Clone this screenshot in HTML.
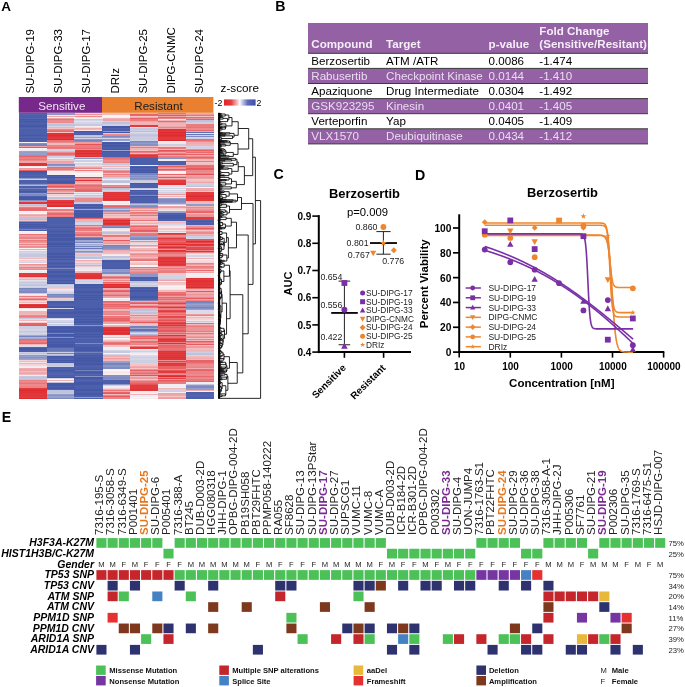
<!DOCTYPE html>
<html><head><meta charset="utf-8"><style>
html,body{margin:0;padding:0;background:#fff;}
svg{display:block;font-family:"Liberation Sans", sans-serif;filter:blur(0.3px);}
</style></head><body>
<svg width="685" height="687" viewBox="0 0 685 687">
<rect width="685" height="687" fill="#fff"/>
<text x="1.2" y="11" font-size="13.5" font-weight="bold">A</text>
<text x="275.2" y="11.1" font-size="14.2" font-weight="bold">B</text>
<text x="273.6" y="179.4" font-size="14.2" font-weight="bold">C</text>
<text x="414.9" y="179.5" font-size="14.2" font-weight="bold">D</text>
<text x="1.7" y="422.4" font-size="14.2" font-weight="bold">E</text>
<text transform="translate(33.6 93.6) rotate(-90)" font-size="11.5">SU-DIPG-19</text>
<text transform="translate(61.9 93.6) rotate(-90)" font-size="11.5">SU-DIPG-33</text>
<text transform="translate(90.2 93.6) rotate(-90)" font-size="11.5">SU-DIPG-17</text>
<text transform="translate(118.5 93.6) rotate(-90)" font-size="11.5">DRIz</text>
<text transform="translate(146.8 93.6) rotate(-90)" font-size="11.5">SU-DIPG-25</text>
<text transform="translate(175.1 93.6) rotate(-90)" font-size="11.5">DIPG-CNMC</text>
<text transform="translate(203.4 93.6) rotate(-90)" font-size="11.5">SU-DIPG-24</text>
<rect x="18.8" y="97" width="83.2" height="15.8" fill="#77298B"/>
<rect x="102" y="97" width="111.4" height="15.8" fill="#E8802F"/>
<text x="38.3" y="109.5" font-size="11.6" fill="#F3E6F3">Sensitive</text>
<text x="134.3" y="109.6" font-size="11.6" fill="#1a1a1a">Resistant</text>
<text x="220.6" y="92" font-size="11.7">z-score</text>
<text x="214.6" y="105.8" font-size="8.8">-2</text>
<text x="256.6" y="105.8" font-size="8.8">2</text>
<defs><linearGradient id="gr" x1="0" x2="1" y1="0" y2="0"><stop offset="0" stop-color="#E0262C"/><stop offset="0.22" stop-color="#E23A3E"/><stop offset="0.47" stop-color="#F8E0E2"/><stop offset="0.5" stop-color="#FFFFFF"/><stop offset="0.53" stop-color="#E4E6F4"/><stop offset="0.75" stop-color="#5D6BBA"/><stop offset="1" stop-color="#3E4FA9"/></linearGradient></defs>
<rect x="224" y="99.4" width="31.6" height="6.2" fill="url(#gr)"/>
<defs><filter id="hb" x="-2%" y="-2%" width="104%" height="104%"><feGaussianBlur stdDeviation="0.25 0.4"/></filter></defs>
<g shape-rendering="crispEdges" filter="url(#hb)">
<path fill="#E02A2E" d="M18.8 164.24h28.1v1.25h-28.1zM18.8 275.25h28.1v1.25h-28.1zM18.8 304.67h28.1v1.25h-28.1zM18.8 306.56h28.1v1.25h-28.1zM18.8 387.21h28.1v1.25h-28.1zM18.8 390.06h28.1v1.25h-28.1zM18.8 397.65h28.1v1.25h-28.1zM46.6 134.82h28.1v1.25h-28.1zM46.6 138.62h28.1v1.25h-28.1zM46.6 199.34h28.1v1.25h-28.1zM46.6 202.19h28.1v1.25h-28.1zM46.6 205.99h28.1v1.25h-28.1zM74.4 152.85h28.1v1.25h-28.1zM102.2 199.34h28.1v1.25h-28.1zM102.2 219.27h28.1v2.2h-28.1zM102.2 223.07h28.1v1.25h-28.1zM102.2 283.79h28.1v1.25h-28.1zM102.2 286.64h28.1v1.25h-28.1zM102.2 327.44h28.1v1.25h-28.1zM102.2 329.33h28.1v2.2h-28.1zM102.2 333.13h28.1v1.25h-28.1zM130 385.32h28.1v1.25h-28.1zM130 387.21h28.1v1.25h-28.1zM157.8 131.98h28.1v1.25h-28.1zM157.8 134.82h28.1v1.25h-28.1zM157.8 139.57h28.1v1.25h-28.1zM157.8 183.21h28.1v1.25h-28.1zM157.8 243.94h28.1v1.25h-28.1zM157.8 246.79h28.1v1.25h-28.1zM157.8 331.23h28.1v1.25h-28.1zM157.8 356.85h28.1v1.25h-28.1zM157.8 363.49h28.1v1.25h-28.1zM157.8 375.83h28.1v1.25h-28.1zM185.6 195.55h28.1v1.25h-28.1zM185.6 241.09h28.1v1.25h-28.1zM185.6 286.64h28.1v1.25h-28.1z"/>
<path fill="#E13236" d="M18.8 162.34h28.1v2.2h-28.1zM18.8 165.19h28.1v1.25h-28.1zM18.8 203.14h28.1v1.25h-28.1zM18.8 273.35h28.1v1.25h-28.1zM18.8 276.2h28.1v1.25h-28.1zM18.8 305.61h28.1v1.25h-28.1zM18.8 389.11h28.1v1.25h-28.1zM18.8 391.01h28.1v3.15h-28.1zM18.8 394.8h28.1v1.25h-28.1zM46.6 132.93h28.1v2.2h-28.1zM46.6 135.77h28.1v1.25h-28.1zM46.6 201.24h28.1v1.25h-28.1zM46.6 205.04h28.1v1.25h-28.1zM74.4 150h28.1v2.2h-28.1zM74.4 155.7h28.1v1.25h-28.1zM74.4 179.42h28.1v2.2h-28.1zM74.4 274.3h28.1v5.04h-28.1zM102.2 191.75h28.1v1.25h-28.1zM102.2 193.65h28.1v1.25h-28.1zM102.2 195.55h28.1v1.25h-28.1zM102.2 197.45h28.1v2.2h-28.1zM102.2 224.01h28.1v1.25h-28.1zM102.2 285.69h28.1v1.25h-28.1zM102.2 328.39h28.1v1.25h-28.1zM102.2 332.18h28.1v1.25h-28.1zM130 154.75h28.1v1.25h-28.1zM130 156.65h28.1v1.25h-28.1zM130 347.36h28.1v1.25h-28.1zM130 389.11h28.1v1.25h-28.1zM157.8 129.13h28.1v2.2h-28.1zM157.8 132.93h28.1v2.2h-28.1zM157.8 135.77h28.1v1.25h-28.1zM157.8 182.27h28.1v1.25h-28.1zM157.8 184.16h28.1v1.25h-28.1zM157.8 232.55h28.1v1.25h-28.1zM157.8 237.3h28.1v1.25h-28.1zM157.8 249.63h28.1v1.25h-28.1zM157.8 256.27h28.1v1.25h-28.1zM157.8 258.17h28.1v1.25h-28.1zM157.8 261.02h28.1v1.25h-28.1zM157.8 263.87h28.1v1.25h-28.1zM157.8 306.56h28.1v1.25h-28.1zM157.8 322.69h28.1v1.25h-28.1zM157.8 324.59h28.1v1.25h-28.1zM157.8 335.03h28.1v1.25h-28.1zM157.8 338.82h28.1v1.25h-28.1zM157.8 342.62h28.1v1.25h-28.1zM157.8 351.16h28.1v1.25h-28.1zM157.8 353.06h28.1v1.25h-28.1zM157.8 354.95h28.1v1.25h-28.1zM157.8 358.75h28.1v1.25h-28.1zM157.8 362.54h28.1v1.25h-28.1zM157.8 365.39h28.1v1.25h-28.1zM185.6 194.6h28.1v1.25h-28.1zM185.6 197.45h28.1v2.2h-28.1zM185.6 216.42h28.1v1.25h-28.1zM185.6 243.94h28.1v1.25h-28.1zM185.6 250.58h28.1v1.25h-28.1zM185.6 278.1h28.1v1.25h-28.1zM185.6 280h28.1v3.15h-28.1zM185.6 283.79h28.1v1.25h-28.1z"/>
<path fill="#E23A3E" d="M18.8 202.19h28.1v1.25h-28.1zM18.8 272.4h28.1v1.25h-28.1zM18.8 274.3h28.1v1.25h-28.1zM18.8 303.72h28.1v1.25h-28.1zM18.8 307.51h28.1v1.25h-28.1zM18.8 388.16h28.1v1.25h-28.1zM18.8 393.86h28.1v1.25h-28.1zM18.8 395.75h28.1v2.2h-28.1zM46.6 136.72h28.1v2.2h-28.1zM46.6 200.29h28.1v1.25h-28.1zM46.6 203.14h28.1v2.2h-28.1zM74.4 151.9h28.1v1.25h-28.1zM74.4 153.8h28.1v2.2h-28.1zM74.4 176.57h28.1v2.2h-28.1zM74.4 272.4h28.1v2.2h-28.1zM102.2 192.7h28.1v1.25h-28.1zM102.2 194.6h28.1v1.25h-28.1zM102.2 196.5h28.1v1.25h-28.1zM102.2 200.29h28.1v1.25h-28.1zM102.2 221.17h28.1v2.2h-28.1zM102.2 284.74h28.1v1.25h-28.1zM102.2 326.49h28.1v1.25h-28.1zM102.2 331.23h28.1v1.25h-28.1zM102.2 334.08h28.1v1.25h-28.1zM130 124.39h28.1v3.15h-28.1zM130 155.7h28.1v1.25h-28.1zM130 346.41h28.1v1.25h-28.1zM130 348.31h28.1v1.25h-28.1zM130 384.37h28.1v1.25h-28.1zM130 386.27h28.1v1.25h-28.1zM130 388.16h28.1v1.25h-28.1zM130 390.06h28.1v1.25h-28.1zM157.8 131.03h28.1v1.25h-28.1zM157.8 136.72h28.1v3.15h-28.1zM157.8 179.42h28.1v3.15h-28.1zM157.8 238.25h28.1v1.25h-28.1zM157.8 250.58h28.1v1.25h-28.1zM157.8 257.22h28.1v1.25h-28.1zM157.8 259.12h28.1v2.2h-28.1zM157.8 261.97h28.1v2.2h-28.1zM157.8 264.81h28.1v1.25h-28.1zM157.8 310.36h28.1v2.2h-28.1zM157.8 339.77h28.1v2.2h-28.1zM157.8 352.11h28.1v1.25h-28.1zM157.8 354h28.1v1.25h-28.1zM157.8 355.9h28.1v1.25h-28.1zM157.8 357.8h28.1v1.25h-28.1zM157.8 364.44h28.1v1.25h-28.1zM157.8 368.24h28.1v1.25h-28.1zM157.8 371.08h28.1v2.2h-28.1zM157.8 374.88h28.1v1.25h-28.1zM185.6 191.75h28.1v3.15h-28.1zM185.6 196.5h28.1v1.25h-28.1zM185.6 199.34h28.1v2.2h-28.1zM185.6 217.37h28.1v3.15h-28.1zM185.6 244.89h28.1v1.25h-28.1zM185.6 279.05h28.1v1.25h-28.1zM185.6 282.84h28.1v1.25h-28.1zM185.6 284.74h28.1v2.2h-28.1z"/>
<path fill="#E34246" d="M157.8 234.45h28.1v1.25h-28.1zM157.8 302.77h28.1v1.25h-28.1zM157.8 316.05h28.1v1.25h-28.1zM157.8 329.33h28.1v1.25h-28.1zM157.8 360.65h28.1v1.25h-28.1zM157.8 377.73h28.1v1.25h-28.1zM185.6 242.04h28.1v1.25h-28.1zM185.6 248.68h28.1v1.25h-28.1z"/>
<path fill="#E44A4E" d="M157.8 233.5h28.1v1.25h-28.1zM157.8 245.84h28.1v1.25h-28.1zM157.8 252.48h28.1v1.25h-28.1zM157.8 309.41h28.1v1.25h-28.1zM157.8 317h28.1v1.25h-28.1zM157.8 321.74h28.1v1.25h-28.1zM157.8 326.49h28.1v1.25h-28.1zM157.8 337.87h28.1v1.25h-28.1zM157.8 350.21h28.1v1.25h-28.1zM157.8 381.52h28.1v1.25h-28.1zM185.6 239.2h28.1v1.25h-28.1zM185.6 246.79h28.1v2.2h-28.1z"/>
<path fill="#E55256" d="M74.4 143.36h28.1v2.2h-28.1zM74.4 218.32h28.1v1.25h-28.1zM130 153.8h28.1v1.25h-28.1zM130 363.49h28.1v1.25h-28.1zM130 374.88h28.1v1.25h-28.1zM130 383.42h28.1v1.25h-28.1zM157.8 122.49h28.1v1.25h-28.1zM157.8 150h28.1v1.25h-28.1zM157.8 239.2h28.1v1.25h-28.1zM157.8 242.04h28.1v2.2h-28.1zM157.8 293.28h28.1v1.25h-28.1zM157.8 319.85h28.1v1.25h-28.1zM157.8 323.64h28.1v1.25h-28.1zM157.8 370.13h28.1v1.25h-28.1zM185.6 173.73h28.1v1.25h-28.1zM185.6 238.25h28.1v1.25h-28.1zM185.6 240.14h28.1v1.25h-28.1z"/>
<path fill="#E65A5E" d="M18.8 147.16h28.1v1.25h-28.1zM18.8 169.93h28.1v1.25h-28.1zM18.8 214.53h28.1v1.25h-28.1zM18.8 311.31h28.1v1.25h-28.1zM18.8 313.2h28.1v1.25h-28.1zM18.8 324.59h28.1v1.25h-28.1zM46.6 162.34h28.1v1.25h-28.1zM46.6 186.06h28.1v1.25h-28.1zM102.2 218.32h28.1v1.25h-28.1zM102.2 234.45h28.1v1.25h-28.1zM102.2 240.14h28.1v1.25h-28.1zM102.2 244.89h28.1v1.25h-28.1zM102.2 290.43h28.1v2.2h-28.1zM102.2 392.91h28.1v1.25h-28.1zM102.2 395.75h28.1v1.25h-28.1zM130 145.26h28.1v1.25h-28.1zM130 229.71h28.1v1.25h-28.1zM130 302.77h28.1v1.25h-28.1zM130 305.61h28.1v1.25h-28.1zM130 321.74h28.1v1.25h-28.1zM130 366.34h28.1v1.25h-28.1zM157.8 114.9h28.1v1.25h-28.1zM157.8 153.8h28.1v1.25h-28.1zM157.8 168.98h28.1v1.25h-28.1zM157.8 176.57h28.1v1.25h-28.1zM157.8 240.14h28.1v1.25h-28.1zM157.8 247.73h28.1v1.25h-28.1zM157.8 270.51h28.1v1.25h-28.1zM157.8 327.44h28.1v1.25h-28.1zM157.8 330.28h28.1v1.25h-28.1zM157.8 344.52h28.1v1.25h-28.1zM157.8 379.62h28.1v1.25h-28.1zM157.8 383.42h28.1v1.25h-28.1zM185.6 168.03h28.1v2.2h-28.1zM185.6 227.81h28.1v1.25h-28.1zM185.6 288.53h28.1v1.25h-28.1zM185.6 290.43h28.1v2.2h-28.1zM185.6 294.23h28.1v1.25h-28.1zM185.6 298.02h28.1v1.25h-28.1zM185.6 325.54h28.1v1.25h-28.1zM185.6 340.72h28.1v1.25h-28.1zM185.6 343.57h28.1v1.25h-28.1zM185.6 345.47h28.1v1.25h-28.1z"/>
<path fill="#E76366" d="M18.8 155.7h28.1v1.25h-28.1zM18.8 238.25h28.1v1.25h-28.1zM18.8 322.69h28.1v2.2h-28.1zM18.8 342.62h28.1v1.25h-28.1zM18.8 382.47h28.1v1.25h-28.1zM46.6 122.49h28.1v1.25h-28.1zM46.6 144.31h28.1v1.25h-28.1zM46.6 188.91h28.1v1.25h-28.1zM46.6 215.47h28.1v1.25h-28.1zM74.4 140.52h28.1v1.25h-28.1zM74.4 146.21h28.1v1.25h-28.1zM74.4 189.86h28.1v1.25h-28.1zM74.4 217.37h28.1v1.25h-28.1zM74.4 234.45h28.1v1.25h-28.1zM102.2 156.65h28.1v1.25h-28.1zM102.2 162.34h28.1v1.25h-28.1zM102.2 187.01h28.1v1.25h-28.1zM102.2 205.99h28.1v1.25h-28.1zM102.2 277.15h28.1v1.25h-28.1zM102.2 281.89h28.1v1.25h-28.1zM102.2 300.87h28.1v1.25h-28.1zM102.2 303.72h28.1v1.25h-28.1zM102.2 307.51h28.1v1.25h-28.1zM102.2 317.95h28.1v1.25h-28.1zM102.2 319.85h28.1v1.25h-28.1zM102.2 391.96h28.1v1.25h-28.1zM130 113.95h28.1v1.25h-28.1zM130 117.74h28.1v1.25h-28.1zM130 225.91h28.1v1.25h-28.1zM130 230.66h28.1v1.25h-28.1zM130 254.38h28.1v1.25h-28.1zM130 307.51h28.1v1.25h-28.1zM130 337.87h28.1v1.25h-28.1zM130 370.13h28.1v1.25h-28.1zM130 382.47h28.1v1.25h-28.1zM157.8 116.8h28.1v1.25h-28.1zM157.8 166.13h28.1v1.25h-28.1zM157.8 173.73h28.1v1.25h-28.1zM157.8 294.23h28.1v1.25h-28.1zM157.8 312.26h28.1v1.25h-28.1zM157.8 333.13h28.1v1.25h-28.1zM157.8 345.47h28.1v1.25h-28.1zM157.8 347.36h28.1v1.25h-28.1zM157.8 366.34h28.1v2.2h-28.1zM185.6 118.69h28.1v1.25h-28.1zM185.6 123.44h28.1v1.25h-28.1zM185.6 150h28.1v1.25h-28.1zM185.6 153.8h28.1v1.25h-28.1zM185.6 156.65h28.1v1.25h-28.1zM185.6 211.68h28.1v1.25h-28.1zM185.6 235.4h28.1v1.25h-28.1zM185.6 242.99h28.1v1.25h-28.1zM185.6 359.7h28.1v2.2h-28.1zM185.6 370.13h28.1v1.25h-28.1zM185.6 380.57h28.1v1.25h-28.1z"/>
<path fill="#E86B6E" d="M18.8 158.54h28.1v1.25h-28.1zM18.8 207.88h28.1v3.15h-28.1zM18.8 234.45h28.1v1.25h-28.1zM18.8 298.97h28.1v1.25h-28.1zM18.8 325.54h28.1v1.25h-28.1zM46.6 131.03h28.1v1.25h-28.1zM46.6 140.52h28.1v1.25h-28.1zM46.6 146.21h28.1v1.25h-28.1zM46.6 152.85h28.1v2.2h-28.1zM46.6 192.7h28.1v1.25h-28.1zM46.6 212.63h28.1v2.2h-28.1zM74.4 141.47h28.1v1.25h-28.1zM74.4 148.11h28.1v1.25h-28.1zM74.4 185.11h28.1v1.25h-28.1zM74.4 188.91h28.1v1.25h-28.1zM74.4 190.8h28.1v1.25h-28.1zM74.4 227.81h28.1v1.25h-28.1zM74.4 233.5h28.1v1.25h-28.1zM74.4 235.4h28.1v1.25h-28.1zM102.2 289.48h28.1v1.25h-28.1zM102.2 295.18h28.1v1.25h-28.1zM102.2 305.61h28.1v1.25h-28.1zM102.2 318.9h28.1v1.25h-28.1zM102.2 342.62h28.1v1.25h-28.1zM130 114.9h28.1v1.25h-28.1zM130 150.95h28.1v1.25h-28.1zM130 214.53h28.1v1.25h-28.1zM130 220.22h28.1v1.25h-28.1zM130 234.45h28.1v1.25h-28.1zM130 335.98h28.1v1.25h-28.1zM130 340.72h28.1v1.25h-28.1zM130 372.98h28.1v1.25h-28.1zM157.8 120.59h28.1v1.25h-28.1zM157.8 150.95h28.1v1.25h-28.1zM157.8 236.35h28.1v1.25h-28.1zM157.8 241.09h28.1v1.25h-28.1zM157.8 244.89h28.1v1.25h-28.1zM157.8 297.07h28.1v1.25h-28.1zM157.8 298.97h28.1v1.25h-28.1zM157.8 301.82h28.1v1.25h-28.1zM157.8 305.61h28.1v1.25h-28.1zM157.8 314.15h28.1v1.25h-28.1zM157.8 318.9h28.1v1.25h-28.1zM157.8 325.54h28.1v1.25h-28.1zM157.8 328.39h28.1v1.25h-28.1zM157.8 335.98h28.1v1.25h-28.1zM157.8 346.41h28.1v1.25h-28.1zM157.8 349.26h28.1v1.25h-28.1zM157.8 380.57h28.1v1.25h-28.1zM185.6 116.8h28.1v1.25h-28.1zM185.6 126.28h28.1v1.25h-28.1zM185.6 130.08h28.1v1.25h-28.1zM185.6 151.9h28.1v1.25h-28.1zM185.6 161.39h28.1v1.25h-28.1zM185.6 166.13h28.1v1.25h-28.1zM185.6 210.73h28.1v1.25h-28.1zM185.6 251.53h28.1v1.25h-28.1zM185.6 269.56h28.1v1.25h-28.1zM185.6 287.59h28.1v1.25h-28.1zM185.6 322.69h28.1v1.25h-28.1zM185.6 347.36h28.1v1.25h-28.1zM185.6 361.6h28.1v1.25h-28.1zM185.6 369.19h28.1v1.25h-28.1zM185.6 375.83h28.1v1.25h-28.1z"/>
<path fill="#E97376" d="M18.8 159.49h28.1v1.25h-28.1zM18.8 221.17h28.1v1.25h-28.1zM18.8 233.5h28.1v1.25h-28.1zM18.8 236.35h28.1v1.25h-28.1zM18.8 339.77h28.1v1.25h-28.1zM18.8 341.67h28.1v1.25h-28.1zM18.8 383.42h28.1v1.25h-28.1zM46.6 118.69h28.1v1.25h-28.1zM46.6 130.08h28.1v1.25h-28.1zM46.6 139.57h28.1v1.25h-28.1zM46.6 141.47h28.1v1.25h-28.1zM46.6 147.16h28.1v1.25h-28.1zM46.6 168.98h28.1v1.25h-28.1zM46.6 187.01h28.1v1.25h-28.1zM74.4 186.06h28.1v1.25h-28.1zM74.4 224.96h28.1v1.25h-28.1zM102.2 157.6h28.1v1.25h-28.1zM102.2 159.49h28.1v1.25h-28.1zM102.2 170.88h28.1v1.25h-28.1zM102.2 217.37h28.1v1.25h-28.1zM102.2 235.4h28.1v1.25h-28.1zM102.2 275.25h28.1v1.25h-28.1zM102.2 294.23h28.1v1.25h-28.1zM102.2 301.82h28.1v1.25h-28.1zM102.2 304.67h28.1v1.25h-28.1zM102.2 316.05h28.1v1.25h-28.1zM102.2 390.06h28.1v1.25h-28.1zM130 206.93h28.1v1.25h-28.1zM130 211.68h28.1v1.25h-28.1zM130 215.47h28.1v1.25h-28.1zM130 219.27h28.1v1.25h-28.1zM130 233.5h28.1v1.25h-28.1zM130 235.4h28.1v1.25h-28.1zM130 256.27h28.1v1.25h-28.1zM130 260.07h28.1v1.25h-28.1zM130 266.71h28.1v1.25h-28.1zM130 301.82h28.1v1.25h-28.1zM130 306.56h28.1v1.25h-28.1zM130 341.67h28.1v1.25h-28.1zM130 380.57h28.1v2.2h-28.1zM157.8 113h28.1v1.25h-28.1zM157.8 127.23h28.1v1.25h-28.1zM157.8 147.16h28.1v1.25h-28.1zM157.8 251.53h28.1v1.25h-28.1zM157.8 253.43h28.1v1.25h-28.1zM157.8 255.33h28.1v1.25h-28.1zM157.8 291.38h28.1v2.2h-28.1zM157.8 295.18h28.1v1.25h-28.1zM157.8 320.8h28.1v1.25h-28.1zM157.8 336.93h28.1v1.25h-28.1zM157.8 348.31h28.1v1.25h-28.1zM185.6 114.9h28.1v1.25h-28.1zM185.6 127.23h28.1v1.25h-28.1zM185.6 139.57h28.1v1.25h-28.1zM185.6 145.26h28.1v1.25h-28.1zM185.6 165.19h28.1v1.25h-28.1zM185.6 167.08h28.1v1.25h-28.1zM185.6 245.84h28.1v1.25h-28.1zM185.6 331.23h28.1v1.25h-28.1zM185.6 333.13h28.1v1.25h-28.1zM185.6 367.29h28.1v1.25h-28.1zM185.6 378.67h28.1v1.25h-28.1z"/>
<path fill="#EA7B7E" d="M18.8 156.65h28.1v1.25h-28.1zM18.8 206.93h28.1v1.25h-28.1zM18.8 240.14h28.1v1.25h-28.1zM18.8 296.13h28.1v1.25h-28.1zM18.8 316.05h28.1v1.25h-28.1zM18.8 385.32h28.1v1.25h-28.1zM46.6 148.11h28.1v1.25h-28.1zM46.6 168.03h28.1v1.25h-28.1zM46.6 184.16h28.1v2.2h-28.1zM46.6 209.78h28.1v1.25h-28.1zM46.6 216.42h28.1v1.25h-28.1zM74.4 145.26h28.1v1.25h-28.1zM74.4 147.16h28.1v1.25h-28.1zM74.4 169.93h28.1v1.25h-28.1zM74.4 187.01h28.1v2.2h-28.1zM74.4 228.76h28.1v2.2h-28.1zM102.2 158.54h28.1v1.25h-28.1zM102.2 161.39h28.1v1.25h-28.1zM102.2 173.73h28.1v1.25h-28.1zM102.2 205.04h28.1v1.25h-28.1zM102.2 236.35h28.1v1.25h-28.1zM102.2 308.46h28.1v1.25h-28.1zM102.2 310.36h28.1v1.25h-28.1zM102.2 317h28.1v1.25h-28.1zM102.2 341.67h28.1v1.25h-28.1zM102.2 343.57h28.1v1.25h-28.1zM130 118.69h28.1v2.2h-28.1zM130 147.16h28.1v1.25h-28.1zM130 232.55h28.1v1.25h-28.1zM130 259.12h28.1v1.25h-28.1zM130 271.46h28.1v1.25h-28.1zM130 336.93h28.1v1.25h-28.1zM130 345.47h28.1v1.25h-28.1zM157.8 148.11h28.1v1.25h-28.1zM157.8 155.7h28.1v1.25h-28.1zM157.8 267.66h28.1v1.25h-28.1zM157.8 271.46h28.1v2.2h-28.1zM157.8 303.72h28.1v1.25h-28.1zM157.8 317.95h28.1v1.25h-28.1zM157.8 341.67h28.1v1.25h-28.1zM157.8 361.6h28.1v1.25h-28.1zM157.8 372.98h28.1v1.25h-28.1zM157.8 376.78h28.1v1.25h-28.1zM157.8 382.47h28.1v1.25h-28.1zM185.6 124.39h28.1v2.2h-28.1zM185.6 157.6h28.1v1.25h-28.1zM185.6 160.44h28.1v1.25h-28.1zM185.6 172.78h28.1v1.25h-28.1zM185.6 265.76h28.1v1.25h-28.1zM185.6 272.4h28.1v1.25h-28.1zM185.6 326.49h28.1v1.25h-28.1zM185.6 330.28h28.1v1.25h-28.1zM185.6 362.54h28.1v2.2h-28.1zM185.6 379.62h28.1v1.25h-28.1z"/>
<path fill="#EB8386" d="M18.8 157.6h28.1v1.25h-28.1zM18.8 237.3h28.1v1.25h-28.1zM18.8 243.94h28.1v1.25h-28.1zM18.8 266.71h28.1v1.25h-28.1zM18.8 340.72h28.1v1.25h-28.1zM18.8 379.62h28.1v1.25h-28.1zM18.8 381.52h28.1v1.25h-28.1zM18.8 386.27h28.1v1.25h-28.1zM46.6 145.26h28.1v1.25h-28.1zM46.6 208.83h28.1v1.25h-28.1zM46.6 214.53h28.1v1.25h-28.1zM74.4 164.24h28.1v1.25h-28.1zM74.4 168.03h28.1v1.25h-28.1zM74.4 198.4h28.1v1.25h-28.1zM74.4 226.86h28.1v1.25h-28.1zM74.4 231.6h28.1v2.2h-28.1zM102.2 134.82h28.1v1.25h-28.1zM102.2 171.83h28.1v1.25h-28.1zM102.2 185.11h28.1v1.25h-28.1zM102.2 212.63h28.1v1.25h-28.1zM102.2 282.84h28.1v1.25h-28.1zM102.2 306.56h28.1v1.25h-28.1zM102.2 311.31h28.1v1.25h-28.1zM102.2 313.2h28.1v2.2h-28.1zM102.2 320.8h28.1v1.25h-28.1zM102.2 344.52h28.1v1.25h-28.1zM102.2 394.8h28.1v1.25h-28.1zM102.2 396.7h28.1v2.2h-28.1zM130 151.9h28.1v1.25h-28.1zM130 212.63h28.1v1.25h-28.1zM130 227.81h28.1v2.2h-28.1zM130 268.61h28.1v1.25h-28.1zM130 272.4h28.1v1.25h-28.1zM130 315.1h28.1v1.25h-28.1zM130 335.03h28.1v1.25h-28.1zM130 343.57h28.1v1.25h-28.1zM130 372.03h28.1v1.25h-28.1zM157.8 117.74h28.1v1.25h-28.1zM157.8 126.28h28.1v1.25h-28.1zM157.8 152.85h28.1v1.25h-28.1zM157.8 169.93h28.1v1.25h-28.1zM157.8 178.47h28.1v1.25h-28.1zM157.8 269.56h28.1v1.25h-28.1zM157.8 298.02h28.1v1.25h-28.1zM157.8 300.87h28.1v1.25h-28.1zM157.8 307.51h28.1v2.2h-28.1zM157.8 313.2h28.1v1.25h-28.1zM157.8 343.57h28.1v1.25h-28.1zM185.6 140.52h28.1v1.25h-28.1zM185.6 143.36h28.1v1.25h-28.1zM185.6 150.95h28.1v1.25h-28.1zM185.6 170.88h28.1v1.25h-28.1zM185.6 182.27h28.1v1.25h-28.1zM185.6 228.76h28.1v1.25h-28.1zM185.6 249.63h28.1v1.25h-28.1zM185.6 252.48h28.1v1.25h-28.1zM185.6 262.92h28.1v1.25h-28.1zM185.6 266.71h28.1v1.25h-28.1zM185.6 299.92h28.1v1.25h-28.1zM185.6 315.1h28.1v1.25h-28.1zM185.6 328.39h28.1v1.25h-28.1zM185.6 338.82h28.1v1.25h-28.1zM185.6 341.67h28.1v1.25h-28.1zM185.6 366.34h28.1v1.25h-28.1zM185.6 371.08h28.1v3.15h-28.1zM185.6 376.78h28.1v1.25h-28.1z"/>
<path fill="#EC8B8E" d="M18.8 145.26h28.1v1.25h-28.1zM18.8 160.44h28.1v1.25h-28.1zM18.8 241.09h28.1v1.25h-28.1zM18.8 245.84h28.1v1.25h-28.1zM18.8 268.61h28.1v1.25h-28.1zM18.8 298.02h28.1v1.25h-28.1zM18.8 315.1h28.1v1.25h-28.1zM18.8 380.57h28.1v1.25h-28.1zM18.8 384.37h28.1v1.25h-28.1zM46.6 119.64h28.1v3.15h-28.1zM46.6 126.28h28.1v1.25h-28.1zM46.6 129.13h28.1v1.25h-28.1zM46.6 142.41h28.1v1.25h-28.1zM46.6 151.9h28.1v1.25h-28.1zM46.6 154.75h28.1v1.25h-28.1zM46.6 189.86h28.1v1.25h-28.1zM46.6 211.68h28.1v1.25h-28.1zM74.4 115.85h28.1v1.25h-28.1zM74.4 123.44h28.1v1.25h-28.1zM74.4 178.47h28.1v1.25h-28.1zM74.4 184.16h28.1v1.25h-28.1zM74.4 197.45h28.1v1.25h-28.1zM74.4 199.34h28.1v3.15h-28.1zM102.2 133.87h28.1v1.25h-28.1zM102.2 160.44h28.1v1.25h-28.1zM102.2 186.06h28.1v1.25h-28.1zM102.2 276.2h28.1v1.25h-28.1zM102.2 278.1h28.1v1.25h-28.1zM102.2 280h28.1v1.25h-28.1zM102.2 293.28h28.1v1.25h-28.1zM102.2 302.77h28.1v1.25h-28.1zM102.2 312.26h28.1v1.25h-28.1zM130 209.78h28.1v1.25h-28.1zM130 217.37h28.1v1.25h-28.1zM130 241.09h28.1v1.25h-28.1zM130 253.43h28.1v1.25h-28.1zM130 320.8h28.1v1.25h-28.1zM130 342.62h28.1v1.25h-28.1zM130 371.08h28.1v1.25h-28.1zM157.8 167.08h28.1v1.25h-28.1zM157.8 210.73h28.1v1.25h-28.1zM157.8 235.4h28.1v1.25h-28.1zM157.8 254.38h28.1v1.25h-28.1zM157.8 265.76h28.1v1.25h-28.1zM157.8 274.3h28.1v1.25h-28.1zM157.8 289.48h28.1v1.25h-28.1zM157.8 315.1h28.1v1.25h-28.1zM157.8 332.18h28.1v1.25h-28.1zM157.8 369.19h28.1v1.25h-28.1zM157.8 373.93h28.1v1.25h-28.1zM185.6 128.18h28.1v2.2h-28.1zM185.6 141.47h28.1v1.25h-28.1zM185.6 149.06h28.1v1.25h-28.1zM185.6 155.7h28.1v1.25h-28.1zM185.6 158.54h28.1v1.25h-28.1zM185.6 169.93h28.1v1.25h-28.1zM185.6 206.93h28.1v1.25h-28.1zM185.6 209.78h28.1v1.25h-28.1zM185.6 226.86h28.1v1.25h-28.1zM185.6 231.6h28.1v2.2h-28.1zM185.6 297.07h28.1v1.25h-28.1zM185.6 336.93h28.1v1.25h-28.1zM185.6 364.44h28.1v2.2h-28.1zM185.6 373.93h28.1v2.2h-28.1zM185.6 377.73h28.1v1.25h-28.1z"/>
<path fill="#EC9396" d="M18.8 242.04h28.1v1.25h-28.1zM18.8 246.79h28.1v1.25h-28.1zM18.8 263.87h28.1v1.25h-28.1zM18.8 317h28.1v1.25h-28.1zM18.8 367.29h28.1v1.25h-28.1zM46.6 160.44h28.1v1.25h-28.1zM74.4 113.95h28.1v1.25h-28.1zM74.4 149.06h28.1v1.25h-28.1zM130 224.96h28.1v1.25h-28.1zM130 226.86h28.1v1.25h-28.1zM130 244.89h28.1v1.25h-28.1zM130 270.51h28.1v1.25h-28.1zM130 369.19h28.1v1.25h-28.1zM130 373.93h28.1v1.25h-28.1zM157.8 113.95h28.1v1.25h-28.1zM157.8 165.19h28.1v1.25h-28.1zM157.8 193.65h28.1v1.25h-28.1zM157.8 248.68h28.1v1.25h-28.1zM157.8 268.61h28.1v1.25h-28.1zM157.8 304.67h28.1v1.25h-28.1zM157.8 334.08h28.1v1.25h-28.1zM157.8 359.7h28.1v1.25h-28.1zM157.8 378.67h28.1v1.25h-28.1zM185.6 117.74h28.1v1.25h-28.1zM185.6 171.83h28.1v1.25h-28.1zM185.6 176.57h28.1v2.2h-28.1zM185.6 208.83h28.1v1.25h-28.1zM185.6 213.58h28.1v3.15h-28.1zM185.6 225.91h28.1v1.25h-28.1zM185.6 267.66h28.1v1.25h-28.1zM185.6 293.28h28.1v1.25h-28.1zM185.6 324.59h28.1v1.25h-28.1zM185.6 327.44h28.1v1.25h-28.1zM185.6 329.33h28.1v1.25h-28.1zM185.6 349.26h28.1v1.25h-28.1z"/>
<path fill="#ED9B9E" d="M18.8 168.03h28.1v1.25h-28.1zM18.8 235.4h28.1v1.25h-28.1zM18.8 267.66h28.1v1.25h-28.1zM46.6 190.8h28.1v1.25h-28.1zM74.4 142.41h28.1v1.25h-28.1zM102.2 169.93h28.1v1.25h-28.1zM102.2 175.62h28.1v1.25h-28.1zM102.2 242.99h28.1v1.25h-28.1zM102.2 292.33h28.1v1.25h-28.1zM102.2 296.13h28.1v1.25h-28.1zM102.2 357.8h28.1v1.25h-28.1zM130 121.54h28.1v1.25h-28.1zM130 207.88h28.1v1.25h-28.1zM130 249.63h28.1v1.25h-28.1zM130 258.17h28.1v1.25h-28.1zM130 304.67h28.1v1.25h-28.1zM130 319.85h28.1v1.25h-28.1zM130 376.78h28.1v2.2h-28.1zM130 379.62h28.1v1.25h-28.1zM157.8 146.21h28.1v1.25h-28.1zM157.8 168.03h28.1v1.25h-28.1zM157.8 206.93h28.1v1.25h-28.1zM157.8 266.71h28.1v1.25h-28.1zM157.8 299.92h28.1v1.25h-28.1zM157.8 397.65h28.1v1.25h-28.1zM185.6 113.95h28.1v1.25h-28.1zM185.6 175.62h28.1v1.25h-28.1zM185.6 263.87h28.1v1.25h-28.1zM185.6 314.15h28.1v1.25h-28.1zM185.6 335.98h28.1v1.25h-28.1zM185.6 342.62h28.1v1.25h-28.1zM185.6 346.41h28.1v1.25h-28.1z"/>
<path fill="#EEA3A6" d="M18.8 146.21h28.1v1.25h-28.1zM18.8 161.39h28.1v1.25h-28.1zM18.8 168.98h28.1v1.25h-28.1zM18.8 185.11h28.1v1.25h-28.1zM18.8 215.47h28.1v1.25h-28.1zM18.8 218.32h28.1v1.25h-28.1zM18.8 369.19h28.1v2.2h-28.1zM18.8 372.98h28.1v1.25h-28.1zM46.6 117.74h28.1v1.25h-28.1zM46.6 161.39h28.1v1.25h-28.1zM74.4 162.34h28.1v1.25h-28.1zM74.4 167.08h28.1v1.25h-28.1zM74.4 181.32h28.1v2.2h-28.1zM74.4 253.43h28.1v1.25h-28.1zM74.4 264.81h28.1v1.25h-28.1zM102.2 118.69h28.1v2.2h-28.1zM102.2 174.67h28.1v1.25h-28.1zM102.2 242.04h28.1v1.25h-28.1zM102.2 288.53h28.1v1.25h-28.1zM102.2 297.07h28.1v1.25h-28.1zM102.2 321.74h28.1v2.2h-28.1zM102.2 325.54h28.1v1.25h-28.1zM130 120.59h28.1v1.25h-28.1zM130 213.58h28.1v1.25h-28.1zM130 252.48h28.1v1.25h-28.1zM130 255.33h28.1v1.25h-28.1zM130 269.56h28.1v1.25h-28.1zM130 317h28.1v1.25h-28.1zM130 338.82h28.1v2.2h-28.1zM130 367.29h28.1v1.25h-28.1zM157.8 115.85h28.1v1.25h-28.1zM157.8 121.54h28.1v1.25h-28.1zM157.8 128.18h28.1v1.25h-28.1zM157.8 151.9h28.1v1.25h-28.1zM157.8 154.75h28.1v1.25h-28.1zM157.8 175.62h28.1v1.25h-28.1zM157.8 205.99h28.1v1.25h-28.1zM157.8 280h28.1v1.25h-28.1zM157.8 296.13h28.1v1.25h-28.1zM157.8 392.91h28.1v2.2h-28.1zM157.8 396.7h28.1v1.25h-28.1zM185.6 131.03h28.1v1.25h-28.1zM185.6 152.85h28.1v1.25h-28.1zM185.6 174.67h28.1v1.25h-28.1zM185.6 178.47h28.1v1.25h-28.1zM185.6 181.32h28.1v1.25h-28.1zM185.6 189.86h28.1v1.25h-28.1zM185.6 207.88h28.1v1.25h-28.1zM185.6 230.66h28.1v1.25h-28.1zM185.6 271.46h28.1v1.25h-28.1zM185.6 295.18h28.1v2.2h-28.1zM185.6 298.97h28.1v1.25h-28.1zM185.6 313.2h28.1v1.25h-28.1zM185.6 334.08h28.1v1.25h-28.1z"/>
<path fill="#EFABAE" d="M18.8 219.27h28.1v1.25h-28.1zM18.8 248.68h28.1v1.25h-28.1zM18.8 251.53h28.1v1.25h-28.1zM18.8 264.81h28.1v1.25h-28.1zM18.8 294.23h28.1v1.25h-28.1zM18.8 363.49h28.1v1.25h-28.1zM18.8 368.24h28.1v1.25h-28.1zM18.8 372.03h28.1v1.25h-28.1zM46.6 115.85h28.1v1.25h-28.1zM46.6 163.29h28.1v1.25h-28.1zM46.6 169.93h28.1v1.25h-28.1zM74.4 128.18h28.1v1.25h-28.1zM74.4 225.91h28.1v1.25h-28.1zM74.4 236.35h28.1v1.25h-28.1zM74.4 260.07h28.1v1.25h-28.1zM102.2 211.68h28.1v1.25h-28.1zM102.2 214.53h28.1v1.25h-28.1zM102.2 241.09h28.1v1.25h-28.1zM102.2 249.63h28.1v1.25h-28.1zM102.2 251.53h28.1v1.25h-28.1zM102.2 287.59h28.1v1.25h-28.1zM102.2 340.72h28.1v1.25h-28.1zM102.2 355.9h28.1v1.25h-28.1zM102.2 391.01h28.1v1.25h-28.1zM130 113h28.1v1.25h-28.1zM130 116.8h28.1v1.25h-28.1zM130 131.03h28.1v1.25h-28.1zM130 218.32h28.1v1.25h-28.1zM130 267.66h28.1v1.25h-28.1zM130 300.87h28.1v1.25h-28.1zM130 308.46h28.1v1.25h-28.1zM130 317.95h28.1v1.25h-28.1zM130 365.39h28.1v1.25h-28.1zM157.8 125.33h28.1v1.25h-28.1zM157.8 142.41h28.1v1.25h-28.1zM157.8 394.8h28.1v1.25h-28.1zM185.6 113h28.1v1.25h-28.1zM185.6 142.41h28.1v1.25h-28.1zM185.6 154.75h28.1v1.25h-28.1zM185.6 164.24h28.1v1.25h-28.1zM185.6 187.96h28.1v2.2h-28.1zM185.6 234.45h28.1v1.25h-28.1zM185.6 292.33h28.1v1.25h-28.1zM185.6 357.8h28.1v1.25h-28.1zM185.6 368.24h28.1v1.25h-28.1zM185.6 390.06h28.1v1.25h-28.1z"/>
<path fill="#F0B3B6" d="M18.8 213.58h28.1v1.25h-28.1zM18.8 277.15h28.1v1.25h-28.1zM18.8 279.05h28.1v1.25h-28.1zM18.8 310.36h28.1v1.25h-28.1zM18.8 312.26h28.1v1.25h-28.1zM18.8 344.52h28.1v1.25h-28.1zM18.8 362.54h28.1v1.25h-28.1zM46.6 127.23h28.1v1.25h-28.1zM46.6 379.62h28.1v1.25h-28.1zM74.4 194.6h28.1v1.25h-28.1zM74.4 196.5h28.1v1.25h-28.1zM74.4 219.27h28.1v2.2h-28.1zM74.4 230.66h28.1v1.25h-28.1zM74.4 271.46h28.1v1.25h-28.1zM102.2 117.74h28.1v1.25h-28.1zM102.2 166.13h28.1v1.25h-28.1zM102.2 215.47h28.1v1.25h-28.1zM102.2 239.2h28.1v1.25h-28.1zM102.2 250.58h28.1v1.25h-28.1zM102.2 309.41h28.1v1.25h-28.1zM102.2 324.59h28.1v1.25h-28.1zM102.2 346.41h28.1v1.25h-28.1zM102.2 358.75h28.1v1.25h-28.1zM130 122.49h28.1v2.2h-28.1zM130 148.11h28.1v2.2h-28.1zM130 231.6h28.1v1.25h-28.1zM130 303.72h28.1v1.25h-28.1zM130 318.9h28.1v1.25h-28.1zM130 322.69h28.1v1.25h-28.1zM130 393.86h28.1v1.25h-28.1zM157.8 119.64h28.1v1.25h-28.1zM157.8 123.44h28.1v2.2h-28.1zM157.8 177.52h28.1v1.25h-28.1zM157.8 195.55h28.1v1.25h-28.1zM157.8 222.12h28.1v1.25h-28.1zM157.8 388.16h28.1v1.25h-28.1zM185.6 144.31h28.1v1.25h-28.1zM185.6 201.24h28.1v1.25h-28.1zM185.6 224.96h28.1v1.25h-28.1zM185.6 233.5h28.1v1.25h-28.1zM185.6 258.17h28.1v1.25h-28.1zM185.6 264.81h28.1v1.25h-28.1zM185.6 289.48h28.1v1.25h-28.1zM185.6 309.41h28.1v1.25h-28.1zM185.6 332.18h28.1v1.25h-28.1zM185.6 335.03h28.1v1.25h-28.1zM185.6 350.21h28.1v1.25h-28.1zM185.6 356.85h28.1v1.25h-28.1z"/>
<path fill="#F1BBBE" d="M18.8 216.42h28.1v1.25h-28.1zM18.8 239.2h28.1v1.25h-28.1zM18.8 242.99h28.1v1.25h-28.1zM18.8 244.89h28.1v1.25h-28.1zM18.8 258.17h28.1v1.25h-28.1zM18.8 265.76h28.1v1.25h-28.1zM18.8 299.92h28.1v1.25h-28.1zM18.8 301.82h28.1v1.25h-28.1zM18.8 314.15h28.1v1.25h-28.1zM18.8 319.85h28.1v1.25h-28.1zM18.8 343.57h28.1v1.25h-28.1zM18.8 360.65h28.1v1.25h-28.1zM18.8 371.08h28.1v1.25h-28.1zM18.8 373.93h28.1v1.25h-28.1zM46.6 123.44h28.1v1.25h-28.1zM46.6 143.36h28.1v1.25h-28.1zM46.6 191.75h28.1v1.25h-28.1zM46.6 210.73h28.1v1.25h-28.1zM74.4 118.69h28.1v1.25h-28.1zM74.4 183.21h28.1v1.25h-28.1zM74.4 254.38h28.1v2.2h-28.1zM74.4 262.92h28.1v1.25h-28.1zM74.4 270.51h28.1v1.25h-28.1zM102.2 113h28.1v2.2h-28.1zM102.2 141.47h28.1v1.25h-28.1zM102.2 172.78h28.1v1.25h-28.1zM102.2 237.3h28.1v2.2h-28.1zM102.2 252.48h28.1v2.2h-28.1zM102.2 279.05h28.1v1.25h-28.1zM102.2 359.7h28.1v1.25h-28.1zM102.2 393.86h28.1v1.25h-28.1zM130 129.13h28.1v1.25h-28.1zM130 146.21h28.1v1.25h-28.1zM130 152.85h28.1v1.25h-28.1zM130 216.42h28.1v1.25h-28.1zM130 245.84h28.1v1.25h-28.1zM130 247.73h28.1v1.25h-28.1zM130 257.22h28.1v1.25h-28.1zM130 263.87h28.1v1.25h-28.1zM130 316.05h28.1v1.25h-28.1zM130 324.59h28.1v1.25h-28.1zM130 375.83h28.1v1.25h-28.1zM157.8 149.06h28.1v1.25h-28.1zM157.8 281.89h28.1v1.25h-28.1zM157.8 290.43h28.1v1.25h-28.1zM157.8 386.27h28.1v1.25h-28.1zM185.6 159.49h28.1v1.25h-28.1zM185.6 163.29h28.1v1.25h-28.1zM185.6 180.37h28.1v1.25h-28.1zM185.6 202.19h28.1v2.2h-28.1zM185.6 205.99h28.1v1.25h-28.1zM185.6 212.63h28.1v1.25h-28.1zM185.6 268.61h28.1v1.25h-28.1zM185.6 317h28.1v1.25h-28.1zM185.6 320.8h28.1v1.25h-28.1zM185.6 323.64h28.1v1.25h-28.1zM185.6 339.77h28.1v1.25h-28.1zM185.6 344.52h28.1v1.25h-28.1zM185.6 348.31h28.1v1.25h-28.1zM185.6 355.9h28.1v1.25h-28.1zM185.6 358.75h28.1v1.25h-28.1z"/>
<path fill="#F2C4C6" d="M18.8 205.99h28.1v1.25h-28.1zM18.8 220.22h28.1v1.25h-28.1zM18.8 250.58h28.1v1.25h-28.1zM18.8 282.84h28.1v1.25h-28.1zM18.8 297.07h28.1v1.25h-28.1zM46.6 128.18h28.1v1.25h-28.1zM46.6 131.98h28.1v1.25h-28.1zM46.6 159.49h28.1v1.25h-28.1zM46.6 187.96h28.1v1.25h-28.1zM46.6 298.97h28.1v1.25h-28.1zM74.4 126.28h28.1v1.25h-28.1zM74.4 166.13h28.1v1.25h-28.1zM102.2 120.59h28.1v1.25h-28.1zM102.2 132.93h28.1v1.25h-28.1zM102.2 213.58h28.1v1.25h-28.1zM102.2 216.42h28.1v1.25h-28.1zM102.2 230.66h28.1v1.25h-28.1zM102.2 243.94h28.1v1.25h-28.1zM102.2 280.94h28.1v1.25h-28.1zM102.2 315.1h28.1v1.25h-28.1zM102.2 339.77h28.1v1.25h-28.1zM102.2 345.47h28.1v1.25h-28.1zM102.2 356.85h28.1v1.25h-28.1zM130 115.85h28.1v1.25h-28.1zM130 150h28.1v1.25h-28.1zM130 208.83h28.1v1.25h-28.1zM130 210.73h28.1v1.25h-28.1zM130 222.12h28.1v1.25h-28.1zM130 314.15h28.1v1.25h-28.1zM130 323.64h28.1v1.25h-28.1zM130 344.52h28.1v1.25h-28.1zM130 351.16h28.1v1.25h-28.1zM130 364.44h28.1v1.25h-28.1zM130 368.24h28.1v1.25h-28.1zM130 378.67h28.1v1.25h-28.1zM157.8 174.67h28.1v1.25h-28.1zM157.8 223.07h28.1v1.25h-28.1zM157.8 227.81h28.1v1.25h-28.1zM157.8 273.35h28.1v1.25h-28.1zM157.8 282.84h28.1v2.2h-28.1zM157.8 389.11h28.1v1.25h-28.1zM157.8 395.75h28.1v1.25h-28.1zM185.6 115.85h28.1v1.25h-28.1zM185.6 162.34h28.1v1.25h-28.1zM185.6 179.42h28.1v1.25h-28.1zM185.6 190.8h28.1v1.25h-28.1zM185.6 229.71h28.1v1.25h-28.1zM185.6 270.51h28.1v1.25h-28.1zM185.6 337.87h28.1v1.25h-28.1z"/>
<path fill="#F3CCCE" d="M18.8 260.07h28.1v1.25h-28.1zM18.8 278.1h28.1v1.25h-28.1zM18.8 321.74h28.1v1.25h-28.1zM18.8 346.41h28.1v1.25h-28.1zM18.8 365.39h28.1v1.25h-28.1zM46.6 194.6h28.1v1.25h-28.1zM46.6 287.59h28.1v1.25h-28.1zM46.6 298.02h28.1v1.25h-28.1zM74.4 159.49h28.1v1.25h-28.1zM74.4 265.76h28.1v1.25h-28.1zM102.2 233.5h28.1v1.25h-28.1zM102.2 385.32h28.1v1.25h-28.1zM130 242.04h28.1v1.25h-28.1zM130 261.97h28.1v1.25h-28.1zM157.8 207.88h28.1v1.25h-28.1zM185.6 253.43h28.1v1.25h-28.1zM185.6 317.95h28.1v1.25h-28.1z"/>
<path fill="#F4D4D6" d="M18.8 261.02h28.1v1.25h-28.1zM18.8 300.87h28.1v1.25h-28.1zM18.8 318.9h28.1v1.25h-28.1zM18.8 359.7h28.1v1.25h-28.1zM18.8 364.44h28.1v1.25h-28.1zM46.6 193.65h28.1v1.25h-28.1zM74.4 261.97h28.1v1.25h-28.1zM102.2 178.47h28.1v1.25h-28.1zM102.2 388.16h28.1v1.25h-28.1zM130 224.01h28.1v1.25h-28.1zM130 251.53h28.1v1.25h-28.1zM157.8 145.26h28.1v1.25h-28.1zM157.8 185.11h28.1v1.25h-28.1zM185.6 261.97h28.1v1.25h-28.1zM185.6 318.9h28.1v1.25h-28.1z"/>
<path fill="#F5DCDE" d="M18.8 295.18h28.1v1.25h-28.1zM74.4 116.8h28.1v1.25h-28.1zM74.4 120.59h28.1v1.25h-28.1zM74.4 165.19h28.1v1.25h-28.1zM74.4 170.88h28.1v1.25h-28.1zM74.4 266.71h28.1v1.25h-28.1zM130 221.17h28.1v1.25h-28.1zM157.8 190.8h28.1v1.25h-28.1zM185.6 260.07h28.1v1.25h-28.1zM185.6 316.05h28.1v1.25h-28.1z"/>
<path fill="#F6E4E6" d="M18.8 302.77h28.1v1.25h-28.1zM18.8 308.46h28.1v1.25h-28.1zM18.8 361.6h28.1v1.25h-28.1zM46.6 114.9h28.1v1.25h-28.1zM46.6 195.55h28.1v1.25h-28.1zM46.6 288.53h28.1v1.25h-28.1zM46.6 322.69h28.1v1.25h-28.1zM46.6 381.52h28.1v1.25h-28.1zM74.4 121.54h28.1v1.25h-28.1zM74.4 130.08h28.1v1.25h-28.1zM74.4 171.83h28.1v1.25h-28.1zM102.2 140.52h28.1v1.25h-28.1zM102.2 167.08h28.1v1.25h-28.1zM102.2 203.14h28.1v1.25h-28.1zM102.2 228.76h28.1v1.25h-28.1zM102.2 254.38h28.1v1.25h-28.1zM102.2 298.97h28.1v1.25h-28.1zM102.2 335.03h28.1v2.2h-28.1zM102.2 338.82h28.1v1.25h-28.1zM102.2 348.31h28.1v1.25h-28.1zM102.2 372.03h28.1v1.25h-28.1zM157.8 118.69h28.1v1.25h-28.1zM157.8 143.36h28.1v1.25h-28.1zM157.8 158.54h28.1v1.25h-28.1zM157.8 160.44h28.1v1.25h-28.1zM157.8 187.01h28.1v1.25h-28.1zM157.8 209.78h28.1v1.25h-28.1zM157.8 225.91h28.1v1.25h-28.1zM157.8 229.71h28.1v1.25h-28.1zM157.8 284.74h28.1v1.25h-28.1zM157.8 288.53h28.1v1.25h-28.1zM185.6 254.38h28.1v1.25h-28.1zM185.6 257.22h28.1v1.25h-28.1zM185.6 277.15h28.1v1.25h-28.1zM185.6 319.85h28.1v1.25h-28.1z"/>
<path fill="#F7ECEE" d="M18.8 141.47h28.1v1.25h-28.1zM18.8 150h28.1v1.25h-28.1zM18.8 232.55h28.1v1.25h-28.1zM18.8 249.63h28.1v1.25h-28.1zM18.8 293.28h28.1v1.25h-28.1zM46.6 170.88h28.1v4.1h-28.1zM46.6 196.5h28.1v1.25h-28.1zM46.6 307.51h28.1v1.25h-28.1zM46.6 318.9h28.1v1.25h-28.1zM74.4 117.74h28.1v1.25h-28.1zM74.4 125.33h28.1v1.25h-28.1zM74.4 158.54h28.1v1.25h-28.1zM74.4 174.67h28.1v2.2h-28.1zM74.4 259.12h28.1v1.25h-28.1zM74.4 269.56h28.1v1.25h-28.1zM102.2 116.8h28.1v1.25h-28.1zM102.2 179.42h28.1v1.25h-28.1zM102.2 184.16h28.1v1.25h-28.1zM102.2 204.09h28.1v1.25h-28.1zM102.2 229.71h28.1v1.25h-28.1zM102.2 255.33h28.1v1.25h-28.1zM102.2 299.92h28.1v1.25h-28.1zM102.2 371.08h28.1v1.25h-28.1zM102.2 372.98h28.1v2.2h-28.1zM130 180.37h28.1v1.25h-28.1zM130 354h28.1v1.25h-28.1zM130 391.01h28.1v3.15h-28.1zM130 397.65h28.1v1.25h-28.1zM157.8 141.47h28.1v1.25h-28.1zM157.8 188.91h28.1v1.25h-28.1zM157.8 226.86h28.1v1.25h-28.1zM157.8 280.94h28.1v1.25h-28.1zM157.8 286.64h28.1v2.2h-28.1zM157.8 391.96h28.1v1.25h-28.1zM185.6 259.12h28.1v1.25h-28.1zM185.6 273.35h28.1v1.25h-28.1zM185.6 381.52h28.1v1.25h-28.1z"/>
<path fill="#F8F4F6" d="M18.8 142.41h28.1v1.25h-28.1zM18.8 148.11h28.1v1.25h-28.1zM18.8 167.08h28.1v1.25h-28.1zM18.8 210.73h28.1v1.25h-28.1zM18.8 212.63h28.1v1.25h-28.1zM18.8 230.66h28.1v1.25h-28.1zM18.8 247.73h28.1v1.25h-28.1zM18.8 262.92h28.1v1.25h-28.1zM18.8 269.56h28.1v2.2h-28.1zM18.8 309.41h28.1v1.25h-28.1zM18.8 320.8h28.1v1.25h-28.1zM46.6 116.8h28.1v1.25h-28.1zM46.6 206.93h28.1v1.25h-28.1zM46.6 378.67h28.1v1.25h-28.1zM46.6 380.57h28.1v1.25h-28.1zM74.4 172.78h28.1v2.2h-28.1zM102.2 114.9h28.1v2.2h-28.1zM102.2 201.24h28.1v2.2h-28.1zM102.2 298.02h28.1v1.25h-28.1zM102.2 323.64h28.1v1.25h-28.1zM102.2 337.87h28.1v1.25h-28.1zM102.2 353.06h28.1v1.25h-28.1zM102.2 369.19h28.1v2.2h-28.1zM102.2 387.21h28.1v1.25h-28.1zM130 164.24h28.1v1.25h-28.1zM130 264.81h28.1v2.2h-28.1zM130 325.54h28.1v1.25h-28.1zM130 396.7h28.1v1.25h-28.1zM157.8 140.52h28.1v1.25h-28.1zM157.8 170.88h28.1v2.2h-28.1zM157.8 197.45h28.1v1.25h-28.1zM157.8 205.04h28.1v1.25h-28.1zM157.8 285.69h28.1v1.25h-28.1zM185.6 187.01h28.1v1.25h-28.1zM185.6 275.25h28.1v1.25h-28.1zM185.6 391.01h28.1v1.25h-28.1z"/>
<path fill="#F1EEF3" d="M18.8 149.06h28.1v1.25h-28.1zM18.8 166.13h28.1v1.25h-28.1zM18.8 179.42h28.1v1.25h-28.1zM18.8 211.68h28.1v1.25h-28.1zM18.8 231.6h28.1v1.25h-28.1zM18.8 256.27h28.1v1.25h-28.1zM18.8 259.12h28.1v1.25h-28.1zM18.8 271.46h28.1v1.25h-28.1zM18.8 366.34h28.1v1.25h-28.1zM18.8 374.88h28.1v1.25h-28.1zM46.6 207.88h28.1v1.25h-28.1zM46.6 362.54h28.1v1.25h-28.1zM74.4 161.39h28.1v1.25h-28.1zM102.2 164.24h28.1v1.25h-28.1zM102.2 182.27h28.1v2.2h-28.1zM102.2 347.36h28.1v1.25h-28.1zM102.2 349.26h28.1v1.25h-28.1zM102.2 386.27h28.1v1.25h-28.1zM130 165.19h28.1v1.25h-28.1zM130 246.79h28.1v1.25h-28.1zM130 349.26h28.1v1.25h-28.1zM130 353.06h28.1v1.25h-28.1zM130 394.8h28.1v2.2h-28.1zM157.8 159.49h28.1v1.25h-28.1zM157.8 172.78h28.1v1.25h-28.1zM157.8 384.37h28.1v2.2h-28.1zM157.8 387.21h28.1v1.25h-28.1zM185.6 274.3h28.1v1.25h-28.1zM185.6 276.2h28.1v1.25h-28.1zM185.6 382.47h28.1v2.2h-28.1z"/>
<path fill="#EAE8F0" d="M46.6 157.6h28.1v1.25h-28.1zM46.6 289.48h28.1v1.25h-28.1zM74.4 168.98h28.1v1.25h-28.1zM74.4 191.75h28.1v1.25h-28.1zM74.4 193.65h28.1v1.25h-28.1zM74.4 267.66h28.1v2.2h-28.1zM130 261.02h28.1v1.25h-28.1zM157.8 194.6h28.1v1.25h-28.1zM157.8 196.5h28.1v1.25h-28.1zM157.8 231.6h28.1v1.25h-28.1zM185.6 256.27h28.1v1.25h-28.1z"/>
<path fill="#E2E1ED" d="M18.8 280h28.1v1.25h-28.1zM46.6 290.43h28.1v1.25h-28.1zM46.6 293.28h28.1v1.25h-28.1zM74.4 114.9h28.1v1.25h-28.1zM74.4 127.23h28.1v1.25h-28.1zM74.4 239.2h28.1v1.25h-28.1zM102.2 227.81h28.1v1.25h-28.1zM130 127.23h28.1v1.25h-28.1zM130 243.94h28.1v1.25h-28.1zM130 352.11h28.1v1.25h-28.1zM157.8 186.06h28.1v1.25h-28.1zM157.8 224.96h28.1v1.25h-28.1zM185.6 132.93h28.1v1.25h-28.1zM185.6 261.02h28.1v1.25h-28.1zM185.6 311.31h28.1v1.25h-28.1zM185.6 321.74h28.1v1.25h-28.1z"/>
<path fill="#DBDBEA" d="M18.8 345.47h28.1v1.25h-28.1zM46.6 291.38h28.1v1.25h-28.1zM102.2 165.19h28.1v1.25h-28.1zM102.2 168.98h28.1v1.25h-28.1zM130 131.98h28.1v1.25h-28.1zM130 240.14h28.1v1.25h-28.1zM130 242.99h28.1v1.25h-28.1zM130 333.13h28.1v1.25h-28.1zM130 350.21h28.1v1.25h-28.1zM130 354.95h28.1v1.25h-28.1zM157.8 208.83h28.1v1.25h-28.1zM185.6 310.36h28.1v1.25h-28.1zM185.6 312.26h28.1v1.25h-28.1z"/>
<path fill="#D4D5E6" d="M18.8 252.48h28.1v1.25h-28.1zM18.8 257.22h28.1v1.25h-28.1zM18.8 261.97h28.1v1.25h-28.1zM18.8 280.94h28.1v1.25h-28.1zM18.8 285.69h28.1v1.25h-28.1zM18.8 328.39h28.1v3.15h-28.1zM18.8 333.13h28.1v1.25h-28.1zM18.8 354h28.1v1.25h-28.1zM46.6 125.33h28.1v1.25h-28.1zM46.6 150h28.1v1.25h-28.1zM46.6 156.65h28.1v1.25h-28.1zM46.6 284.74h28.1v1.25h-28.1zM46.6 308.46h28.1v1.25h-28.1zM46.6 317.95h28.1v1.25h-28.1zM46.6 319.85h28.1v2.2h-28.1zM46.6 324.59h28.1v1.25h-28.1zM46.6 377.73h28.1v1.25h-28.1zM74.4 113h28.1v1.25h-28.1zM74.4 119.64h28.1v1.25h-28.1zM74.4 122.49h28.1v1.25h-28.1zM74.4 137.67h28.1v1.25h-28.1zM74.4 163.29h28.1v1.25h-28.1zM74.4 195.55h28.1v1.25h-28.1zM74.4 223.07h28.1v2.2h-28.1zM74.4 252.48h28.1v1.25h-28.1zM74.4 261.02h28.1v1.25h-28.1zM74.4 263.87h28.1v1.25h-28.1zM74.4 280h28.1v1.25h-28.1zM74.4 281.89h28.1v2.2h-28.1zM102.2 137.67h28.1v1.25h-28.1zM102.2 177.52h28.1v1.25h-28.1zM102.2 189.86h28.1v1.25h-28.1zM102.2 257.22h28.1v2.2h-28.1zM102.2 350.21h28.1v1.25h-28.1zM102.2 354h28.1v1.25h-28.1zM130 182.27h28.1v1.25h-28.1zM130 188.91h28.1v1.25h-28.1zM130 282.84h28.1v2.2h-28.1zM130 310.36h28.1v1.25h-28.1zM130 313.2h28.1v1.25h-28.1zM130 355.9h28.1v1.25h-28.1zM130 357.8h28.1v2.2h-28.1zM130 362.54h28.1v1.25h-28.1zM157.8 187.96h28.1v1.25h-28.1zM157.8 189.86h28.1v1.25h-28.1zM157.8 192.7h28.1v1.25h-28.1zM157.8 221.17h28.1v1.25h-28.1zM157.8 224.01h28.1v1.25h-28.1zM157.8 275.25h28.1v1.25h-28.1zM157.8 277.15h28.1v1.25h-28.1zM185.6 136.72h28.1v1.25h-28.1zM185.6 146.21h28.1v1.25h-28.1zM185.6 148.11h28.1v1.25h-28.1zM185.6 237.3h28.1v1.25h-28.1zM185.6 255.33h28.1v1.25h-28.1zM185.6 354.95h28.1v1.25h-28.1z"/>
<path fill="#CDCFE3" d="M18.8 178.47h28.1v1.25h-28.1zM18.8 201.24h28.1v1.25h-28.1zM18.8 253.43h28.1v1.25h-28.1zM18.8 286.64h28.1v1.25h-28.1zM18.8 326.49h28.1v2.2h-28.1zM18.8 332.18h28.1v1.25h-28.1zM18.8 334.08h28.1v1.25h-28.1zM18.8 352.11h28.1v1.25h-28.1zM46.6 149.06h28.1v1.25h-28.1zM46.6 155.7h28.1v1.25h-28.1zM46.6 198.4h28.1v1.25h-28.1zM46.6 285.69h28.1v2.2h-28.1zM46.6 292.33h28.1v1.25h-28.1zM46.6 299.92h28.1v1.25h-28.1zM46.6 352.11h28.1v1.25h-28.1zM46.6 365.39h28.1v2.2h-28.1zM74.4 160.44h28.1v1.25h-28.1zM74.4 192.7h28.1v1.25h-28.1zM74.4 203.14h28.1v1.25h-28.1zM74.4 222.12h28.1v1.25h-28.1zM74.4 242.99h28.1v1.25h-28.1zM74.4 256.27h28.1v1.25h-28.1zM74.4 280.94h28.1v1.25h-28.1zM102.2 121.54h28.1v1.25h-28.1zM102.2 123.44h28.1v3.15h-28.1zM102.2 273.35h28.1v2.2h-28.1zM102.2 336.93h28.1v1.25h-28.1zM102.2 384.37h28.1v1.25h-28.1zM130 130.08h28.1v1.25h-28.1zM130 132.93h28.1v1.25h-28.1zM130 136.72h28.1v1.25h-28.1zM130 138.62h28.1v2.2h-28.1zM130 181.32h28.1v1.25h-28.1zM130 250.58h28.1v1.25h-28.1zM130 262.92h28.1v1.25h-28.1zM130 285.69h28.1v1.25h-28.1zM130 311.31h28.1v1.25h-28.1zM130 356.85h28.1v1.25h-28.1zM130 359.7h28.1v3.15h-28.1zM157.8 144.31h28.1v1.25h-28.1zM157.8 191.75h28.1v1.25h-28.1zM157.8 204.09h28.1v1.25h-28.1zM157.8 220.22h28.1v1.25h-28.1zM157.8 228.76h28.1v1.25h-28.1zM157.8 230.66h28.1v1.25h-28.1zM157.8 276.2h28.1v1.25h-28.1zM157.8 278.1h28.1v1.25h-28.1zM157.8 390.06h28.1v2.2h-28.1zM185.6 121.54h28.1v2.2h-28.1zM185.6 134.82h28.1v1.25h-28.1zM185.6 137.67h28.1v1.25h-28.1zM185.6 147.16h28.1v1.25h-28.1zM185.6 183.21h28.1v3.15h-28.1zM185.6 236.35h28.1v1.25h-28.1zM185.6 352.11h28.1v1.25h-28.1zM185.6 387.21h28.1v1.25h-28.1z"/>
<path fill="#C6C8E0" d="M18.8 204.09h28.1v1.25h-28.1zM18.8 254.38h28.1v2.2h-28.1zM18.8 281.89h28.1v1.25h-28.1zM18.8 283.79h28.1v1.25h-28.1zM18.8 292.33h28.1v1.25h-28.1zM18.8 317.95h28.1v1.25h-28.1zM18.8 331.23h28.1v1.25h-28.1zM18.8 375.83h28.1v1.25h-28.1zM18.8 377.73h28.1v1.25h-28.1zM46.6 158.54h28.1v1.25h-28.1zM46.6 321.74h28.1v1.25h-28.1zM46.6 323.64h28.1v1.25h-28.1zM46.6 325.54h28.1v1.25h-28.1zM46.6 354h28.1v1.25h-28.1zM46.6 363.49h28.1v2.2h-28.1zM46.6 392.91h28.1v1.25h-28.1zM74.4 124.39h28.1v1.25h-28.1zM74.4 129.13h28.1v1.25h-28.1zM74.4 135.77h28.1v1.25h-28.1zM74.4 156.65h28.1v1.25h-28.1zM74.4 202.19h28.1v1.25h-28.1zM74.4 249.63h28.1v1.25h-28.1zM102.2 163.29h28.1v1.25h-28.1zM102.2 168.03h28.1v1.25h-28.1zM102.2 176.57h28.1v1.25h-28.1zM102.2 180.37h28.1v1.25h-28.1zM102.2 190.8h28.1v1.25h-28.1zM102.2 351.16h28.1v2.2h-28.1zM130 128.18h28.1v1.25h-28.1zM130 133.87h28.1v1.25h-28.1zM130 135.77h28.1v1.25h-28.1zM130 137.67h28.1v1.25h-28.1zM130 179.42h28.1v1.25h-28.1zM130 187.96h28.1v1.25h-28.1zM130 248.68h28.1v1.25h-28.1zM130 284.74h28.1v1.25h-28.1zM157.8 201.24h28.1v1.25h-28.1zM157.8 279.05h28.1v1.25h-28.1zM185.6 351.16h28.1v1.25h-28.1zM185.6 384.37h28.1v1.25h-28.1z"/>
<path fill="#BEC2DD" d="M18.8 205.04h28.1v1.25h-28.1zM18.8 217.37h28.1v1.25h-28.1zM18.8 284.74h28.1v1.25h-28.1zM18.8 353.06h28.1v1.25h-28.1zM18.8 376.78h28.1v1.25h-28.1zM18.8 378.67h28.1v1.25h-28.1zM46.6 124.39h28.1v1.25h-28.1zM46.6 150.95h28.1v1.25h-28.1zM46.6 166.13h28.1v1.25h-28.1zM46.6 197.45h28.1v1.25h-28.1zM46.6 283.79h28.1v1.25h-28.1zM46.6 382.47h28.1v1.25h-28.1zM46.6 390.06h28.1v3.15h-28.1zM74.4 134.82h28.1v1.25h-28.1zM74.4 221.17h28.1v1.25h-28.1zM74.4 246.79h28.1v1.25h-28.1zM74.4 248.68h28.1v1.25h-28.1zM74.4 257.22h28.1v2.2h-28.1zM74.4 279.05h28.1v1.25h-28.1zM102.2 122.49h28.1v1.25h-28.1zM102.2 181.32h28.1v1.25h-28.1zM102.2 187.96h28.1v2.2h-28.1zM102.2 208.83h28.1v1.25h-28.1zM102.2 231.6h28.1v2.2h-28.1zM102.2 256.27h28.1v1.25h-28.1zM102.2 259.12h28.1v1.25h-28.1zM102.2 354.95h28.1v1.25h-28.1zM102.2 389.11h28.1v1.25h-28.1zM130 134.82h28.1v1.25h-28.1zM130 204.09h28.1v1.25h-28.1zM130 223.07h28.1v1.25h-28.1zM130 280.94h28.1v2.2h-28.1zM130 309.41h28.1v1.25h-28.1zM130 312.26h28.1v1.25h-28.1zM130 327.44h28.1v1.25h-28.1zM130 332.18h28.1v1.25h-28.1zM185.6 119.64h28.1v2.2h-28.1zM185.6 186.06h28.1v1.25h-28.1zM185.6 353.06h28.1v2.2h-28.1z"/>
<path fill="#B7BCDA" d="M74.4 244.89h28.1v1.25h-28.1z"/>
<path fill="#B0B6D7" d="M18.8 336.93h28.1v1.25h-28.1zM46.6 348.31h28.1v1.25h-28.1zM46.6 354.95h28.1v1.25h-28.1zM130 334.08h28.1v1.25h-28.1z"/>
<path fill="#A2A9D1" d="M18.8 335.03h28.1v1.25h-28.1zM18.8 337.87h28.1v1.25h-28.1zM74.4 240.14h28.1v2.2h-28.1zM74.4 243.94h28.1v1.25h-28.1zM74.4 251.53h28.1v1.25h-28.1z"/>
<path fill="#9AA3CD" d="M18.8 150.95h28.1v1.25h-28.1zM18.8 152.85h28.1v1.25h-28.1zM18.8 200.29h28.1v1.25h-28.1zM18.8 355.9h28.1v1.25h-28.1zM18.8 358.75h28.1v1.25h-28.1zM46.6 395.75h28.1v1.25h-28.1zM74.4 136.72h28.1v1.25h-28.1zM74.4 208.83h28.1v1.25h-28.1zM102.2 139.57h28.1v1.25h-28.1zM102.2 150h28.1v1.25h-28.1zM102.2 207.88h28.1v1.25h-28.1zM102.2 271.46h28.1v1.25h-28.1zM102.2 360.65h28.1v1.25h-28.1zM130 236.35h28.1v1.25h-28.1zM130 328.39h28.1v1.25h-28.1zM130 331.23h28.1v1.25h-28.1zM185.6 303.72h28.1v1.25h-28.1zM185.6 308.46h28.1v1.25h-28.1z"/>
<path fill="#939DCA" d="M18.8 151.9h28.1v1.25h-28.1zM18.8 153.8h28.1v1.25h-28.1zM18.8 177.52h28.1v1.25h-28.1zM18.8 288.53h28.1v1.25h-28.1zM18.8 290.43h28.1v1.25h-28.1zM18.8 357.8h28.1v1.25h-28.1zM46.6 113h28.1v1.25h-28.1zM46.6 297.07h28.1v1.25h-28.1zM46.6 350.21h28.1v1.25h-28.1zM46.6 393.86h28.1v1.25h-28.1zM46.6 396.7h28.1v1.25h-28.1zM74.4 396.7h28.1v1.25h-28.1zM102.2 136.72h28.1v1.25h-28.1zM102.2 138.62h28.1v1.25h-28.1zM102.2 210.73h28.1v1.25h-28.1zM102.2 248.68h28.1v1.25h-28.1zM102.2 268.61h28.1v1.25h-28.1zM102.2 270.51h28.1v1.25h-28.1zM102.2 361.6h28.1v1.25h-28.1zM102.2 364.44h28.1v1.25h-28.1zM130 142.41h28.1v2.2h-28.1zM130 174.67h28.1v1.25h-28.1zM130 176.57h28.1v1.25h-28.1zM130 203.14h28.1v1.25h-28.1zM130 239.2h28.1v1.25h-28.1zM130 273.35h28.1v1.25h-28.1zM130 275.25h28.1v1.25h-28.1zM157.8 198.4h28.1v1.25h-28.1zM157.8 203.14h28.1v1.25h-28.1zM157.8 211.68h28.1v1.25h-28.1zM185.6 204.09h28.1v2.2h-28.1zM185.6 388.16h28.1v2.2h-28.1z"/>
<path fill="#8C96C7" d="M18.8 154.75h28.1v1.25h-28.1zM18.8 192.7h28.1v1.25h-28.1zM18.8 354.95h28.1v1.25h-28.1zM46.6 113.95h28.1v1.25h-28.1zM46.6 165.19h28.1v1.25h-28.1zM74.4 138.62h28.1v1.25h-28.1zM74.4 157.6h28.1v1.25h-28.1zM74.4 324.59h28.1v1.25h-28.1zM102.2 131.03h28.1v1.25h-28.1zM102.2 206.93h28.1v1.25h-28.1zM102.2 269.56h28.1v1.25h-28.1zM102.2 362.54h28.1v1.25h-28.1zM102.2 365.39h28.1v2.2h-28.1zM102.2 383.42h28.1v1.25h-28.1zM130 178.47h28.1v1.25h-28.1zM130 205.04h28.1v1.25h-28.1zM130 237.3h28.1v1.25h-28.1zM130 274.3h28.1v1.25h-28.1zM130 276.2h28.1v1.25h-28.1zM130 330.28h28.1v1.25h-28.1zM157.8 156.65h28.1v1.25h-28.1zM157.8 218.32h28.1v1.25h-28.1zM185.6 302.77h28.1v1.25h-28.1zM185.6 304.67h28.1v2.2h-28.1zM185.6 385.32h28.1v1.25h-28.1z"/>
<path fill="#8590C4" d="M18.8 143.36h28.1v1.25h-28.1zM18.8 184.16h28.1v1.25h-28.1zM18.8 199.34h28.1v1.25h-28.1zM18.8 289.48h28.1v1.25h-28.1zM18.8 338.82h28.1v1.25h-28.1zM18.8 356.85h28.1v1.25h-28.1zM46.6 167.08h28.1v1.25h-28.1zM46.6 183.21h28.1v1.25h-28.1zM46.6 295.18h28.1v1.25h-28.1zM46.6 336.93h28.1v1.25h-28.1zM46.6 394.8h28.1v1.25h-28.1zM74.4 250.58h28.1v1.25h-28.1zM74.4 375.83h28.1v1.25h-28.1zM102.2 209.78h28.1v1.25h-28.1zM102.2 225.91h28.1v1.25h-28.1zM102.2 247.73h28.1v1.25h-28.1zM102.2 368.24h28.1v1.25h-28.1zM102.2 374.88h28.1v2.2h-28.1zM102.2 378.67h28.1v1.25h-28.1zM130 141.47h28.1v1.25h-28.1zM130 144.31h28.1v1.25h-28.1zM130 175.62h28.1v1.25h-28.1zM130 177.52h28.1v1.25h-28.1zM157.8 157.6h28.1v1.25h-28.1zM157.8 202.19h28.1v1.25h-28.1zM185.6 138.62h28.1v1.25h-28.1zM185.6 307.51h28.1v1.25h-28.1z"/>
<path fill="#7E8AC1" d="M18.8 193.65h28.1v2.2h-28.1zM18.8 291.38h28.1v1.25h-28.1zM46.6 164.24h28.1v1.25h-28.1zM46.6 267.66h28.1v1.25h-28.1zM46.6 296.13h28.1v1.25h-28.1zM46.6 397.65h28.1v1.25h-28.1zM74.4 237.3h28.1v1.25h-28.1zM74.4 342.62h28.1v1.25h-28.1zM102.2 135.77h28.1v1.25h-28.1zM102.2 245.84h28.1v2.2h-28.1zM102.2 272.4h28.1v1.25h-28.1zM102.2 367.29h28.1v1.25h-28.1zM102.2 376.78h28.1v2.2h-28.1zM130 140.52h28.1v1.25h-28.1zM130 194.6h28.1v1.25h-28.1zM130 205.99h28.1v1.25h-28.1zM130 238.25h28.1v1.25h-28.1zM157.8 199.34h28.1v2.2h-28.1zM185.6 135.77h28.1v1.25h-28.1zM185.6 386.27h28.1v1.25h-28.1z"/>
<path fill="#7684BE" d="M18.8 144.31h28.1v1.25h-28.1zM18.8 183.21h28.1v1.25h-28.1zM18.8 187.96h28.1v1.25h-28.1zM18.8 228.76h28.1v1.25h-28.1zM18.8 287.59h28.1v1.25h-28.1zM18.8 335.98h28.1v1.25h-28.1zM46.6 294.23h28.1v1.25h-28.1zM46.6 333.13h28.1v1.25h-28.1zM46.6 351.16h28.1v1.25h-28.1zM46.6 353.06h28.1v1.25h-28.1zM74.4 139.57h28.1v1.25h-28.1zM74.4 242.04h28.1v1.25h-28.1zM74.4 245.84h28.1v1.25h-28.1zM74.4 352.11h28.1v1.25h-28.1zM74.4 370.13h28.1v1.25h-28.1zM102.2 224.96h28.1v1.25h-28.1zM102.2 226.86h28.1v1.25h-28.1zM102.2 363.49h28.1v1.25h-28.1zM130 172.78h28.1v2.2h-28.1zM130 299.92h28.1v1.25h-28.1zM130 326.49h28.1v1.25h-28.1zM185.6 300.87h28.1v2.2h-28.1zM185.6 306.56h28.1v1.25h-28.1z"/>
<path fill="#6877B8" d="M46.6 347.36h28.1v1.25h-28.1zM46.6 349.26h28.1v1.25h-28.1zM74.4 247.73h28.1v1.25h-28.1zM185.6 133.87h28.1v1.25h-28.1z"/>
<path fill="#6171B4" d="M74.4 238.25h28.1v1.25h-28.1zM130 329.33h28.1v1.25h-28.1zM185.6 131.98h28.1v1.25h-28.1z"/>
<path fill="#5264AE" d="M18.8 113.95h28.1v1.25h-28.1zM18.8 117.74h28.1v1.25h-28.1zM18.8 122.49h28.1v1.25h-28.1zM18.8 124.39h28.1v1.25h-28.1zM18.8 128.18h28.1v1.25h-28.1zM18.8 136.72h28.1v1.25h-28.1zM18.8 174.67h28.1v1.25h-28.1zM18.8 176.57h28.1v1.25h-28.1zM18.8 182.27h28.1v1.25h-28.1zM18.8 189.86h28.1v1.25h-28.1zM18.8 223.07h28.1v1.25h-28.1zM18.8 227.81h28.1v1.25h-28.1zM18.8 347.36h28.1v1.25h-28.1zM46.6 177.52h28.1v3.15h-28.1zM46.6 218.32h28.1v1.25h-28.1zM46.6 224.01h28.1v1.25h-28.1zM46.6 227.81h28.1v1.25h-28.1zM46.6 241.09h28.1v1.25h-28.1zM46.6 246.79h28.1v1.25h-28.1zM46.6 249.63h28.1v1.25h-28.1zM46.6 251.53h28.1v1.25h-28.1zM46.6 258.17h28.1v1.25h-28.1zM46.6 260.07h28.1v2.2h-28.1zM46.6 269.56h28.1v1.25h-28.1zM46.6 279.05h28.1v1.25h-28.1zM46.6 280.94h28.1v1.25h-28.1zM46.6 304.67h28.1v1.25h-28.1zM46.6 313.2h28.1v1.25h-28.1zM46.6 344.52h28.1v1.25h-28.1zM46.6 346.41h28.1v1.25h-28.1zM46.6 358.75h28.1v1.25h-28.1zM46.6 360.65h28.1v1.25h-28.1zM46.6 368.24h28.1v1.25h-28.1zM46.6 372.98h28.1v2.2h-28.1zM46.6 389.11h28.1v1.25h-28.1zM74.4 132.93h28.1v1.25h-28.1zM74.4 205.99h28.1v1.25h-28.1zM74.4 207.88h28.1v1.25h-28.1zM74.4 290.43h28.1v1.25h-28.1zM74.4 322.69h28.1v1.25h-28.1zM74.4 337.87h28.1v1.25h-28.1zM74.4 351.16h28.1v1.25h-28.1zM74.4 354h28.1v1.25h-28.1zM74.4 365.39h28.1v2.2h-28.1zM74.4 373.93h28.1v1.25h-28.1zM74.4 379.62h28.1v1.25h-28.1zM102.2 128.18h28.1v1.25h-28.1zM102.2 143.36h28.1v1.25h-28.1zM130 162.34h28.1v1.25h-28.1zM130 190.8h28.1v1.25h-28.1zM130 193.65h28.1v1.25h-28.1zM130 197.45h28.1v1.25h-28.1zM130 200.29h28.1v1.25h-28.1zM130 279.05h28.1v1.25h-28.1zM130 289.48h28.1v1.25h-28.1zM130 291.38h28.1v1.25h-28.1zM130 294.23h28.1v1.25h-28.1zM185.6 220.22h28.1v1.25h-28.1zM185.6 222.12h28.1v1.25h-28.1zM185.6 393.86h28.1v3.15h-28.1z"/>
<path fill="#4B5EAB" d="M18.8 113h28.1v1.25h-28.1zM18.8 114.9h28.1v3.15h-28.1zM18.8 119.64h28.1v1.25h-28.1zM18.8 121.54h28.1v1.25h-28.1zM18.8 123.44h28.1v1.25h-28.1zM18.8 126.28h28.1v2.2h-28.1zM18.8 129.13h28.1v5.99h-28.1zM18.8 135.77h28.1v1.25h-28.1zM18.8 138.62h28.1v3.15h-28.1zM18.8 172.78h28.1v2.2h-28.1zM18.8 175.62h28.1v1.25h-28.1zM18.8 180.37h28.1v2.2h-28.1zM18.8 186.06h28.1v2.2h-28.1zM18.8 188.91h28.1v1.25h-28.1zM18.8 191.75h28.1v1.25h-28.1zM18.8 195.55h28.1v1.25h-28.1zM18.8 224.96h28.1v1.25h-28.1zM18.8 226.86h28.1v1.25h-28.1zM18.8 229.71h28.1v1.25h-28.1zM18.8 349.26h28.1v3.15h-28.1zM46.6 175.62h28.1v1.25h-28.1zM46.6 180.37h28.1v1.25h-28.1zM46.6 182.27h28.1v1.25h-28.1zM46.6 217.37h28.1v1.25h-28.1zM46.6 219.27h28.1v5.04h-28.1zM46.6 224.96h28.1v2.2h-28.1zM46.6 228.76h28.1v2.2h-28.1zM46.6 231.6h28.1v3.15h-28.1zM46.6 236.35h28.1v2.2h-28.1zM46.6 239.2h28.1v1.25h-28.1zM46.6 242.04h28.1v1.25h-28.1zM46.6 244.89h28.1v1.25h-28.1zM46.6 247.73h28.1v2.2h-28.1zM46.6 250.58h28.1v1.25h-28.1zM46.6 252.48h28.1v1.25h-28.1zM46.6 254.38h28.1v2.2h-28.1zM46.6 257.22h28.1v1.25h-28.1zM46.6 261.97h28.1v1.25h-28.1zM46.6 263.87h28.1v2.2h-28.1zM46.6 266.71h28.1v1.25h-28.1zM46.6 268.61h28.1v1.25h-28.1zM46.6 270.51h28.1v1.25h-28.1zM46.6 272.4h28.1v3.15h-28.1zM46.6 277.15h28.1v2.2h-28.1zM46.6 281.89h28.1v1.25h-28.1zM46.6 300.87h28.1v1.25h-28.1zM46.6 302.77h28.1v2.2h-28.1zM46.6 309.41h28.1v3.15h-28.1zM46.6 314.15h28.1v4.1h-28.1zM46.6 326.49h28.1v1.25h-28.1zM46.6 328.39h28.1v2.2h-28.1zM46.6 331.23h28.1v2.2h-28.1zM46.6 335.98h28.1v1.25h-28.1zM46.6 338.82h28.1v3.15h-28.1zM46.6 342.62h28.1v1.25h-28.1zM46.6 356.85h28.1v2.2h-28.1zM46.6 367.29h28.1v1.25h-28.1zM46.6 369.19h28.1v1.25h-28.1zM46.6 371.08h28.1v2.2h-28.1zM46.6 374.88h28.1v2.2h-28.1zM46.6 385.32h28.1v2.2h-28.1zM74.4 131.98h28.1v1.25h-28.1zM74.4 133.87h28.1v1.25h-28.1zM74.4 204.09h28.1v1.25h-28.1zM74.4 209.78h28.1v1.25h-28.1zM74.4 211.68h28.1v1.25h-28.1zM74.4 216.42h28.1v1.25h-28.1zM74.4 285.69h28.1v1.25h-28.1zM74.4 287.59h28.1v3.15h-28.1zM74.4 292.33h28.1v3.15h-28.1zM74.4 296.13h28.1v1.25h-28.1zM74.4 298.02h28.1v1.25h-28.1zM74.4 299.92h28.1v8.84h-28.1zM74.4 309.41h28.1v2.2h-28.1zM74.4 312.26h28.1v1.25h-28.1zM74.4 314.15h28.1v2.2h-28.1zM74.4 317h28.1v2.2h-28.1zM74.4 319.85h28.1v1.25h-28.1zM74.4 323.64h28.1v1.25h-28.1zM74.4 325.54h28.1v2.2h-28.1zM74.4 328.39h28.1v1.25h-28.1zM74.4 330.28h28.1v1.25h-28.1zM74.4 332.18h28.1v2.2h-28.1zM74.4 335.03h28.1v1.25h-28.1zM74.4 336.93h28.1v1.25h-28.1zM74.4 338.82h28.1v4.1h-28.1zM74.4 343.57h28.1v4.1h-28.1zM74.4 353.06h28.1v1.25h-28.1zM74.4 355.9h28.1v1.25h-28.1zM74.4 361.6h28.1v1.25h-28.1zM74.4 364.44h28.1v1.25h-28.1zM74.4 367.29h28.1v2.2h-28.1zM74.4 371.08h28.1v1.25h-28.1zM74.4 372.98h28.1v1.25h-28.1zM74.4 374.88h28.1v1.25h-28.1zM74.4 378.67h28.1v1.25h-28.1zM74.4 380.57h28.1v1.25h-28.1zM74.4 382.47h28.1v1.25h-28.1zM74.4 384.37h28.1v5.04h-28.1zM74.4 391.01h28.1v2.2h-28.1zM74.4 394.8h28.1v2.2h-28.1zM74.4 397.65h28.1v1.25h-28.1zM102.2 127.23h28.1v1.25h-28.1zM102.2 129.13h28.1v2.2h-28.1zM102.2 144.31h28.1v1.25h-28.1zM102.2 146.21h28.1v3.15h-28.1zM102.2 151.9h28.1v5.04h-28.1zM102.2 260.07h28.1v1.25h-28.1zM102.2 261.97h28.1v5.99h-28.1zM102.2 379.62h28.1v4.1h-28.1zM130 157.6h28.1v5.04h-28.1zM130 163.29h28.1v1.25h-28.1zM130 166.13h28.1v1.25h-28.1zM130 168.03h28.1v2.2h-28.1zM130 170.88h28.1v1.25h-28.1zM130 184.16h28.1v4.1h-28.1zM130 191.75h28.1v2.2h-28.1zM130 196.5h28.1v1.25h-28.1zM130 198.4h28.1v2.2h-28.1zM130 201.24h28.1v2.2h-28.1zM130 277.15h28.1v2.2h-28.1zM130 280h28.1v1.25h-28.1zM130 286.64h28.1v1.25h-28.1zM130 288.53h28.1v1.25h-28.1zM130 292.33h28.1v2.2h-28.1zM130 295.18h28.1v1.25h-28.1zM130 298.02h28.1v2.2h-28.1zM157.8 161.39h28.1v4.1h-28.1zM157.8 212.63h28.1v3.15h-28.1zM157.8 216.42h28.1v1.25h-28.1zM157.8 219.27h28.1v1.25h-28.1zM185.6 223.07h28.1v2.2h-28.1zM185.6 391.96h28.1v2.2h-28.1zM185.6 396.7h28.1v2.2h-28.1z"/>
<path fill="#4458A8" d="M18.8 118.69h28.1v1.25h-28.1zM18.8 120.59h28.1v1.25h-28.1zM18.8 125.33h28.1v1.25h-28.1zM18.8 134.82h28.1v1.25h-28.1zM18.8 137.67h28.1v1.25h-28.1zM18.8 170.88h28.1v2.2h-28.1zM18.8 190.8h28.1v1.25h-28.1zM18.8 196.5h28.1v3.15h-28.1zM18.8 222.12h28.1v1.25h-28.1zM18.8 224.01h28.1v1.25h-28.1zM18.8 225.91h28.1v1.25h-28.1zM18.8 348.31h28.1v1.25h-28.1zM46.6 174.67h28.1v1.25h-28.1zM46.6 176.57h28.1v1.25h-28.1zM46.6 181.32h28.1v1.25h-28.1zM46.6 226.86h28.1v1.25h-28.1zM46.6 230.66h28.1v1.25h-28.1zM46.6 234.45h28.1v2.2h-28.1zM46.6 238.25h28.1v1.25h-28.1zM46.6 240.14h28.1v1.25h-28.1zM46.6 242.99h28.1v2.2h-28.1zM46.6 245.84h28.1v1.25h-28.1zM46.6 253.43h28.1v1.25h-28.1zM46.6 256.27h28.1v1.25h-28.1zM46.6 259.12h28.1v1.25h-28.1zM46.6 262.92h28.1v1.25h-28.1zM46.6 265.76h28.1v1.25h-28.1zM46.6 271.46h28.1v1.25h-28.1zM46.6 275.25h28.1v2.2h-28.1zM46.6 280h28.1v1.25h-28.1zM46.6 282.84h28.1v1.25h-28.1zM46.6 301.82h28.1v1.25h-28.1zM46.6 305.61h28.1v2.2h-28.1zM46.6 312.26h28.1v1.25h-28.1zM46.6 327.44h28.1v1.25h-28.1zM46.6 330.28h28.1v1.25h-28.1zM46.6 334.08h28.1v2.2h-28.1zM46.6 337.87h28.1v1.25h-28.1zM46.6 341.67h28.1v1.25h-28.1zM46.6 343.57h28.1v1.25h-28.1zM46.6 345.47h28.1v1.25h-28.1zM46.6 355.9h28.1v1.25h-28.1zM46.6 359.7h28.1v1.25h-28.1zM46.6 361.6h28.1v1.25h-28.1zM46.6 370.13h28.1v1.25h-28.1zM46.6 376.78h28.1v1.25h-28.1zM46.6 383.42h28.1v2.2h-28.1zM46.6 387.21h28.1v2.2h-28.1zM74.4 131.03h28.1v1.25h-28.1zM74.4 205.04h28.1v1.25h-28.1zM74.4 206.93h28.1v1.25h-28.1zM74.4 210.73h28.1v1.25h-28.1zM74.4 212.63h28.1v4.1h-28.1zM74.4 283.79h28.1v2.2h-28.1zM74.4 286.64h28.1v1.25h-28.1zM74.4 291.38h28.1v1.25h-28.1zM74.4 295.18h28.1v1.25h-28.1zM74.4 297.07h28.1v1.25h-28.1zM74.4 298.97h28.1v1.25h-28.1zM74.4 308.46h28.1v1.25h-28.1zM74.4 311.31h28.1v1.25h-28.1zM74.4 313.2h28.1v1.25h-28.1zM74.4 316.05h28.1v1.25h-28.1zM74.4 318.9h28.1v1.25h-28.1zM74.4 320.8h28.1v2.2h-28.1zM74.4 327.44h28.1v1.25h-28.1zM74.4 329.33h28.1v1.25h-28.1zM74.4 331.23h28.1v1.25h-28.1zM74.4 334.08h28.1v1.25h-28.1zM74.4 335.98h28.1v1.25h-28.1zM74.4 347.36h28.1v4.1h-28.1zM74.4 354.95h28.1v1.25h-28.1zM74.4 356.85h28.1v5.04h-28.1zM74.4 362.54h28.1v2.2h-28.1zM74.4 369.19h28.1v1.25h-28.1zM74.4 372.03h28.1v1.25h-28.1zM74.4 376.78h28.1v2.2h-28.1zM74.4 381.52h28.1v1.25h-28.1zM74.4 383.42h28.1v1.25h-28.1zM74.4 389.11h28.1v2.2h-28.1zM74.4 392.91h28.1v2.2h-28.1zM102.2 126.28h28.1v1.25h-28.1zM102.2 131.98h28.1v1.25h-28.1zM102.2 142.41h28.1v1.25h-28.1zM102.2 145.26h28.1v1.25h-28.1zM102.2 149.06h28.1v1.25h-28.1zM102.2 150.95h28.1v1.25h-28.1zM102.2 261.02h28.1v1.25h-28.1zM102.2 267.66h28.1v1.25h-28.1zM130 167.08h28.1v1.25h-28.1zM130 169.93h28.1v1.25h-28.1zM130 171.83h28.1v1.25h-28.1zM130 183.21h28.1v1.25h-28.1zM130 189.86h28.1v1.25h-28.1zM130 195.55h28.1v1.25h-28.1zM130 287.59h28.1v1.25h-28.1zM130 290.43h28.1v1.25h-28.1zM130 296.13h28.1v2.2h-28.1zM157.8 215.47h28.1v1.25h-28.1zM157.8 217.37h28.1v1.25h-28.1zM185.6 221.17h28.1v1.25h-28.1z"/>
</g>
<rect x="218.2" y="113" width="2" height="285.6" fill="#1a1a1a"/>
<path d="M220.23 113.25L220.23 113.77M218.2 113.25L220.23 113.25M218.2 113.77L220.23 113.77M219.87 114.28L219.87 114.78M218.2 114.28L219.87 114.28M218.2 114.78L219.87 114.78M221.42 113.51L221.42 114.53M220.23 113.51L221.42 113.51M219.87 114.53L221.42 114.53M220.38 115.3L220.38 115.81M218.2 115.3L220.38 115.3M218.2 115.81L220.38 115.81M221.3 116.31L221.3 116.83M218.2 116.31L221.3 116.31M218.2 116.83L221.3 116.83M222.34 115.55L222.34 116.57M220.38 115.55L222.34 115.55M221.3 116.57L222.34 116.57M225.24 114.02L225.24 116.06M221.42 114.02L225.24 114.02M222.34 116.06L225.24 116.06M221.09 117.33L221.09 117.84M218.2 117.33L221.09 117.33M218.2 117.84L221.09 117.84M218.51 118.36L218.51 118.86M218.2 118.36L218.51 118.36M218.2 118.86L218.51 118.86M219.08 119.38L219.08 119.89M218.2 119.38L219.08 119.38M218.2 119.89L219.08 119.89M219.45 118.61L219.45 119.63M218.51 118.61L219.45 118.61M219.08 119.63L219.45 119.63M223.15 117.59L223.15 119.12M221.09 117.59L223.15 117.59M219.45 119.12L223.15 119.12M218.76 120.39L218.76 120.91M218.2 120.39L218.76 120.39M218.2 120.91L218.76 120.91M219.68 120.65L219.68 121.42M218.76 120.65L219.68 120.65M218.2 121.42L219.68 121.42M219.96 121.92L219.96 122.44M218.2 121.92L219.96 121.92M218.2 122.44L219.96 122.44M220.21 121.03L220.21 122.18M219.68 121.03L220.21 121.03M219.96 122.18L220.21 122.18M227.52 118.36L227.52 121.61M223.15 118.36L227.52 118.36M220.21 121.61L227.52 121.61M228.83 115.04L228.83 119.98M225.24 115.04L228.83 115.04M227.52 119.98L228.83 119.98M219.17 122.94L219.17 123.45M218.2 122.94L219.17 122.94M218.2 123.45L219.17 123.45M219.31 123.97L219.31 124.47M218.2 123.97L219.31 123.97M218.2 124.47L219.31 124.47M220.07 124.22L220.07 124.98M219.31 124.22L220.07 124.22M218.2 124.98L220.07 124.98M221.9 123.2L221.9 124.6M219.17 123.2L221.9 123.2M220.07 124.6L221.9 124.6M218.68 125.5L218.68 126M218.2 125.5L218.68 125.5M218.2 126L218.68 126M219.6 125.75L219.6 126.52M218.68 125.75L219.6 125.75M218.2 126.52L219.6 126.52M222.36 127.03L222.36 127.53M218.2 127.03L222.36 127.03M218.2 127.53L222.36 127.53M224.88 126.13L224.88 127.28M219.6 126.13L224.88 126.13M222.36 127.28L224.88 127.28M220.96 128.04L220.96 128.56M218.2 128.04L220.96 128.04M218.2 128.56L220.96 128.56M218.78 129.06L218.78 129.57M218.2 129.06L218.78 129.06M218.2 129.57L218.78 129.57M218.27 131.1L218.27 131.62M218.2 131.1L218.27 131.1M218.2 131.62L218.27 131.62M218.43 130.59L218.43 131.36M218.2 130.59L218.43 130.59M218.27 131.36L218.43 131.36M218.86 130.09L218.86 130.98M218.2 130.09L218.86 130.09M218.43 130.98L218.86 130.98M219.7 129.32L219.7 130.53M218.78 129.32L219.7 129.32M218.86 130.53L219.7 130.53M222.05 128.3L222.05 129.93M220.96 128.3L222.05 128.3M219.7 129.93L222.05 129.93M225.43 126.71L225.43 129.11M224.88 126.71L225.43 126.71M222.05 129.11L225.43 129.11M225.89 123.9L225.89 127.91M221.9 123.9L225.89 123.9M225.43 127.91L225.89 127.91M232 117.51L232 125.91M228.83 117.51L232 117.51M225.89 125.91L232 125.91M219.49 132.12L219.49 132.63M218.2 132.12L219.49 132.12M218.2 132.63L219.49 132.63M222.21 132.38L222.21 133.15M219.49 132.38L222.21 132.38M218.2 133.15L222.21 133.15M220.09 134.16L220.09 134.68M218.2 134.16L220.09 134.16M218.2 134.68L220.09 134.68M225.91 133.66L225.91 134.42M218.2 133.66L225.91 133.66M220.09 134.42L225.91 134.42M229.96 132.76L229.96 134.04M222.21 132.76L229.96 132.76M225.91 134.04L229.96 134.04M221.57 135.19L221.57 135.69M218.2 135.19L221.57 135.19M218.2 135.69L221.57 135.69M225.1 135.44L225.1 136.21M221.57 135.44L225.1 135.44M218.2 136.21L225.1 136.21M218.46 137.22L218.46 137.74M218.2 137.22L218.46 137.22M218.2 137.74L218.46 137.74M218.92 136.72L218.92 137.48M218.2 136.72L218.92 136.72M218.46 137.48L218.92 137.48M219.13 137.1L219.13 138.25M218.92 137.1L219.13 137.1M218.2 138.25L219.13 138.25M218.67 138.75L218.67 139.26M218.2 138.75L218.67 138.75M218.2 139.26L218.67 139.26M219.28 139.01L219.28 139.78M218.67 139.01L219.28 139.01M218.2 139.78L219.28 139.78M221.65 137.67L221.65 139.39M219.13 137.67L221.65 137.67M219.28 139.39L221.65 139.39M232.52 135.82L232.52 138.53M225.1 135.82L232.52 135.82M221.65 138.53L232.52 138.53M234.05 133.4L234.05 137.18M229.96 133.4L234.05 133.4M232.52 137.18L234.05 137.18M238.2 121.71L238.2 135.29M232 121.71L238.2 121.71M234.05 135.29L238.2 135.29M222.41 140.28L222.41 140.8M218.2 140.28L222.41 140.28M218.2 140.8L222.41 140.8M224.1 141.31L224.1 141.81M218.2 141.31L224.1 141.31M218.2 141.81L224.1 141.81M227.21 140.54L227.21 141.56M222.41 140.54L227.21 140.54M224.1 141.56L227.21 141.56M219.29 143.34L219.29 143.85M218.2 143.34L219.29 143.34M218.2 143.85L219.29 143.85M220.06 142.84L220.06 143.6M218.2 142.84L220.06 142.84M219.29 143.6L220.06 143.6M224.73 142.32L224.73 143.22M218.2 142.32L224.73 142.32M220.06 143.22L224.73 143.22M229.57 141.05L229.57 142.77M227.21 141.05L229.57 141.05M224.73 142.77L229.57 142.77M221.41 144.37L221.41 144.88M218.2 144.37L221.41 144.37M218.2 144.88L221.41 144.88M219.67 145.9L219.67 146.41M218.2 145.9L219.67 145.9M218.2 146.41L219.67 146.41M220.94 146.15L220.94 146.91M219.67 146.15L220.94 146.15M218.2 146.91L220.94 146.91M221.34 145.38L221.34 146.53M218.2 145.38L221.34 145.38M220.94 146.53L221.34 146.53M225.79 144.62L225.79 145.96M221.41 144.62L225.79 144.62M221.34 145.96L225.79 145.96M230.25 141.91L230.25 145.29M229.57 141.91L230.25 141.91M225.79 145.29L230.25 145.29M219.66 147.43L219.66 147.94M218.2 147.43L219.66 147.43M218.2 147.94L219.66 147.94M218.93 148.44L218.93 148.95M218.2 148.44L218.93 148.44M218.2 148.95L218.93 148.95M220.07 147.68L220.07 148.7M219.66 147.68L220.07 147.68M218.93 148.7L220.07 148.7M221.79 148.19L221.79 149.47M220.07 148.19L221.79 148.19M218.2 149.47L221.79 149.47M222.43 149.97L222.43 150.49M218.2 149.97L222.43 149.97M218.2 150.49L222.43 150.49M224.06 148.83L224.06 150.23M221.79 148.83L224.06 148.83M222.43 150.23L224.06 150.23M219.79 151.5L219.79 152.01M218.2 151.5L219.79 151.5M218.2 152.01L219.79 152.01M221.17 151L221.17 151.76M218.2 151L221.17 151M219.79 151.76L221.17 151.76M222.81 151.38L222.81 152.53M221.17 151.38L222.81 151.38M218.2 152.53L222.81 152.53M225.04 149.53L225.04 151.95M224.06 149.53L225.04 149.53M222.81 151.95L225.04 151.95M219.52 153.55L219.52 154.06M218.2 153.55L219.52 153.55M218.2 154.06L219.52 154.06M221.64 153.03L221.64 153.8M218.2 153.03L221.64 153.03M219.52 153.8L221.64 153.8M219.8 154.56L219.8 155.07M218.2 154.56L219.8 154.56M218.2 155.07L219.8 155.07M223.75 153.42L223.75 154.82M221.64 153.42L223.75 153.42M219.8 154.82L223.75 154.82M225.92 150.74L225.92 154.12M225.04 150.74L225.92 150.74M223.75 154.12L225.92 154.12M225.98 155.59L225.98 156.09M218.2 155.59L225.98 155.59M218.2 156.09L225.98 156.09M218.92 157.12L218.92 157.62M218.2 157.12L218.92 157.12M218.2 157.62L218.92 157.62M220.43 156.61L220.43 157.37M218.2 156.61L220.43 156.61M218.92 157.37L220.43 157.37M229.12 155.84L229.12 156.99M225.98 155.84L229.12 155.84M220.43 156.99L229.12 156.99M233.31 152.43L233.31 156.41M225.92 152.43L233.31 152.43M229.12 156.41L233.31 156.41M238 143.6L238 154.42M230.25 143.6L238 143.6M233.31 154.42L238 154.42M248.7 128.5L248.7 149.01M238.2 128.5L248.7 128.5M238 149.01L248.7 149.01M228.34 158.13L228.34 158.65M218.2 158.13L228.34 158.13M218.2 158.65L228.34 158.65M220.06 159.66L220.06 160.18M218.2 159.66L220.06 159.66M218.2 160.18L220.06 160.18M225.17 159.16L225.17 159.92M218.2 159.16L225.17 159.16M220.06 159.92L225.17 159.92M224.98 160.69L224.98 161.19M218.2 160.69L224.98 160.69M218.2 161.19L224.98 161.19M231.51 159.54L231.51 160.94M225.17 159.54L231.51 159.54M224.98 160.94L231.51 160.94M235.65 158.39L235.65 160.24M228.34 158.39L235.65 158.39M231.51 160.24L235.65 160.24M218.77 162.22L218.77 162.72M218.2 162.22L218.77 162.22M218.2 162.72L218.77 162.72M219.43 161.7L219.43 162.47M218.2 161.7L219.43 161.7M218.77 162.47L219.43 162.47M219.59 162.09L219.59 163.24M219.43 162.09L219.59 162.09M218.2 163.24L219.59 163.24M221.28 163.75L221.28 164.25M218.2 163.75L221.28 163.75M218.2 164.25L221.28 164.25M222.46 162.66L222.46 164M219.59 162.66L222.46 162.66M221.28 164L222.46 164M220.05 164.76L220.05 165.28M218.2 164.76L220.05 164.76M218.2 165.28L220.05 165.28M220.63 165.02L220.63 165.78M220.05 165.02L220.63 165.02M218.2 165.78L220.63 165.78M222.47 166.3L222.47 166.81M218.2 166.3L222.47 166.3M218.2 166.81L222.47 166.81M224.22 165.4L224.22 166.55M220.63 165.4L224.22 165.4M222.47 166.55L224.22 166.55M233.37 163.33L233.37 165.98M222.46 163.33L233.37 163.33M224.22 165.98L233.37 165.98M236.92 159.31L236.92 164.65M235.65 159.31L236.92 159.31M233.37 164.65L236.92 164.65M222.71 167.31L222.71 167.82M218.2 167.31L222.71 167.31M218.2 167.82L222.71 167.82M223.28 167.57L223.28 168.34M222.71 167.57L223.28 167.57M218.2 168.34L223.28 168.34M219.59 169.36L219.59 169.87M218.2 169.36L219.59 169.36M218.2 169.87L219.59 169.87M220.78 168.84L220.78 169.61M218.2 168.84L220.78 168.84M219.59 169.61L220.78 169.61M228.36 167.95L228.36 169.23M223.28 167.95L228.36 167.95M220.78 169.23L228.36 169.23M218.92 170.38L218.92 170.88M218.2 170.38L218.92 170.38M218.2 170.88L218.92 170.88M219 171.4L219 171.91M218.2 171.4L219 171.4M218.2 171.91L219 171.91M219.1 170.63L219.1 171.65M218.92 170.63L219.1 170.63M219 171.65L219.1 171.65M218.53 172.41L218.53 172.93M218.2 172.41L218.53 172.41M218.2 172.93L218.53 172.93M218.76 172.67L218.76 173.44M218.53 172.67L218.76 172.67M218.2 173.44L218.76 173.44M219.05 173.05L219.05 173.94M218.76 173.05L219.05 173.05M218.2 173.94L219.05 173.94M219.92 173.5L219.92 174.45M219.05 173.5L219.92 173.5M218.2 174.45L219.92 174.45M220.84 171.14L220.84 173.98M219.1 171.14L220.84 171.14M219.92 173.98L220.84 173.98M224.13 174.97L224.13 175.47M218.2 174.97L224.13 174.97M218.2 175.47L224.13 175.47M225.25 175.22L225.25 175.99M224.13 175.22L225.25 175.22M218.2 175.99L225.25 175.99M229 172.56L229 175.6M220.84 172.56L229 172.56M225.25 175.6L229 175.6M231.82 168.59L231.82 174.08M228.36 168.59L231.82 168.59M229 174.08L231.82 174.08M238.21 161.98L238.21 171.34M236.92 161.98L238.21 161.98M231.82 171.34L238.21 171.34M219 176.5L219 177M218.2 176.5L219 176.5M218.2 177L219 177M218.41 178.03L218.41 178.53M218.2 178.03L218.41 178.03M218.2 178.53L218.41 178.53M218.44 178.28L218.44 179.05M218.41 178.28L218.44 178.28M218.2 179.05L218.44 179.05M219.18 177.51L219.18 178.66M218.2 177.51L219.18 177.51M218.44 178.66L219.18 178.66M220.42 176.75L220.42 178.09M219 176.75L220.42 176.75M219.18 178.09L220.42 178.09M221.48 180.57L221.48 181.09M218.2 180.57L221.48 180.57M218.2 181.09L221.48 181.09M225.51 180.06L225.51 180.83M218.2 180.06L225.51 180.06M221.48 180.83L225.51 180.83M226.64 179.56L226.64 180.45M218.2 179.56L226.64 179.56M225.51 180.45L226.64 180.45M229 177.42L229 180M220.42 177.42L229 177.42M226.64 180L229 180M218.95 181.59L218.95 182.11M218.2 181.59L218.95 181.59M218.2 182.11L218.95 182.11M219.2 181.85L219.2 182.62M218.95 181.85L219.2 181.85M218.2 182.62L219.2 182.62M219.36 183.12L219.36 183.63M218.2 183.12L219.36 183.12M218.2 183.63L219.36 183.63M220.1 182.23L220.1 183.38M219.2 182.23L220.1 182.23M219.36 183.38L220.1 183.38M220 184.66L220 185.17M218.2 184.66L220 184.66M218.2 185.17L220 185.17M220.87 184.14L220.87 184.91M218.2 184.14L220.87 184.14M220 184.91L220.87 184.91M221.66 184.53L221.66 185.68M220.87 184.53L221.66 184.53M218.2 185.68L221.66 185.68M225.77 182.81L225.77 185.1M220.1 182.81L225.77 182.81M221.66 185.1L225.77 185.1M231.54 178.71L231.54 183.95M229 178.71L231.54 178.71M225.77 183.95L231.54 183.95M219.9 186.19L219.9 186.69M218.2 186.19L219.9 186.19M218.2 186.69L219.9 186.69M222.76 186.44L222.76 187.2M219.9 186.44L222.76 186.44M218.2 187.2L222.76 187.2M219.42 187.72L219.42 188.22M218.2 187.72L219.42 187.72M218.2 188.22L219.42 188.22M219.61 187.97L219.61 188.74M219.42 187.97L219.61 187.97M218.2 188.74L219.61 188.74M220.25 189.25L220.25 189.75M218.2 189.25L220.25 189.25M218.2 189.75L220.25 189.75M221.67 188.35L221.67 189.5M219.61 188.35L221.67 188.35M220.25 189.5L221.67 189.5M231.28 186.82L231.28 188.93M222.76 186.82L231.28 186.82M221.67 188.93L231.28 188.93M236.34 181.33L236.34 187.87M231.54 181.33L236.34 181.33M231.28 187.87L236.34 187.87M244.4 166.66L244.4 184.6M238.21 166.66L244.4 166.66M236.34 184.6L244.4 184.6M252.7 138.75L252.7 175.63M248.7 138.75L252.7 138.75M244.4 175.63L252.7 175.63M218.72 190.26L218.72 190.78M218.2 190.26L218.72 190.26M218.2 190.78L218.72 190.78M220.18 190.52L220.18 191.28M218.72 190.52L220.18 190.52M218.2 191.28L220.18 191.28M222.76 191.8L222.76 192.31M218.2 191.8L222.76 191.8M218.2 192.31L222.76 192.31M223.3 192.05L223.3 192.81M222.76 192.05L223.3 192.05M218.2 192.81L223.3 192.81M224.17 190.9L224.17 192.43M220.18 190.9L224.17 190.9M223.3 192.43L224.17 192.43M219.7 193.32L219.7 193.84M218.2 193.32L219.7 193.32M218.2 193.84L219.7 193.84M220.53 193.58L220.53 194.34M219.7 193.58L220.53 193.58M218.2 194.34L220.53 194.34M219.58 194.86L219.58 195.37M218.2 194.86L219.58 194.86M218.2 195.37L219.58 195.37M221.78 193.96L221.78 195.11M220.53 193.96L221.78 193.96M219.58 195.11L221.78 195.11M219.43 195.88L219.43 196.38M218.2 195.88L219.43 195.88M218.2 196.38L219.43 196.38M219.29 196.89L219.29 197.41M218.2 196.89L219.29 196.89M218.2 197.41L219.29 197.41M219.43 197.15L219.43 197.92M219.29 197.15L219.43 197.15M218.2 197.92L219.43 197.92M219.96 196.13L219.96 197.53M219.43 196.13L219.96 196.13M219.43 197.53L219.96 197.53M222.1 198.43L222.1 198.94M218.2 198.43L222.1 198.43M218.2 198.94L222.1 198.94M222.65 196.83L222.65 198.68M219.96 196.83L222.65 196.83M222.1 198.68L222.65 198.68M226.1 194.54L226.1 197.76M221.78 194.54L226.1 194.54M222.65 197.76L226.1 197.76M229.16 191.67L229.16 196.15M224.17 191.67L229.16 191.67M226.1 196.15L229.16 196.15M226.36 199.44L226.36 199.95M218.2 199.44L226.36 199.44M218.2 199.95L226.36 199.95M221.63 200.47L221.63 200.98M218.2 200.47L221.63 200.47M218.2 200.98L221.63 200.98M233.13 199.7L233.13 200.72M226.36 199.7L233.13 199.7M221.63 200.72L233.13 200.72M223.7 202.5L223.7 203.01M218.2 202.5L223.7 202.5M218.2 203.01L223.7 203.01M226.29 202L226.29 202.76M218.2 202L226.29 202M223.7 202.76L226.29 202.76M232.26 201.49L232.26 202.38M218.2 201.49L232.26 201.49M226.29 202.38L232.26 202.38M236.05 200.21L236.05 201.93M233.13 200.21L236.05 200.21M232.26 201.93L236.05 201.93M237.5 193.91L237.5 201.07M229.16 193.91L237.5 193.91M236.05 201.07L237.5 201.07M218.76 204.03L218.76 204.55M218.2 204.03L218.76 204.03M218.2 204.55L218.76 204.55M219.87 203.53L219.87 204.29M218.2 203.53L219.87 203.53M218.76 204.29L219.87 204.29M218.44 205.56L218.44 206.07M218.2 205.56L218.44 205.56M218.2 206.07L218.44 206.07M218.9 205.06L218.9 205.82M218.2 205.06L218.9 205.06M218.44 205.82L218.9 205.82M221.63 203.91L221.63 205.44M219.87 203.91L221.63 203.91M218.9 205.44L221.63 205.44M219 206.59L219 207.09M218.2 206.59L219 206.59M218.2 207.09L219 207.09M219.4 207.61L219.4 208.12M218.2 207.61L219.4 207.61M218.2 208.12L219.4 208.12M220.31 206.84L220.31 207.86M219 206.84L220.31 206.84M219.4 207.86L220.31 207.86M226.49 204.67L226.49 207.35M221.63 204.67L226.49 204.67M220.31 207.35L226.49 207.35M219.08 208.62L219.08 209.13M218.2 208.62L219.08 208.62M218.2 209.13L219.08 209.13M219.62 208.88L219.62 209.64M219.08 208.88L219.62 208.88M218.2 209.64L219.62 209.64M219.14 210.16L219.14 210.67M218.2 210.16L219.14 210.16M218.2 210.67L219.14 210.67M220.21 209.26L220.21 210.41M219.62 209.26L220.21 209.26M219.14 210.41L220.21 210.41M219.3 211.69L219.3 212.19M218.2 211.69L219.3 211.69M218.2 212.19L219.3 212.19M222.05 211.18L222.05 211.94M218.2 211.18L222.05 211.18M219.3 211.94L222.05 211.94M220.5 213.22L220.5 213.73M218.2 213.22L220.5 213.22M218.2 213.73L220.5 213.73M221.8 212.7L221.8 213.47M218.2 212.7L221.8 212.7M220.5 213.47L221.8 213.47M223.21 211.56L223.21 213.09M222.05 211.56L223.21 211.56M221.8 213.09L223.21 213.09M225.26 209.84L225.26 212.32M220.21 209.84L225.26 209.84M223.21 212.32L225.26 212.32M219.49 214.75L219.49 215.25M218.2 214.75L219.49 214.75M218.2 215.25L219.49 215.25M220.03 215L220.03 215.76M219.49 215L220.03 215M218.2 215.76L220.03 215.76M223.55 214.24L223.55 215.38M218.2 214.24L223.55 214.24M220.03 215.38L223.55 215.38M227.01 211.08L227.01 214.81M225.26 211.08L227.01 211.08M223.55 214.81L227.01 214.81M229.54 206.01L229.54 212.94M226.49 206.01L229.54 206.01M227.01 212.94L229.54 212.94M241.5 197.49L241.5 209.48M237.5 197.49L241.5 197.49M229.54 209.48L241.5 209.48M219.39 216.28L219.39 216.78M218.2 216.28L219.39 216.28M218.2 216.78L219.39 216.78M220.49 217.3L220.49 217.81M218.2 217.3L220.49 217.3M218.2 217.81L220.49 217.81M222.03 216.53L222.03 217.55M219.39 216.53L222.03 216.53M220.49 217.55L222.03 217.55M219.32 218.31L219.32 218.82M218.2 218.31L219.32 218.31M218.2 218.82L219.32 218.82M218.22 219.84L218.22 220.36M218.2 219.84L218.22 219.84M218.2 220.36L218.22 220.36M218.26 220.1L218.26 220.87M218.22 220.1L218.26 220.1M218.2 220.87L218.26 220.87M218.33 219.34L218.33 220.48M218.2 219.34L218.33 219.34M218.26 220.48L218.33 220.48M218.78 219.91L218.78 221.38M218.33 219.91L218.78 219.91M218.2 221.38L218.78 221.38M220.19 218.57L220.19 220.64M219.32 218.57L220.19 218.57M218.78 220.64L220.19 220.64M226.12 217.04L226.12 219.61M222.03 217.04L226.12 217.04M220.19 219.61L226.12 219.61M219.59 221.88L219.59 222.39M218.2 221.88L219.59 221.88M218.2 222.39L219.59 222.39M221.53 222.14L221.53 222.91M219.59 222.14L221.53 222.14M218.2 222.91L221.53 222.91M218.28 223.42L218.28 223.93M218.2 223.42L218.28 223.42M218.2 223.93L218.28 223.93M218.4 223.67L218.4 224.44M218.28 223.67L218.4 223.67M218.2 224.44L218.4 224.44M218.58 224.05L218.58 224.94M218.4 224.05L218.58 224.05M218.2 224.94L218.58 224.94M219.87 224.5L219.87 225.45M218.58 224.5L219.87 224.5M218.2 225.45L219.87 225.45M219.58 225.97L219.58 226.48M218.2 225.97L219.58 225.97M218.2 226.48L219.58 226.48M220.5 224.98L220.5 226.22M219.87 224.98L220.5 224.98M219.58 226.22L220.5 226.22M222.63 222.52L222.63 225.6M221.53 222.52L222.63 222.52M220.5 225.6L222.63 225.6M219.06 227.5L219.06 228M218.2 227.5L219.06 227.5M218.2 228L219.06 228M221.11 226.99L221.11 227.75M218.2 226.99L221.11 226.99M219.06 227.75L221.11 227.75M222.18 228.51L222.18 229.03M218.2 228.51L222.18 228.51M218.2 229.03L222.18 229.03M224.46 227.37L224.46 228.77M221.11 227.37L224.46 227.37M222.18 228.77L224.46 228.77M225.4 224.06L225.4 228.07M222.63 224.06L225.4 224.06M224.46 228.07L225.4 228.07M231.27 218.32L231.27 226.06M226.12 218.32L231.27 218.32M225.4 226.06L231.27 226.06M218.58 229.53L218.58 230.05M218.2 229.53L218.58 229.53M218.2 230.05L218.58 230.05M218.61 230.56L218.61 231.06M218.2 230.56L218.61 230.56M218.2 231.06L218.61 231.06M218.9 229.79L218.9 230.81M218.58 229.79L218.9 229.79M218.61 230.81L218.9 230.81M218.32 232.09L218.32 232.59M218.2 232.09L218.32 232.09M218.2 232.59L218.32 232.59M218.64 231.57L218.64 232.34M218.2 231.57L218.64 231.57M218.32 232.34L218.64 232.34M218.37 233.11L218.37 233.62M218.2 233.11L218.37 233.11M218.2 233.62L218.37 233.62M218.97 231.96L218.97 233.36M218.64 231.96L218.97 231.96M218.37 233.36L218.97 233.36M219.22 230.3L219.22 232.66M218.9 230.3L219.22 230.3M218.97 232.66L219.22 232.66M218.98 234.63L218.98 235.14M218.2 234.63L218.98 234.63M218.2 235.14L218.98 235.14M219.74 234.12L219.74 234.89M218.2 234.12L219.74 234.12M218.98 234.89L219.74 234.89M221.99 231.48L221.99 234.51M219.22 231.48L221.99 231.48M219.74 234.51L221.99 234.51M219.13 235.66L219.13 236.17M218.2 235.66L219.13 235.66M218.2 236.17L219.13 236.17M218.96 236.68L218.96 237.19M218.2 236.68L218.96 236.68M218.2 237.19L218.96 237.19M219.6 235.91L219.6 236.93M219.13 235.91L219.6 235.91M218.96 236.93L219.6 236.93M219.29 237.69L219.29 238.2M218.2 237.69L219.29 237.69M218.2 238.2L219.29 238.2M220.59 236.42L220.59 237.95M219.6 236.42L220.59 236.42M219.29 237.95L220.59 237.95M219.41 238.72L219.41 239.23M218.2 238.72L219.41 238.72M218.2 239.23L219.41 239.23M220.27 239.74L220.27 240.25M218.2 239.74L220.27 239.74M218.2 240.25L220.27 240.25M221.28 238.97L221.28 239.99M219.41 238.97L221.28 238.97M220.27 239.99L221.28 239.99M222.38 237.19L222.38 239.48M220.59 237.19L222.38 237.19M221.28 239.48L222.38 239.48M218.52 240.75L218.52 241.27M218.2 240.75L218.52 240.75M218.2 241.27L218.52 241.27M218.36 241.78L218.36 242.28M218.2 241.78L218.36 241.78M218.2 242.28L218.36 242.28M218.52 242.8L218.52 243.31M218.2 242.8L218.52 242.8M218.2 243.31L218.52 243.31M218.62 242.03L218.62 243.05M218.36 242.03L218.62 242.03M218.52 243.05L218.62 243.05M219.34 241.01L219.34 242.54M218.52 241.01L219.34 241.01M218.62 242.54L219.34 242.54M222.01 243.81L222.01 244.32M218.2 243.81L222.01 243.81M218.2 244.32L222.01 244.32M222.64 244.07L222.64 244.84M222.01 244.07L222.64 244.07M218.2 244.84L222.64 244.84M223.29 241.78L223.29 244.45M219.34 241.78L223.29 241.78M222.64 244.45L223.29 244.45M219.04 245.34L219.04 245.85M218.2 245.34L219.04 245.34M218.2 245.85L219.04 245.85M218.52 246.37L218.52 246.88M218.2 246.37L218.52 246.37M218.2 246.88L218.52 246.88M219.25 245.6L219.25 246.62M219.04 245.6L219.25 245.6M218.52 246.62L219.25 246.62M218.28 247.9L218.28 248.41M218.2 247.9L218.28 247.9M218.2 248.41L218.28 248.41M218.33 248.15L218.33 248.91M218.28 248.15L218.33 248.15M218.2 248.91L218.33 248.91M218.47 247.38L218.47 248.53M218.2 247.38L218.47 247.38M218.33 248.53L218.47 248.53M219.03 249.43L219.03 249.94M218.2 249.43L219.03 249.43M218.2 249.94L219.03 249.94M219.45 247.96L219.45 249.68M218.47 247.96L219.45 247.96M219.03 249.68L219.45 249.68M221.03 246.11L221.03 248.82M219.25 246.11L221.03 246.11M219.45 248.82L221.03 248.82M218.75 250.44L218.75 250.96M218.2 250.44L218.75 250.44M218.2 250.96L218.75 250.96M218.78 251.97L218.78 252.49M218.2 251.97L218.78 251.97M218.2 252.49L218.78 252.49M219.21 251.47L219.21 252.23M218.2 251.47L219.21 251.47M218.78 252.23L219.21 252.23M220.13 250.7L220.13 251.85M218.75 250.7L220.13 250.7M219.21 251.85L220.13 251.85M221.64 247.46L221.64 251.27M221.03 247.46L221.64 247.46M220.13 251.27L221.64 251.27M223.98 243.11L223.98 249.37M223.29 243.11L223.98 243.11M221.64 249.37L223.98 249.37M224.2 238.33L224.2 246.24M222.38 238.33L224.2 238.33M223.98 246.24L224.2 246.24M226.58 232.99L226.58 242.29M221.99 232.99L226.58 232.99M224.2 242.29L226.58 242.29M219.18 254.02L219.18 254.53M218.2 254.02L219.18 254.02M218.2 254.53L219.18 254.53M219.93 253.5L219.93 254.27M218.2 253.5L219.93 253.5M219.18 254.27L219.93 254.27M221.11 253L221.11 253.89M218.2 253L221.11 253M219.93 253.89L221.11 253.89M219.18 255.55L219.18 256.06M218.2 255.55L219.18 255.55M218.2 256.06L219.18 256.06M219.92 255.03L219.92 255.8M218.2 255.03L219.92 255.03M219.18 255.8L219.92 255.8M218.74 257.07L218.74 257.59M218.2 257.07L218.74 257.07M218.2 257.59L218.74 257.59M218.85 256.56L218.85 257.33M218.2 256.56L218.85 256.56M218.74 257.33L218.85 257.33M218.36 258.61L218.36 259.12M218.2 258.61L218.36 258.61M218.2 259.12L218.36 259.12M219 258.1L219 258.86M218.2 258.1L219 258.1M218.36 258.86L219 258.86M219.62 256.95L219.62 258.48M218.85 256.95L219.62 256.95M219 258.48L219.62 258.48M221.92 255.42L221.92 257.71M219.92 255.42L221.92 255.42M219.62 257.71L221.92 257.71M222.66 253.44L222.66 256.56M221.11 253.44L222.66 253.44M221.92 256.56L222.66 256.56M219.16 259.62L219.16 260.13M218.2 259.62L219.16 259.62M218.2 260.13L219.16 260.13M221.03 260.64L221.03 261.15M218.2 260.64L221.03 260.64M218.2 261.15L221.03 261.15M221.51 259.88L221.51 260.9M219.16 259.88L221.51 259.88M221.03 260.9L221.51 260.9M224.27 260.39L224.27 261.66M221.51 260.39L224.27 260.39M218.2 261.66L224.27 261.66M226.87 255L226.87 261.03M222.66 255L226.87 255M224.27 261.03L226.87 261.03M228.37 237.64L228.37 258.02M226.58 237.64L228.37 237.64M226.87 258.02L228.37 258.02M236.5 222.19L236.5 247.83M231.27 222.19L236.5 222.19M228.37 247.83L236.5 247.83M221.49 262.18L221.49 262.69M218.2 262.18L221.49 262.18M218.2 262.69L221.49 262.69M220.5 263.19L220.5 263.71M218.2 263.19L220.5 263.19M218.2 263.71L220.5 263.71M219.47 264.22L219.47 264.73M218.2 264.22L219.47 264.22M218.2 264.73L219.47 264.73M219.92 264.47L219.92 265.24M219.47 264.47L219.92 264.47M218.2 265.24L219.92 265.24M220.81 263.45L220.81 264.85M220.5 263.45L220.81 263.45M219.92 264.85L220.81 264.85M222.33 262.43L222.33 264.15M221.49 262.43L222.33 262.43M220.81 264.15L222.33 264.15M219.6 265.75L219.6 266.25M218.2 265.75L219.6 265.75M218.2 266.25L219.6 266.25M219.62 266.76L219.62 267.27M218.2 266.76L219.62 266.76M218.2 267.27L219.62 267.27M219.78 266L219.78 267.02M219.6 266L219.78 266M219.62 267.02L219.78 267.02M221.74 266.51L221.74 267.78M219.78 266.51L221.74 266.51M218.2 267.78L221.74 267.78M224.11 263.29L224.11 267.15M222.33 263.29L224.11 263.29M221.74 267.15L224.11 267.15M218.46 268.81L218.46 269.31M218.2 268.81L218.46 268.81M218.2 269.31L218.46 269.31M218.51 269.06L218.51 269.82M218.46 269.06L218.51 269.06M218.2 269.82L218.51 269.82M218.59 268.3L218.59 269.44M218.2 268.3L218.59 268.3M218.51 269.44L218.59 269.44M219.67 268.87L219.67 270.34M218.59 268.87L219.67 268.87M218.2 270.34L219.67 270.34M219.04 270.85L219.04 271.36M218.2 270.85L219.04 270.85M218.2 271.36L219.04 271.36M219.95 271.1L219.95 271.87M219.04 271.1L219.95 271.1M218.2 271.87L219.95 271.87M218.52 272.38L218.52 272.88M218.2 272.38L218.52 272.38M218.2 272.88L218.52 272.88M219.04 273.39L219.04 273.9M218.2 273.39L219.04 273.39M218.2 273.9L219.04 273.9M219.39 272.63L219.39 273.65M218.52 272.63L219.39 272.63M219.04 273.65L219.39 273.65M220.32 271.48L220.32 273.14M219.95 271.48L220.32 271.48M219.39 273.14L220.32 273.14M221.03 269.6L221.03 272.31M219.67 269.6L221.03 269.6M220.32 272.31L221.03 272.31M218.22 275.44L218.22 275.94M218.2 275.44L218.22 275.44M218.2 275.94L218.22 275.94M218.28 274.93L218.28 275.69M218.2 274.93L218.28 274.93M218.22 275.69L218.28 275.69M218.55 274.41L218.55 275.31M218.2 274.41L218.55 274.41M218.28 275.31L218.55 275.31M218.61 276.97L218.61 277.48M218.2 276.97L218.61 276.97M218.2 277.48L218.61 277.48M218.99 276.46L218.99 277.22M218.2 276.46L218.99 276.46M218.61 277.22L218.99 277.22M219.16 274.86L219.16 276.84M218.55 274.86L219.16 274.86M218.99 276.84L219.16 276.84M218.45 279L218.45 279.51M218.2 279L218.45 279M218.2 279.51L218.45 279.51M218.53 278.5L218.53 279.26M218.2 278.5L218.53 278.5M218.45 279.26L218.53 279.26M219.21 277.99L219.21 278.88M218.2 277.99L219.21 277.99M218.53 278.88L219.21 278.88M219.44 275.85L219.44 278.43M219.16 275.85L219.44 275.85M219.21 278.43L219.44 278.43M218.54 280.02L218.54 280.53M218.2 280.02L218.54 280.02M218.2 280.53L218.54 280.53M219.06 280.28L219.06 281.05M218.54 280.28L219.06 280.28M218.2 281.05L219.06 281.05M218.76 281.56L218.76 282.06M218.2 281.56L218.76 281.56M218.2 282.06L218.76 282.06M219.56 280.66L219.56 281.81M219.06 280.66L219.56 280.66M218.76 281.81L219.56 281.81M219.93 277.14L219.93 281.24M219.44 277.14L219.93 277.14M219.56 281.24L219.93 281.24M219.96 282.58L219.96 283.09M218.2 282.58L219.96 282.58M218.2 283.09L219.96 283.09M218.53 284.11L218.53 284.62M218.2 284.11L218.53 284.11M218.2 284.62L218.53 284.62M218.61 283.6L218.61 284.36M218.2 283.6L218.61 283.6M218.53 284.36L218.61 284.36M218.91 285.63L218.91 286.14M218.2 285.63L218.91 285.63M218.2 286.14L218.91 286.14M219.03 285.12L219.03 285.89M218.2 285.12L219.03 285.12M218.91 285.89L219.03 285.89M219.2 283.98L219.2 285.51M218.61 283.98L219.2 283.98M219.03 285.51L219.2 285.51M220.96 282.83L220.96 284.74M219.96 282.83L220.96 282.83M219.2 284.74L220.96 284.74M221.52 279.19L221.52 283.79M219.93 279.19L221.52 279.19M220.96 283.79L221.52 283.79M223.88 270.96L223.88 281.49M221.03 270.96L223.88 270.96M221.52 281.49L223.88 281.49M229.46 265.22L229.46 276.22M224.11 265.22L229.46 265.22M223.88 276.22L229.46 276.22M218.62 286.65L218.62 287.16M218.2 286.65L218.62 286.65M218.2 287.16L218.62 287.16M218.45 287.68L218.45 288.19M218.2 287.68L218.45 287.68M218.2 288.19L218.45 288.19M218.73 286.91L218.73 287.93M218.62 286.91L218.73 286.91M218.45 287.93L218.73 287.93M218.42 289.21L218.42 289.72M218.2 289.21L218.42 289.21M218.2 289.72L218.42 289.72M218.46 290.23L218.46 290.74M218.2 290.23L218.46 290.23M218.2 290.74L218.46 290.74M218.64 289.46L218.64 290.48M218.42 289.46L218.64 289.46M218.46 290.48L218.64 290.48M218.78 288.69L218.78 289.97M218.2 288.69L218.78 288.69M218.64 289.97L218.78 289.97M219.72 287.42L219.72 289.33M218.73 287.42L219.72 287.42M218.78 289.33L219.72 289.33M218.81 291.25L218.81 291.75M218.2 291.25L218.81 291.25M218.2 291.75L218.81 291.75M218.49 292.26L218.49 292.77M218.2 292.26L218.49 292.26M218.2 292.77L218.49 292.77M218.73 292.52L218.73 293.28M218.49 292.52L218.73 292.52M218.2 293.28L218.73 293.28M219.7 291.5L219.7 292.9M218.81 291.5L219.7 291.5M218.73 292.9L219.7 292.9M218.95 293.8L218.95 294.31M218.2 293.8L218.95 293.8M218.2 294.31L218.95 294.31M220.26 292.2L220.26 294.05M219.7 292.2L220.26 292.2M218.95 294.05L220.26 294.05M221.16 288.38L221.16 293.13M219.72 288.38L221.16 288.38M220.26 293.13L221.16 293.13M218.38 295.33L218.38 295.84M218.2 295.33L218.38 295.33M218.2 295.84L218.38 295.84M218.66 294.81L218.66 295.58M218.2 294.81L218.66 294.81M218.38 295.58L218.66 295.58M218.6 296.35L218.6 296.86M218.2 296.35L218.6 296.35M218.2 296.86L218.6 296.86M218.94 295.2L218.94 296.6M218.66 295.2L218.94 295.2M218.6 296.6L218.94 296.6M218.67 297.37L218.67 297.88M218.2 297.37L218.67 297.37M218.2 297.88L218.67 297.88M219.11 295.9L219.11 297.62M218.94 295.9L219.11 295.9M218.67 297.62L219.11 297.62M219.23 298.38L219.23 298.89M218.2 298.38L219.23 298.38M218.2 298.89L219.23 298.89M219.92 298.64L219.92 299.4M219.23 298.64L219.92 298.64M218.2 299.4L219.92 299.4M220.38 296.76L220.38 299.02M219.11 296.76L220.38 296.76M219.92 299.02L220.38 299.02M221.56 290.75L221.56 297.89M221.16 290.75L221.56 290.75M220.38 297.89L221.56 297.89M218.51 299.91L218.51 300.43M218.2 299.91L218.51 299.91M218.2 300.43L218.51 300.43M218.74 300.17L218.74 300.94M218.51 300.17L218.74 300.17M218.2 300.94L218.74 300.94M219.01 300.55L219.01 301.44M218.74 300.55L219.01 300.55M218.2 301.44L219.01 301.44M218.36 301.96L218.36 302.47M218.2 301.96L218.36 301.96M218.2 302.47L218.36 302.47M218.52 302.21L218.52 302.98M218.36 302.21L218.52 302.21M218.2 302.98L218.52 302.98M218.24 303.49L218.24 304M218.2 303.49L218.24 303.49M218.2 304L218.24 304M218.39 303.74L218.39 304.5M218.24 303.74L218.39 303.74M218.2 304.5L218.39 304.5M218.95 302.59L218.95 304.12M218.52 302.59L218.95 302.59M218.39 304.12L218.95 304.12M218.62 305.01L218.62 305.52M218.2 305.01L218.62 305.01M218.2 305.52L218.62 305.52M218.36 306.03L218.36 306.55M218.2 306.03L218.36 306.03M218.2 306.55L218.36 306.55M218.52 306.29L218.52 307.06M218.36 306.29L218.52 306.29M218.2 307.06L218.52 307.06M218.82 305.27L218.82 306.67M218.62 305.27L218.82 305.27M218.52 306.67L218.82 306.67M219.11 303.36L219.11 305.97M218.95 303.36L219.11 303.36M218.82 305.97L219.11 305.97M219.22 301L219.22 304.66M219.01 301L219.22 301M219.11 304.66L219.22 304.66M218.36 308.08L218.36 308.59M218.2 308.08L218.36 308.08M218.2 308.59L218.36 308.59M218.4 307.56L218.4 308.33M218.2 307.56L218.4 307.56M218.36 308.33L218.4 308.33M218.3 309.61L218.3 310.12M218.2 309.61L218.3 309.61M218.2 310.12L218.3 310.12M218.37 309.1L218.37 309.86M218.2 309.1L218.37 309.1M218.3 309.86L218.37 309.86M218.97 307.95L218.97 309.48M218.4 307.95L218.97 307.95M218.37 309.48L218.97 309.48M219.53 302.83L219.53 308.71M219.22 302.83L219.53 302.83M218.97 308.71L219.53 308.71M218.46 311.13L218.46 311.64M218.2 311.13L218.46 311.13M218.2 311.64L218.46 311.64M218.41 312.15L218.41 312.66M218.2 312.15L218.41 312.15M218.2 312.66L218.41 312.66M218.52 311.39L218.52 312.41M218.46 311.39L218.52 311.39M218.41 312.41L218.52 312.41M218.83 310.62L218.83 311.9M218.2 310.62L218.83 310.62M218.52 311.9L218.83 311.9M218.41 313.69L218.41 314.19M218.2 313.69L218.41 313.69M218.2 314.19L218.41 314.19M218.74 313.18L218.74 313.94M218.2 313.18L218.74 313.18M218.41 313.94L218.74 313.94M218.95 311.26L218.95 313.56M218.83 311.26L218.95 311.26M218.74 313.56L218.95 313.56M218.5 315.22L218.5 315.73M218.2 315.22L218.5 315.22M218.2 315.73L218.5 315.73M218.95 314.71L218.95 315.47M218.2 314.71L218.95 314.71M218.5 315.47L218.95 315.47M218.67 316.24L218.67 316.75M218.2 316.24L218.67 316.24M218.2 316.75L218.67 316.75M218.44 317.25L218.44 317.76M218.2 317.25L218.44 317.25M218.2 317.76L218.44 317.76M218.74 316.49L218.74 317.51M218.67 316.49L218.74 316.49M218.44 317.51L218.74 317.51M219.26 315.09L219.26 317M218.95 315.09L219.26 315.09M218.74 317L219.26 317M219.35 312.41L219.35 316.04M218.95 312.41L219.35 312.41M219.26 316.04L219.35 316.04M218.49 318.27L218.49 318.78M218.2 318.27L218.49 318.27M218.2 318.78L218.49 318.78M218.4 319.3L218.4 319.81M218.2 319.3L218.4 319.3M218.2 319.81L218.4 319.81M218.42 319.55L218.42 320.31M218.4 319.55L218.42 319.55M218.2 320.31L218.42 320.31M218.79 318.53L218.79 319.93M218.49 318.53L218.79 318.53M218.42 319.93L218.79 319.93M219.7 320.83L219.7 321.34M218.2 320.83L219.7 320.83M218.2 321.34L219.7 321.34M220.17 319.23L220.17 321.08M218.79 319.23L220.17 319.23M219.7 321.08L220.17 321.08M218.63 321.85L218.63 322.36M218.2 321.85L218.63 321.85M218.2 322.36L218.63 322.36M219.34 322.1L219.34 322.87M218.63 322.1L219.34 322.1M218.2 322.87L219.34 322.87M218.36 323.88L218.36 324.39M218.2 323.88L218.36 323.88M218.2 324.39L218.36 324.39M218.66 323.38L218.66 324.14M218.2 323.38L218.66 323.38M218.36 324.14L218.66 324.14M218.59 324.9L218.59 325.41M218.2 324.9L218.59 324.9M218.2 325.41L218.59 325.41M218.74 323.76L218.74 325.16M218.66 323.76L218.74 323.76M218.59 325.16L218.74 325.16M219.19 325.93L219.19 326.44M218.2 325.93L219.19 325.93M218.2 326.44L219.19 326.44M219.54 324.46L219.54 326.18M218.74 324.46L219.54 324.46M219.19 326.18L219.54 326.18M219.9 322.48L219.9 325.32M219.34 322.48L219.9 322.48M219.54 325.32L219.9 325.32M220.27 320.16L220.27 323.9M220.17 320.16L220.27 320.16M219.9 323.9L220.27 323.9M220.41 314.23L220.41 322.03M219.35 314.23L220.41 314.23M220.27 322.03L220.41 322.03M220.9 305.77L220.9 318.13M219.53 305.77L220.9 305.77M220.41 318.13L220.9 318.13M222.09 294.32L222.09 311.95M221.56 294.32L222.09 294.32M220.9 311.95L222.09 311.95M219.8 326.94L219.8 327.46M218.2 326.94L219.8 326.94M218.2 327.46L219.8 327.46M220.18 327.2L220.18 327.97M219.8 327.2L220.18 327.2M218.2 327.97L220.18 327.97M218.42 328.99L218.42 329.5M218.2 328.99L218.42 328.99M218.2 329.5L218.42 329.5M218.68 329.24L218.68 330M218.42 329.24L218.68 329.24M218.2 330L218.68 330M219.01 328.48L219.01 329.62M218.2 328.48L219.01 328.48M218.68 329.62L219.01 329.62M220.78 327.58L220.78 329.05M220.18 327.58L220.78 327.58M219.01 329.05L220.78 329.05M218.9 331.02L218.9 331.53M218.2 331.02L218.9 331.02M218.2 331.53L218.9 331.53M219.6 330.51L219.6 331.28M218.2 330.51L219.6 330.51M218.9 331.28L219.6 331.28M219.88 332.05L219.88 332.56M218.2 332.05L219.88 332.05M218.2 332.56L219.88 332.56M221.82 330.9L221.82 332.3M219.6 330.9L221.82 330.9M219.88 332.3L221.82 332.3M223.95 328.32L223.95 331.6M220.78 328.32L223.95 328.32M221.82 331.6L223.95 331.6M219.01 334.09L219.01 334.6M218.2 334.09L219.01 334.09M218.2 334.6L219.01 334.6M219.76 333.58L219.76 334.34M218.2 333.58L219.76 333.58M219.01 334.34L219.76 334.34M220.27 333.06L220.27 333.96M218.2 333.06L220.27 333.06M219.76 333.96L220.27 333.96M218.64 335.62L218.64 336.12M218.2 335.62L218.64 335.62M218.2 336.12L218.64 336.12M219.45 336.63L219.45 337.14M218.2 336.63L219.45 336.63M218.2 337.14L219.45 337.14M219.83 335.87L219.83 336.89M218.64 335.87L219.83 335.87M219.45 336.89L219.83 336.89M220.65 335.11L220.65 336.38M218.2 335.11L220.65 335.11M219.83 336.38L220.65 336.38M221.69 333.51L221.69 335.74M220.27 333.51L221.69 333.51M220.65 335.74L221.69 335.74M220.38 337.65L220.38 338.16M218.2 337.65L220.38 337.65M218.2 338.16L220.38 338.16M220.12 338.68L220.12 339.19M218.2 338.68L220.12 338.68M218.2 339.19L220.12 339.19M220.58 338.93L220.58 339.69M220.12 338.93L220.58 338.93M218.2 339.69L220.58 339.69M221.32 337.91L221.32 339.31M220.38 337.91L221.32 337.91M220.58 339.31L221.32 339.31M218.61 341.23L218.61 341.74M218.2 341.23L218.61 341.23M218.2 341.74L218.61 341.74M219.06 340.72L219.06 341.48M218.2 340.72L219.06 340.72M218.61 341.48L219.06 341.48M220.81 340.21L220.81 341.1M218.2 340.21L220.81 340.21M219.06 341.1L220.81 341.1M222.02 338.61L222.02 340.65M221.32 338.61L222.02 338.61M220.81 340.65L222.02 340.65M218.74 342.25L218.74 342.75M218.2 342.25L218.74 342.25M218.2 342.75L218.74 342.75M220.42 342.5L220.42 343.26M218.74 342.5L220.42 342.5M218.2 343.26L220.42 343.26M221.68 342.88L221.68 343.77M220.42 342.88L221.68 342.88M218.2 343.77L221.68 343.77M218.49 344.8L218.49 345.31M218.2 344.8L218.49 344.8M218.2 345.31L218.49 345.31M218.52 344.28L218.52 345.05M218.2 344.28L218.52 344.28M218.49 345.05L218.52 345.05M218.74 345.81L218.74 346.33M218.2 345.81L218.74 345.81M218.2 346.33L218.74 346.33M218.98 344.67L218.98 346.07M218.52 344.67L218.98 344.67M218.74 346.07L218.98 346.07M219.86 346.84L219.86 347.35M218.2 346.84L219.86 346.84M218.2 347.35L219.86 347.35M218.34 347.86L218.34 348.37M218.2 347.86L218.34 347.86M218.2 348.37L218.34 348.37M218.52 348.11L218.52 348.88M218.34 348.11L218.52 348.11M218.2 348.88L218.52 348.88M219.03 348.49L219.03 349.38M218.52 348.49L219.03 348.49M218.2 349.38L219.03 349.38M220.18 347.09L220.18 348.94M219.86 347.09L220.18 347.09M219.03 348.94L220.18 348.94M221.57 345.37L221.57 348.01M218.98 345.37L221.57 345.37M220.18 348.01L221.57 348.01M222.21 343.33L222.21 346.69M221.68 343.33L222.21 343.33M221.57 346.69L222.21 346.69M222.91 339.63L222.91 345.01M222.02 339.63L222.91 339.63M222.21 345.01L222.91 345.01M223.13 334.63L223.13 342.32M221.69 334.63L223.13 334.63M222.91 342.32L223.13 342.32M224.53 329.96L224.53 338.47M223.95 329.96L224.53 329.96M223.13 338.47L224.53 338.47M226.56 303.14L226.56 334.22M222.09 303.14L226.56 303.14M224.53 334.22L226.56 334.22M230.11 270.72L230.11 318.68M229.46 270.72L230.11 270.72M226.56 318.68L230.11 318.68M219.46 350.4L219.46 350.91M218.2 350.4L219.46 350.4M218.2 350.91L219.46 350.91M219.63 349.89L219.63 350.66M218.2 349.89L219.63 349.89M219.46 350.66L219.63 350.66M220.18 351.43L220.18 351.94M218.2 351.43L220.18 351.43M218.2 351.94L220.18 351.94M220.65 350.28L220.65 351.68M219.63 350.28L220.65 350.28M220.18 351.68L220.65 351.68M218.92 352.96L218.92 353.47M218.2 352.96L218.92 352.96M218.2 353.47L218.92 353.47M219.09 352.44L219.09 353.21M218.2 352.44L219.09 352.44M218.92 353.21L219.09 353.21M219.34 352.83L219.34 353.98M219.09 352.83L219.34 352.83M218.2 353.98L219.34 353.98M221.22 350.98L221.22 353.4M220.65 350.98L221.22 350.98M219.34 353.4L221.22 353.4M218.83 354.49L218.83 355M218.2 354.49L218.83 354.49M218.2 355L218.83 355M219.27 354.74L219.27 355.5M218.83 354.74L219.27 354.74M218.2 355.5L219.27 355.5M219.17 356.01L219.17 356.52M218.2 356.01L219.17 356.01M218.2 356.52L219.17 356.52M219.51 357.03L219.51 357.55M218.2 357.03L219.51 357.03M218.2 357.55L219.51 357.55M220.4 356.27L220.4 357.29M219.17 356.27L220.4 356.27M219.51 357.29L220.4 357.29M221.27 355.12L221.27 356.78M219.27 355.12L221.27 355.12M220.4 356.78L221.27 356.78M222.92 352.19L222.92 355.95M221.22 352.19L222.92 352.19M221.27 355.95L222.92 355.95M218.63 358.56L218.63 359.08M218.2 358.56L218.63 358.56M218.2 359.08L218.63 359.08M219.97 358.06L219.97 358.82M218.2 358.06L219.97 358.06M218.63 358.82L219.97 358.82M218.54 360.1L218.54 360.61M218.2 360.1L218.54 360.1M218.2 360.61L218.54 360.61M219.08 360.35L219.08 361.12M218.54 360.35L219.08 360.35M218.2 361.12L219.08 361.12M219.4 359.59L219.4 360.73M218.2 359.59L219.4 359.59M219.08 360.73L219.4 360.73M223.76 358.44L223.76 360.16M219.97 358.44L223.76 358.44M219.4 360.16L223.76 360.16M224.01 354.07L224.01 359.3M222.92 354.07L224.01 354.07M223.76 359.3L224.01 359.3M221.79 361.62L221.79 362.13M218.2 361.62L221.79 361.62M218.2 362.13L221.79 362.13M222.99 361.88L222.99 362.64M221.79 361.88L222.99 361.88M218.2 362.64L222.99 362.64M218.73 363.66L218.73 364.18M218.2 363.66L218.73 363.66M218.2 364.18L218.73 364.18M219.37 363.15L219.37 363.92M218.2 363.15L219.37 363.15M218.73 363.92L219.37 363.92M219.47 364.69L219.47 365.19M218.2 364.69L219.47 364.69M218.2 365.19L219.47 365.19M219.62 364.94L219.62 365.71M219.47 364.94L219.62 364.94M218.2 365.71L219.62 365.71M219.84 365.32L219.84 366.22M219.62 365.32L219.84 365.32M218.2 366.22L219.84 366.22M220.55 363.54L220.55 365.77M219.37 363.54L220.55 363.54M219.84 365.77L220.55 365.77M225.66 362.26L225.66 364.65M222.99 362.26L225.66 362.26M220.55 364.65L225.66 364.65M219.57 367.24L219.57 367.75M218.2 367.24L219.57 367.24M218.2 367.75L219.57 367.75M221.6 366.73L221.6 367.49M218.2 366.73L221.6 366.73M219.57 367.49L221.6 367.49M222.25 368.25L222.25 368.76M218.2 368.25L222.25 368.25M218.2 368.76L222.25 368.76M225.45 367.11L225.45 368.51M221.6 367.11L225.45 367.11M222.25 368.51L225.45 368.51M226.1 363.46L226.1 367.81M225.66 363.46L226.1 363.46M225.45 367.81L226.1 367.81M221.78 369.27L221.78 369.79M218.2 369.27L221.78 369.27M218.2 369.79L221.78 369.79M219.47 370.3L219.47 370.81M218.2 370.3L219.47 370.3M218.2 370.81L219.47 370.81M223.61 369.53L223.61 370.55M221.78 369.53L223.61 369.53M219.47 370.55L223.61 370.55M223.66 371.31L223.66 371.82M218.2 371.31L223.66 371.31M218.2 371.82L223.66 371.82M225.38 371.57L225.38 372.33M223.66 371.57L225.38 371.57M218.2 372.33L225.38 372.33M226.49 370.04L226.49 371.95M223.61 370.04L226.49 370.04M225.38 371.95L226.49 371.95M226.92 365.63L226.92 371M226.1 365.63L226.92 365.63M226.49 371L226.92 371M229.43 356.68L229.43 368.31M224.01 356.68L229.43 356.68M226.92 368.31L229.43 368.31M219.24 372.85L219.24 373.36M218.2 372.85L219.24 372.85M218.2 373.36L219.24 373.36M218.93 373.87L218.93 374.38M218.2 373.87L218.93 373.87M218.2 374.38L218.93 374.38M220.22 373.1L220.22 374.12M219.24 373.1L220.22 373.1M218.93 374.12L220.22 374.12M222.43 374.88L222.43 375.39M218.2 374.88L222.43 374.88M218.2 375.39L222.43 375.39M224.88 373.61L224.88 375.14M220.22 373.61L224.88 373.61M222.43 375.14L224.88 375.14M218.94 375.91L218.94 376.42M218.2 375.91L218.94 375.91M218.2 376.42L218.94 376.42M219.93 376.16L219.93 376.93M218.94 376.16L219.93 376.16M218.2 376.93L219.93 376.93M219.97 377.44L219.97 377.94M218.2 377.44L219.97 377.44M218.2 377.94L219.97 377.94M221.24 376.54L221.24 377.69M219.93 376.54L221.24 376.54M219.97 377.69L221.24 377.69M219.01 378.45L219.01 378.97M218.2 378.45L219.01 378.45M218.2 378.97L219.01 378.97M221.37 379.48L221.37 379.99M218.2 379.48L221.37 379.48M218.2 379.99L221.37 379.99M222.24 378.71L222.24 379.73M219.01 378.71L222.24 378.71M221.37 379.73L222.24 379.73M226.61 377.12L226.61 379.22M221.24 377.12L226.61 377.12M222.24 379.22L226.61 379.22M227.07 374.38L227.07 378.17M224.88 374.38L227.07 374.38M226.61 378.17L227.07 378.17M218.35 381L218.35 381.51M218.2 381L218.35 381M218.2 381.51L218.35 381.51M218.81 380.5L218.81 381.26M218.2 380.5L218.81 380.5M218.35 381.26L218.81 381.26M219.28 380.88L219.28 382.02M218.81 380.88L219.28 380.88M218.2 382.02L219.28 382.02M218.41 382.54L218.41 383.05M218.2 382.54L218.41 382.54M218.2 383.05L218.41 383.05M218.66 382.79L218.66 383.56M218.41 382.79L218.66 382.79M218.2 383.56L218.66 383.56M218.33 384.57L218.33 385.08M218.2 384.57L218.33 384.57M218.2 385.08L218.33 385.08M218.44 384.06L218.44 384.83M218.2 384.06L218.44 384.06M218.33 384.83L218.44 384.83M218.73 383.17L218.73 384.45M218.66 383.17L218.73 383.17M218.44 384.45L218.73 384.45M220.59 381.45L220.59 383.81M219.28 381.45L220.59 381.45M218.73 383.81L220.59 383.81M219.39 386.11L219.39 386.62M218.2 386.11L219.39 386.11M218.2 386.62L219.39 386.62M219.69 385.6L219.69 386.36M218.2 385.6L219.69 385.6M219.39 386.36L219.69 386.36M218.76 387.12L218.76 387.63M218.2 387.12L218.76 387.12M218.2 387.63L218.76 387.63M220.3 385.98L220.3 387.38M219.69 385.98L220.3 385.98M218.76 387.38L220.3 387.38M219.14 388.14L219.14 388.66M218.2 388.14L219.14 388.14M218.2 388.66L219.14 388.66M219.26 389.17L219.26 389.68M218.2 389.17L219.26 389.17M218.2 389.68L219.26 389.68M219.45 388.4L219.45 389.42M219.14 388.4L219.45 388.4M219.26 389.42L219.45 389.42M218.37 390.19L218.37 390.69M218.2 390.19L218.37 390.19M218.2 390.69L218.37 390.69M218.61 390.44L218.61 391.2M218.37 390.44L218.61 390.44M218.2 391.2L218.61 391.2M219.74 388.91L219.74 390.82M219.45 388.91L219.74 388.91M218.61 390.82L219.74 390.82M218.61 392.23L218.61 392.74M218.2 392.23L218.61 392.23M218.2 392.74L218.61 392.74M219.96 391.72L219.96 392.48M218.2 391.72L219.96 391.72M218.61 392.48L219.96 392.48M220.9 389.87L220.9 392.1M219.74 389.87L220.9 389.87M219.96 392.1L220.9 392.1M221.35 386.68L221.35 390.98M220.3 386.68L221.35 386.68M220.9 390.98L221.35 390.98M222.17 382.63L222.17 388.83M220.59 382.63L222.17 382.63M221.35 388.83L222.17 388.83M219.26 393.25L219.26 393.75M218.2 393.25L219.26 393.25M218.2 393.75L219.26 393.75M219.87 393.5L219.87 394.26M219.26 393.5L219.87 393.5M218.2 394.26L219.87 394.26M219.3 394.77L219.3 395.29M218.2 394.77L219.3 394.77M218.2 395.29L219.3 395.29M218.41 395.8L218.41 396.31M218.2 395.8L218.41 395.8M218.2 396.31L218.41 396.31M218.55 397.32L218.55 397.83M218.2 397.32L218.55 397.32M218.2 397.83L218.55 397.83M218.84 396.81L218.84 397.58M218.2 396.81L218.84 396.81M218.55 397.58L218.84 397.58M219.1 396.05L219.1 397.2M218.41 396.05L219.1 396.05M218.84 397.2L219.1 397.2M221.99 395.03L221.99 396.62M219.3 395.03L221.99 395.03M219.1 396.62L221.99 396.62M225.36 393.88L225.36 395.83M219.87 393.88L225.36 393.88M221.99 395.83L225.36 395.83M225.82 385.73L225.82 394.85M222.17 385.73L225.82 385.73M225.36 394.85L225.82 394.85M227.89 376.27L227.89 390.29M227.07 376.27L227.89 376.27M225.82 390.29L227.89 390.29M237.24 362.5L237.24 383.28M229.43 362.5L237.24 362.5M227.89 383.28L237.24 383.28M242.8 294.7L242.8 372.89M230.11 294.7L242.8 294.7M237.24 372.89L242.8 372.89M248.2 235.01L248.2 333.79M236.5 235.01L248.2 235.01M242.8 333.79L248.2 333.79M253 203.48L253 284.4M241.5 203.48L253 203.48M248.2 284.4L253 284.4M255.4 157.19L255.4 243.94M252.7 157.19L255.4 157.19M253 243.94L255.4 243.94M260.6 200.57L260.6 398.35M255.4 200.57L260.6 200.57M218.2 398.35L260.6 398.35" stroke="#000" stroke-width="0.85" fill="none"/>
<rect x="308" y="23" width="340" height="30.3" fill="#9361A4"/>
<text x="311.3" y="64.6" font-size="11.6">Berzosertib</text>
<text x="386.1" y="64.6" font-size="11.6">ATM /ATR</text>
<text x="488.6" y="64.6" font-size="11.6">0.0086</text>
<text x="539.3" y="64.6" font-size="11.6">-1.474</text>
<rect x="308" y="68.4" width="340" height="15.1" fill="#9361A4"/>
<text x="311.3" y="79.7" font-size="11.6" fill="#EADCF0">Rabusertib</text>
<text x="386.1" y="79.7" font-size="11.6" fill="#EADCF0">Checkpoint Kinase</text>
<text x="488.6" y="79.7" font-size="11.6" fill="#EADCF0">0.0144</text>
<text x="539.3" y="79.7" font-size="11.6" fill="#EADCF0">-1.410</text>
<text x="311.3" y="94.8" font-size="11.6">Apaziquone</text>
<text x="386.1" y="94.8" font-size="11.6">Drug Intermediate</text>
<text x="488.6" y="94.8" font-size="11.6">0.0304</text>
<text x="539.3" y="94.8" font-size="11.6">-1.492</text>
<rect x="308" y="98.6" width="340" height="15.1" fill="#9361A4"/>
<text x="311.3" y="109.9" font-size="11.6" fill="#EADCF0">GSK923295</text>
<text x="386.1" y="109.9" font-size="11.6" fill="#EADCF0">Kinesin</text>
<text x="488.6" y="109.9" font-size="11.6" fill="#EADCF0">0.0401</text>
<text x="539.3" y="109.9" font-size="11.6" fill="#EADCF0">-1.405</text>
<text x="311.3" y="125" font-size="11.6">Verteporfin</text>
<text x="386.1" y="125" font-size="11.6">Yap</text>
<text x="488.6" y="125" font-size="11.6">0.0405</text>
<text x="539.3" y="125" font-size="11.6">-1.409</text>
<rect x="308" y="128.8" width="340" height="15.1" fill="#9361A4"/>
<text x="311.3" y="140.1" font-size="11.6" fill="#EADCF0">VLX1570</text>
<text x="386.1" y="140.1" font-size="11.6" fill="#EADCF0">Deubiquitinase</text>
<text x="488.6" y="140.1" font-size="11.6" fill="#EADCF0">0.0434</text>
<text x="539.3" y="140.1" font-size="11.6" fill="#EADCF0">-1.412</text>
<line x1="308" y1="53.3" x2="648" y2="53.3" stroke="#3a3a3a" stroke-width="1"/>
<line x1="308" y1="68.4" x2="648" y2="68.4" stroke="#3a3a3a" stroke-width="1"/>
<line x1="308" y1="83.5" x2="648" y2="83.5" stroke="#3a3a3a" stroke-width="1"/>
<line x1="308" y1="98.6" x2="648" y2="98.6" stroke="#3a3a3a" stroke-width="1"/>
<line x1="308" y1="113.7" x2="648" y2="113.7" stroke="#3a3a3a" stroke-width="1"/>
<line x1="308" y1="128.8" x2="648" y2="128.8" stroke="#3a3a3a" stroke-width="1"/>
<line x1="308" y1="143.9" x2="648" y2="143.9" stroke="#3a3a3a" stroke-width="1"/>
<text x="311.3" y="48.3" font-size="11.6" font-weight="bold" fill="#F6EEF8">Compound</text>
<text x="386.1" y="48.3" font-size="11.6" font-weight="bold" fill="#F6EEF8">Target</text>
<text x="488.6" y="48.3" font-size="11.6" font-weight="bold" fill="#F6EEF8">p-value</text>
<text x="539.3" y="34.6" font-size="11.6" font-weight="bold" fill="#F6EEF8">Fold Change</text>
<text x="539.3" y="48.3" font-size="11.6" font-weight="bold" fill="#F6EEF8">(Sensitive/Resitant)</text>
<text x="364.5" y="198" font-size="12.9" font-weight="bold" text-anchor="middle">Berzosertib</text>
<text x="367.5" y="216.2" font-size="11.3" text-anchor="middle">p=0.009</text>
<line x1="318.8" y1="215.1" x2="318.8" y2="353.1" stroke="#000" stroke-width="2"/>
<line x1="317.8" y1="352.1" x2="411" y2="352.1" stroke="#000" stroke-width="2"/>
<line x1="312.3" y1="352.1" x2="318.8" y2="352.1" stroke="#000" stroke-width="1.6"/>
<text x="311.4" y="355.7" font-size="10" font-weight="bold" text-anchor="end">0.4</text>
<line x1="312.3" y1="324.9" x2="318.8" y2="324.9" stroke="#000" stroke-width="1.6"/>
<text x="311.4" y="328.5" font-size="10" font-weight="bold" text-anchor="end">0.5</text>
<line x1="312.3" y1="297.7" x2="318.8" y2="297.7" stroke="#000" stroke-width="1.6"/>
<text x="311.4" y="301.3" font-size="10" font-weight="bold" text-anchor="end">0.6</text>
<line x1="312.3" y1="270.5" x2="318.8" y2="270.5" stroke="#000" stroke-width="1.6"/>
<text x="311.4" y="274.1" font-size="10" font-weight="bold" text-anchor="end">0.7</text>
<line x1="312.3" y1="243.3" x2="318.8" y2="243.3" stroke="#000" stroke-width="1.6"/>
<text x="311.4" y="246.9" font-size="10" font-weight="bold" text-anchor="end">0.8</text>
<line x1="312.3" y1="216.1" x2="318.8" y2="216.1" stroke="#000" stroke-width="1.6"/>
<text x="311.4" y="219.7" font-size="10" font-weight="bold" text-anchor="end">0.9</text>
<line x1="344.4" y1="352.1" x2="344.4" y2="357.8" stroke="#000" stroke-width="1.6"/>
<line x1="383.6" y1="352.1" x2="383.6" y2="357.8" stroke="#000" stroke-width="1.6"/>
<text transform="translate(291.6 283.5) rotate(-90)" font-size="11" font-weight="bold" text-anchor="middle">AUC</text>
<text transform="translate(346.6 368.4) rotate(-45)" font-size="9.9" font-weight="bold" text-anchor="end">Sensitive</text>
<text transform="translate(386 368.6) rotate(-45)" font-size="9.9" font-weight="bold" text-anchor="end">Resistant</text>
<line x1="344.4" y1="281.11" x2="344.4" y2="344.76" stroke="#222" stroke-width="1"/>
<line x1="338.6" y1="281.11" x2="350.2" y2="281.11" stroke="#222" stroke-width="1"/>
<line x1="338.6" y1="344.76" x2="350.2" y2="344.76" stroke="#222" stroke-width="1"/>
<line x1="331.2" y1="312.93" x2="357.8" y2="312.93" stroke="#000" stroke-width="1.8"/>
<rect x="341.5" y="280.11" width="5.8" height="5.8" fill="#7A2FA6"/>
<circle cx="344.4" cy="309.67" r="3" fill="#7A2FA6"/>
<path d="M344.4 342.67L347.7 348.67L341.1 348.67Z" fill="#7A2FA6"/>
<text x="342.4" y="279.81" font-size="8.8" text-anchor="end" fill="#222">0.654</text>
<text x="342.4" y="307.87" font-size="8.8" text-anchor="end" fill="#222">0.556</text>
<text x="342.4" y="340.12" font-size="8.8" text-anchor="end" fill="#222">0.422</text>
<line x1="383.4" y1="231.6" x2="383.4" y2="254.18" stroke="#222" stroke-width="1"/>
<line x1="376.4" y1="231.6" x2="390.6" y2="231.6" stroke="#222" stroke-width="1"/>
<line x1="376.4" y1="254.18" x2="390.6" y2="254.18" stroke="#222" stroke-width="1"/>
<line x1="370" y1="243.03" x2="397" y2="243.03" stroke="#000" stroke-width="1.8"/>
<circle cx="383.4" cy="226.98" r="2.9" fill="#EE8630"/>
<path d="M383.4 239.53L384.22 241.9L386.73 241.95L384.73 243.46L385.46 245.86L383.4 244.43L381.34 245.86L382.07 243.46L380.07 241.95L382.58 241.9Z" fill="#EE8630"/>
<path d="M373.2 256.3L376.28 250.7L370.12 250.7Z" fill="#EE8630"/>
<path d="M393.8 247.33L396.8 250.33L393.8 253.33L390.8 250.33Z" fill="#EE8630"/>
<text x="377.5" y="229.98" font-size="8.8" text-anchor="end" fill="#222">0.860</text>
<text x="368.6" y="246.03" font-size="8.8" text-anchor="end" fill="#222">0.801</text>
<text x="369.8" y="257.78" font-size="8.8" text-anchor="end" fill="#222">0.767</text>
<text x="382.2" y="264.03" font-size="8.8" fill="#222">0.776</text>
<circle cx="362.6" cy="293.1" r="2.5" fill="#7A2FA6"/>
<text x="366" y="295.9" font-size="8.3" fill="#222">SU-DIPG-17</text>
<rect x="360.1" y="299.22" width="5" height="5" fill="#7A2FA6"/>
<text x="366" y="304.52" font-size="8.3" fill="#222">SU-DIPG-19</text>
<path d="M362.6 307.46L365.35 312.46L359.85 312.46Z" fill="#7A2FA6"/>
<text x="366" y="313.14" font-size="8.3" fill="#222">SU-DIPG-33</text>
<path d="M362.6 321.83L365.35 316.83L359.85 316.83Z" fill="#EE8630"/>
<text x="366" y="321.76" font-size="8.3" fill="#222">DIPG-CNMC</text>
<path d="M362.6 324.58L365.6 327.58L362.6 330.58L359.6 327.58Z" fill="#EE8630"/>
<text x="366" y="330.38" font-size="8.3" fill="#222">SU-DIPG-24</text>
<circle cx="362.6" cy="336.2" r="2.5" fill="#EE8630"/>
<text x="366" y="339" font-size="8.3" fill="#222">SU-DIPG-25</text>
<path d="M362.6 342.19L363.22 343.97L365.1 344.01L363.6 345.14L364.14 346.94L362.6 345.87L361.06 346.94L361.6 345.14L360.1 344.01L361.98 343.97Z" fill="#EE8630"/>
<text x="366" y="347.62" font-size="8.3" fill="#222">DRIz</text>
<text x="562.5" y="197" font-size="12.9" font-weight="bold" text-anchor="middle">Berzosertib</text>
<line x1="459.2" y1="214.3" x2="459.2" y2="353.1" stroke="#000" stroke-width="2"/>
<line x1="458.2" y1="352.1" x2="664.3" y2="352.1" stroke="#000" stroke-width="2"/>
<line x1="453" y1="352.1" x2="459.2" y2="352.1" stroke="#000" stroke-width="1.7"/>
<text x="451.4" y="356" font-size="10.2" font-weight="bold" text-anchor="end">0</text>
<line x1="453" y1="327.28" x2="459.2" y2="327.28" stroke="#000" stroke-width="1.7"/>
<text x="451.4" y="331.18" font-size="10.2" font-weight="bold" text-anchor="end">20</text>
<line x1="453" y1="302.46" x2="459.2" y2="302.46" stroke="#000" stroke-width="1.7"/>
<text x="451.4" y="306.36" font-size="10.2" font-weight="bold" text-anchor="end">40</text>
<line x1="453" y1="277.64" x2="459.2" y2="277.64" stroke="#000" stroke-width="1.7"/>
<text x="451.4" y="281.54" font-size="10.2" font-weight="bold" text-anchor="end">60</text>
<line x1="453" y1="252.82" x2="459.2" y2="252.82" stroke="#000" stroke-width="1.7"/>
<text x="451.4" y="256.72" font-size="10.2" font-weight="bold" text-anchor="end">80</text>
<line x1="453" y1="228" x2="459.2" y2="228" stroke="#000" stroke-width="1.7"/>
<text x="451.4" y="231.9" font-size="10.2" font-weight="bold" text-anchor="end">100</text>
<line x1="459.2" y1="352.1" x2="459.2" y2="357.6" stroke="#000" stroke-width="1.6"/>
<text x="459.5" y="370" font-size="10" font-weight="bold" text-anchor="middle">10</text>
<line x1="510.3" y1="352.1" x2="510.3" y2="357.6" stroke="#000" stroke-width="1.6"/>
<text x="510.6" y="370" font-size="10" font-weight="bold" text-anchor="middle">100</text>
<line x1="561.4" y1="352.1" x2="561.4" y2="357.6" stroke="#000" stroke-width="1.6"/>
<text x="561.7" y="370" font-size="10" font-weight="bold" text-anchor="middle">1000</text>
<line x1="612.5" y1="352.1" x2="612.5" y2="357.6" stroke="#000" stroke-width="1.6"/>
<text x="612.8" y="370" font-size="10" font-weight="bold" text-anchor="middle">10000</text>
<line x1="663.6" y1="352.1" x2="663.6" y2="357.6" stroke="#000" stroke-width="1.6"/>
<text x="663.9" y="370" font-size="10" font-weight="bold" text-anchor="middle">100000</text>
<text x="561.8" y="386.9" font-size="11.5" font-weight="bold" text-anchor="middle">Concentration [nM]</text>
<text transform="translate(427.8 283.8) rotate(-90)" font-size="11.45" font-weight="bold" text-anchor="middle">Percent Viability</text>
<path d="M484.73 223.04L484.94 223.04L485.14 223.04L485.35 223.04L485.55 223.04L485.76 223.04L485.96 223.04L486.16 223.04L486.37 223.04L486.57 223.04L486.78 223.04L486.98 223.04L487.19 223.04L487.39 223.04L487.6 223.04L487.8 223.04L488 223.04L488.21 223.04L488.41 223.04L488.62 223.04L488.82 223.04L489.03 223.04L489.23 223.04L489.44 223.04L489.64 223.04L489.84 223.04L490.05 223.04L490.25 223.04L490.46 223.04L490.66 223.04L490.87 223.04L491.07 223.04L491.27 223.04L491.48 223.04L491.68 223.04L491.89 223.04L492.09 223.04L492.3 223.04L492.5 223.04L492.71 223.04L492.91 223.04L493.11 223.04L493.32 223.04L493.52 223.04L493.73 223.04L493.93 223.04L494.14 223.04L494.34 223.04L494.55 223.04L494.75 223.04L494.95 223.04L495.16 223.04L495.36 223.04L495.57 223.04L495.77 223.04L495.98 223.04L496.18 223.04L496.38 223.04L496.59 223.04L496.79 223.04L497 223.04L497.2 223.04L497.41 223.04L497.61 223.04L497.82 223.04L498.02 223.04L498.22 223.04L498.43 223.04L498.63 223.04L498.84 223.04L499.04 223.04L499.25 223.04L499.45 223.04L499.66 223.04L499.86 223.04L500.06 223.04L500.27 223.04L500.47 223.04L500.68 223.04L500.88 223.04L501.09 223.04L501.29 223.04L501.49 223.04L501.7 223.04L501.9 223.04L502.11 223.04L502.31 223.04L502.52 223.04L502.72 223.04L502.93 223.04L503.13 223.04L503.33 223.04L503.54 223.04L503.74 223.04L503.95 223.04L504.15 223.04L504.36 223.04L504.56 223.04L504.77 223.04L504.97 223.04L505.17 223.04L505.38 223.04L505.58 223.04L505.79 223.04L505.99 223.04L506.2 223.04L506.4 223.04L506.6 223.04L506.81 223.04L507.01 223.04L507.22 223.04L507.42 223.04L507.63 223.04L507.83 223.04L508.04 223.04L508.24 223.04L508.44 223.04L508.65 223.04L508.85 223.04L509.06 223.04L509.26 223.04L509.47 223.04L509.67 223.04L509.88 223.04L510.08 223.04L510.28 223.04L510.49 223.04L510.69 223.04L510.9 223.04L511.1 223.04L511.31 223.04L511.51 223.04L511.71 223.04L511.92 223.04L512.12 223.04L512.33 223.04L512.53 223.04L512.74 223.04L512.94 223.04L513.15 223.04L513.35 223.04L513.55 223.04L513.76 223.04L513.96 223.04L514.17 223.04L514.37 223.04L514.58 223.04L514.78 223.04L514.99 223.04L515.19 223.04L515.39 223.04L515.6 223.04L515.8 223.04L516.01 223.04L516.21 223.04L516.42 223.04L516.62 223.04L516.82 223.04L517.03 223.04L517.23 223.04L517.44 223.04L517.64 223.04L517.85 223.04L518.05 223.04L518.26 223.04L518.46 223.04L518.66 223.04L518.87 223.04L519.07 223.04L519.28 223.04L519.48 223.04L519.69 223.04L519.89 223.04L520.1 223.04L520.3 223.04L520.5 223.04L520.71 223.04L520.91 223.04L521.12 223.04L521.32 223.04L521.53 223.04L521.73 223.04L521.93 223.04L522.14 223.04L522.34 223.04L522.55 223.04L522.75 223.04L522.96 223.04L523.16 223.04L523.37 223.04L523.57 223.04L523.77 223.04L523.98 223.04L524.18 223.04L524.39 223.04L524.59 223.04L524.8 223.04L525 223.04L525.21 223.04L525.41 223.04L525.61 223.04L525.82 223.04L526.02 223.04L526.23 223.04L526.43 223.04L526.64 223.04L526.84 223.04L527.04 223.04L527.25 223.04L527.45 223.04L527.66 223.04L527.86 223.04L528.07 223.04L528.27 223.04L528.48 223.04L528.68 223.04L528.88 223.04L529.09 223.04L529.29 223.04L529.5 223.04L529.7 223.04L529.91 223.04L530.11 223.04L530.32 223.04L530.52 223.04L530.72 223.04L530.93 223.04L531.13 223.04L531.34 223.04L531.54 223.04L531.75 223.04L531.95 223.04L532.15 223.04L532.36 223.04L532.56 223.04L532.77 223.04L532.97 223.04L533.18 223.04L533.38 223.04L533.59 223.04L533.79 223.04L533.99 223.04L534.2 223.04L534.4 223.04L534.61 223.04L534.81 223.04L535.02 223.04L535.22 223.04L535.43 223.04L535.63 223.04L535.83 223.04L536.04 223.04L536.24 223.04L536.45 223.04L536.65 223.04L536.86 223.04L537.06 223.04L537.26 223.04L537.47 223.04L537.67 223.04L537.88 223.04L538.08 223.04L538.29 223.04L538.49 223.04L538.7 223.04L538.9 223.04L539.1 223.04L539.31 223.04L539.51 223.04L539.72 223.04L539.92 223.04L540.13 223.04L540.33 223.04L540.54 223.04L540.74 223.04L540.94 223.04L541.15 223.04L541.35 223.04L541.56 223.04L541.76 223.04L541.97 223.04L542.17 223.04L542.37 223.04L542.58 223.04L542.78 223.04L542.99 223.04L543.19 223.04L543.4 223.04L543.6 223.04L543.81 223.04L544.01 223.04L544.21 223.04L544.42 223.04L544.62 223.04L544.83 223.04L545.03 223.04L545.24 223.04L545.44 223.04L545.65 223.04L545.85 223.04L546.05 223.04L546.26 223.04L546.46 223.04L546.67 223.04L546.87 223.04L547.08 223.04L547.28 223.04L547.48 223.04L547.69 223.04L547.89 223.04L548.1 223.04L548.3 223.04L548.51 223.04L548.71 223.04L548.92 223.04L549.12 223.04L549.32 223.04L549.53 223.04L549.73 223.04L549.94 223.04L550.14 223.04L550.35 223.04L550.55 223.04L550.76 223.04L550.96 223.04L551.16 223.04L551.37 223.04L551.57 223.04L551.78 223.04L551.98 223.04L552.19 223.04L552.39 223.04L552.59 223.04L552.8 223.04L553 223.04L553.21 223.04L553.41 223.04L553.62 223.04L553.82 223.04L554.03 223.04L554.23 223.04L554.43 223.04L554.64 223.04L554.84 223.04L555.05 223.04L555.25 223.04L555.46 223.04L555.66 223.04L555.87 223.04L556.07 223.04L556.27 223.04L556.48 223.04L556.68 223.04L556.89 223.04L557.09 223.04L557.3 223.04L557.5 223.04L557.7 223.04L557.91 223.04L558.11 223.04L558.32 223.04L558.52 223.04L558.73 223.04L558.93 223.04L559.14 223.04L559.34 223.04L559.54 223.04L559.75 223.04L559.95 223.04L560.16 223.04L560.36 223.04L560.57 223.04L560.77 223.04L560.98 223.04L561.18 223.04L561.38 223.04L561.59 223.04L561.79 223.04L562 223.04L562.2 223.04L562.41 223.04L562.61 223.04L562.81 223.04L563.02 223.04L563.22 223.04L563.43 223.04L563.63 223.04L563.84 223.04L564.04 223.04L564.25 223.04L564.45 223.04L564.65 223.04L564.86 223.04L565.06 223.04L565.27 223.04L565.47 223.04L565.68 223.04L565.88 223.04L566.09 223.04L566.29 223.04L566.49 223.04L566.7 223.04L566.9 223.04L567.11 223.04L567.31 223.04L567.52 223.04L567.72 223.04L567.92 223.04L568.13 223.04L568.33 223.04L568.54 223.04L568.74 223.04L568.95 223.04L569.15 223.04L569.36 223.04L569.56 223.04L569.76 223.04L569.97 223.04L570.17 223.04L570.38 223.04L570.58 223.04L570.79 223.04L570.99 223.04L571.2 223.04L571.4 223.04L571.6 223.04L571.81 223.04L572.01 223.04L572.22 223.04L572.42 223.04L572.63 223.04L572.83 223.04L573.03 223.04L573.24 223.04L573.44 223.04L573.65 223.04L573.85 223.04L574.06 223.04L574.26 223.04L574.47 223.04L574.67 223.04L574.87 223.04L575.08 223.04L575.28 223.04L575.49 223.04L575.69 223.04L575.9 223.04L576.1 223.04L576.31 223.04L576.51 223.04L576.71 223.04L576.92 223.04L577.12 223.04L577.33 223.04L577.53 223.04L577.74 223.04L577.94 223.04L578.14 223.04L578.35 223.04L578.55 223.04L578.76 223.04L578.96 223.04L579.17 223.04L579.37 223.04L579.58 223.04L579.78 223.04L579.98 223.04L580.19 223.04L580.39 223.04L580.6 223.04L580.8 223.04L581.01 223.04L581.21 223.04L581.42 223.04L581.62 223.04L581.82 223.04L582.03 223.04L582.23 223.04L582.44 223.04L582.64 223.04L582.85 223.04L583.05 223.04L583.25 223.04L583.46 223.04L583.66 223.04L583.87 223.04L584.07 223.04L584.28 223.04L584.48 223.04L584.69 223.04L584.89 223.04L585.09 223.04L585.3 223.04L585.5 223.04L585.71 223.04L585.91 223.04L586.12 223.04L586.32 223.04L586.53 223.04L586.73 223.04L586.93 223.04L587.14 223.04L587.34 223.04L587.55 223.04L587.75 223.04L587.96 223.04L588.16 223.04L588.36 223.04L588.57 223.04L588.77 223.04L588.98 223.04L589.18 223.04L589.39 223.04L589.59 223.04L589.8 223.04L590 223.04L590.2 223.04L590.41 223.04L590.61 223.04L590.82 223.04L591.02 223.04L591.23 223.04L591.43 223.04L591.64 223.04L591.84 223.04L592.04 223.04L592.25 223.04L592.45 223.04L592.66 223.04L592.86 223.04L593.07 223.04L593.27 223.04L593.47 223.04L593.68 223.04L593.88 223.04L594.09 223.04L594.29 223.04L594.5 223.04L594.7 223.04L594.91 223.04L595.11 223.04L595.31 223.04L595.52 223.04L595.72 223.04L595.93 223.04L596.13 223.04L596.34 223.04L596.54 223.04L596.75 223.04L596.95 223.04L597.15 223.04L597.36 223.04L597.56 223.04L597.77 223.04L597.97 223.04L598.18 223.04L598.38 223.04L598.58 223.04L598.79 223.04L598.99 223.04L599.2 223.05L599.4 223.05L599.61 223.05L599.81 223.05L600.02 223.06L600.22 223.06L600.42 223.06L600.63 223.07L600.83 223.08L601.04 223.08L601.24 223.09L601.45 223.1L601.65 223.12L601.86 223.13L602.06 223.15L602.26 223.17L602.47 223.2L602.67 223.23L602.88 223.26L603.08 223.31L603.29 223.36L603.49 223.42L603.69 223.49L603.9 223.58L604.1 223.68L604.31 223.8L604.51 223.95L604.72 224.12L604.92 224.33L605.13 224.57L605.33 224.86L605.53 225.2L605.74 225.6L605.94 226.07L606.15 226.63L606.35 227.29L606.56 228.06L606.76 228.96L606.97 230L607.17 231.22L607.37 232.62L607.58 234.24L607.78 236.08L607.99 238.18L608.19 240.53L608.4 243.16L608.6 246.07L608.8 249.25L609.01 252.68L609.21 256.34L609.42 260.19L609.62 264.18L609.83 268.26L610.03 272.37L610.24 276.44L610.44 280.41L610.64 284.24L610.85 287.86L611.05 291.26L611.26 294.4L611.46 297.26L611.67 299.85L611.87 302.17L612.08 304.22L612.28 306.03L612.48 307.61L612.69 308.99L612.89 310.18L613.1 311.2L613.3 312.08L613.51 312.83L613.71 313.47L613.91 314.02L614.12 314.48L614.32 314.87L614.53 315.21L614.73 315.49L614.94 315.72L615.14 315.92L615.35 316.09L615.55 316.23L615.75 316.35L615.96 316.45L616.16 316.54L616.37 316.61L616.57 316.67L616.78 316.72L616.98 316.76L617.19 316.79L617.39 316.82L617.59 316.85L617.8 316.87L618 316.89L618.21 316.9L618.41 316.91L618.62 316.93L618.82 316.93L619.02 316.94L619.23 316.95L619.43 316.95L619.64 316.96L619.84 316.96L620.05 316.96L620.25 316.97L620.46 316.97L620.66 316.97L620.86 316.97L621.07 316.97L621.27 316.97L621.48 316.97L621.68 316.98L621.89 316.98L622.09 316.98L622.3 316.98L622.5 316.98L622.7 316.98L622.91 316.98L623.11 316.98L623.32 316.98L623.52 316.98L623.73 316.98L623.93 316.98L624.13 316.98L624.34 316.98L624.54 316.98L624.75 316.98L624.95 316.98L625.16 316.98L625.36 316.98L625.57 316.98L625.77 316.98L625.97 316.98L626.18 316.98L626.38 316.98L626.59 316.98L626.79 316.98L627 316.98L627.2 316.98L627.41 316.98L627.61 316.98L627.81 316.98L628.02 316.98L628.22 316.98L628.43 316.98L628.63 316.98L628.84 316.98L629.04 316.98L629.24 316.98L629.45 316.98L629.65 316.98L629.86 316.98L630.06 316.98L630.27 316.98L630.47 316.98L630.68 316.98L630.88 316.98L631.08 316.98L631.29 316.98L631.49 316.98L631.7 316.98L631.9 316.98L632.11 316.98L632.31 316.98L632.52 316.98L632.72 316.98L632.92 316.98L633.13 316.98" stroke="#EE8630" stroke-width="1.6" fill="none"/>
<path d="M484.73 225.27L484.94 225.27L485.14 225.27L485.35 225.27L485.55 225.27L485.76 225.27L485.96 225.27L486.16 225.27L486.37 225.27L486.57 225.27L486.78 225.27L486.98 225.27L487.19 225.27L487.39 225.27L487.6 225.27L487.8 225.27L488 225.27L488.21 225.27L488.41 225.27L488.62 225.27L488.82 225.27L489.03 225.27L489.23 225.27L489.44 225.27L489.64 225.27L489.84 225.27L490.05 225.27L490.25 225.27L490.46 225.27L490.66 225.27L490.87 225.27L491.07 225.27L491.27 225.27L491.48 225.27L491.68 225.27L491.89 225.27L492.09 225.27L492.3 225.27L492.5 225.27L492.71 225.27L492.91 225.27L493.11 225.27L493.32 225.27L493.52 225.27L493.73 225.27L493.93 225.27L494.14 225.27L494.34 225.27L494.55 225.27L494.75 225.27L494.95 225.27L495.16 225.27L495.36 225.27L495.57 225.27L495.77 225.27L495.98 225.27L496.18 225.27L496.38 225.27L496.59 225.27L496.79 225.27L497 225.27L497.2 225.27L497.41 225.27L497.61 225.27L497.82 225.27L498.02 225.27L498.22 225.27L498.43 225.27L498.63 225.27L498.84 225.27L499.04 225.27L499.25 225.27L499.45 225.27L499.66 225.27L499.86 225.27L500.06 225.27L500.27 225.27L500.47 225.27L500.68 225.27L500.88 225.27L501.09 225.27L501.29 225.27L501.49 225.27L501.7 225.27L501.9 225.27L502.11 225.27L502.31 225.27L502.52 225.27L502.72 225.27L502.93 225.27L503.13 225.27L503.33 225.27L503.54 225.27L503.74 225.27L503.95 225.27L504.15 225.27L504.36 225.27L504.56 225.27L504.77 225.27L504.97 225.27L505.17 225.27L505.38 225.27L505.58 225.27L505.79 225.27L505.99 225.27L506.2 225.27L506.4 225.27L506.6 225.27L506.81 225.27L507.01 225.27L507.22 225.27L507.42 225.27L507.63 225.27L507.83 225.27L508.04 225.27L508.24 225.27L508.44 225.27L508.65 225.27L508.85 225.27L509.06 225.27L509.26 225.27L509.47 225.27L509.67 225.27L509.88 225.27L510.08 225.27L510.28 225.27L510.49 225.27L510.69 225.27L510.9 225.27L511.1 225.27L511.31 225.27L511.51 225.27L511.71 225.27L511.92 225.27L512.12 225.27L512.33 225.27L512.53 225.27L512.74 225.27L512.94 225.27L513.15 225.27L513.35 225.27L513.55 225.27L513.76 225.27L513.96 225.27L514.17 225.27L514.37 225.27L514.58 225.27L514.78 225.27L514.99 225.27L515.19 225.27L515.39 225.27L515.6 225.27L515.8 225.27L516.01 225.27L516.21 225.27L516.42 225.27L516.62 225.27L516.82 225.27L517.03 225.27L517.23 225.27L517.44 225.27L517.64 225.27L517.85 225.27L518.05 225.27L518.26 225.27L518.46 225.27L518.66 225.27L518.87 225.27L519.07 225.27L519.28 225.27L519.48 225.27L519.69 225.27L519.89 225.27L520.1 225.27L520.3 225.27L520.5 225.27L520.71 225.27L520.91 225.27L521.12 225.27L521.32 225.27L521.53 225.27L521.73 225.27L521.93 225.27L522.14 225.27L522.34 225.27L522.55 225.27L522.75 225.27L522.96 225.27L523.16 225.27L523.37 225.27L523.57 225.27L523.77 225.27L523.98 225.27L524.18 225.27L524.39 225.27L524.59 225.27L524.8 225.27L525 225.27L525.21 225.27L525.41 225.27L525.61 225.27L525.82 225.27L526.02 225.27L526.23 225.27L526.43 225.27L526.64 225.27L526.84 225.27L527.04 225.27L527.25 225.27L527.45 225.27L527.66 225.27L527.86 225.27L528.07 225.27L528.27 225.27L528.48 225.27L528.68 225.27L528.88 225.27L529.09 225.27L529.29 225.27L529.5 225.27L529.7 225.27L529.91 225.27L530.11 225.27L530.32 225.27L530.52 225.27L530.72 225.27L530.93 225.27L531.13 225.27L531.34 225.27L531.54 225.27L531.75 225.27L531.95 225.27L532.15 225.27L532.36 225.27L532.56 225.27L532.77 225.27L532.97 225.27L533.18 225.27L533.38 225.27L533.59 225.27L533.79 225.27L533.99 225.27L534.2 225.27L534.4 225.27L534.61 225.27L534.81 225.27L535.02 225.27L535.22 225.27L535.43 225.27L535.63 225.27L535.83 225.27L536.04 225.27L536.24 225.27L536.45 225.27L536.65 225.27L536.86 225.27L537.06 225.27L537.26 225.27L537.47 225.27L537.67 225.27L537.88 225.27L538.08 225.27L538.29 225.27L538.49 225.27L538.7 225.27L538.9 225.27L539.1 225.27L539.31 225.27L539.51 225.27L539.72 225.27L539.92 225.27L540.13 225.27L540.33 225.27L540.54 225.27L540.74 225.27L540.94 225.27L541.15 225.27L541.35 225.27L541.56 225.27L541.76 225.27L541.97 225.27L542.17 225.27L542.37 225.27L542.58 225.27L542.78 225.27L542.99 225.27L543.19 225.27L543.4 225.27L543.6 225.27L543.81 225.27L544.01 225.27L544.21 225.27L544.42 225.27L544.62 225.27L544.83 225.27L545.03 225.27L545.24 225.27L545.44 225.27L545.65 225.27L545.85 225.27L546.05 225.27L546.26 225.27L546.46 225.27L546.67 225.27L546.87 225.27L547.08 225.27L547.28 225.27L547.48 225.27L547.69 225.27L547.89 225.27L548.1 225.27L548.3 225.27L548.51 225.27L548.71 225.27L548.92 225.27L549.12 225.27L549.32 225.27L549.53 225.27L549.73 225.27L549.94 225.27L550.14 225.27L550.35 225.27L550.55 225.27L550.76 225.27L550.96 225.27L551.16 225.27L551.37 225.27L551.57 225.27L551.78 225.27L551.98 225.27L552.19 225.27L552.39 225.27L552.59 225.27L552.8 225.27L553 225.27L553.21 225.27L553.41 225.27L553.62 225.27L553.82 225.27L554.03 225.27L554.23 225.27L554.43 225.27L554.64 225.27L554.84 225.27L555.05 225.27L555.25 225.27L555.46 225.27L555.66 225.27L555.87 225.27L556.07 225.27L556.27 225.27L556.48 225.27L556.68 225.27L556.89 225.27L557.09 225.27L557.3 225.27L557.5 225.27L557.7 225.27L557.91 225.27L558.11 225.27L558.32 225.27L558.52 225.27L558.73 225.27L558.93 225.27L559.14 225.27L559.34 225.27L559.54 225.27L559.75 225.27L559.95 225.27L560.16 225.27L560.36 225.27L560.57 225.27L560.77 225.27L560.98 225.27L561.18 225.27L561.38 225.27L561.59 225.27L561.79 225.27L562 225.27L562.2 225.27L562.41 225.27L562.61 225.27L562.81 225.27L563.02 225.27L563.22 225.27L563.43 225.27L563.63 225.27L563.84 225.27L564.04 225.27L564.25 225.27L564.45 225.27L564.65 225.27L564.86 225.27L565.06 225.27L565.27 225.27L565.47 225.27L565.68 225.27L565.88 225.27L566.09 225.27L566.29 225.27L566.49 225.27L566.7 225.27L566.9 225.27L567.11 225.27L567.31 225.27L567.52 225.27L567.72 225.27L567.92 225.27L568.13 225.27L568.33 225.27L568.54 225.27L568.74 225.27L568.95 225.27L569.15 225.27L569.36 225.27L569.56 225.27L569.76 225.27L569.97 225.27L570.17 225.27L570.38 225.27L570.58 225.27L570.79 225.27L570.99 225.27L571.2 225.27L571.4 225.27L571.6 225.27L571.81 225.27L572.01 225.27L572.22 225.27L572.42 225.27L572.63 225.27L572.83 225.27L573.03 225.27L573.24 225.27L573.44 225.27L573.65 225.27L573.85 225.27L574.06 225.27L574.26 225.27L574.47 225.27L574.67 225.27L574.87 225.27L575.08 225.27L575.28 225.27L575.49 225.27L575.69 225.27L575.9 225.27L576.1 225.27L576.31 225.27L576.51 225.27L576.71 225.27L576.92 225.27L577.12 225.27L577.33 225.27L577.53 225.27L577.74 225.27L577.94 225.27L578.14 225.27L578.35 225.27L578.55 225.27L578.76 225.27L578.96 225.27L579.17 225.27L579.37 225.27L579.58 225.27L579.78 225.27L579.98 225.27L580.19 225.27L580.39 225.27L580.6 225.27L580.8 225.27L581.01 225.27L581.21 225.27L581.42 225.27L581.62 225.27L581.82 225.27L582.03 225.27L582.23 225.27L582.44 225.27L582.64 225.27L582.85 225.27L583.05 225.27L583.25 225.27L583.46 225.27L583.66 225.27L583.87 225.27L584.07 225.27L584.28 225.27L584.48 225.27L584.69 225.27L584.89 225.27L585.09 225.27L585.3 225.27L585.5 225.27L585.71 225.27L585.91 225.27L586.12 225.27L586.32 225.27L586.53 225.27L586.73 225.27L586.93 225.27L587.14 225.27L587.34 225.27L587.55 225.27L587.75 225.27L587.96 225.27L588.16 225.27L588.36 225.27L588.57 225.27L588.77 225.27L588.98 225.27L589.18 225.27L589.39 225.27L589.59 225.27L589.8 225.27L590 225.27L590.2 225.27L590.41 225.27L590.61 225.27L590.82 225.27L591.02 225.27L591.23 225.27L591.43 225.27L591.64 225.27L591.84 225.27L592.04 225.27L592.25 225.27L592.45 225.27L592.66 225.27L592.86 225.27L593.07 225.27L593.27 225.27L593.47 225.27L593.68 225.27L593.88 225.27L594.09 225.27L594.29 225.27L594.5 225.27L594.7 225.27L594.91 225.27L595.11 225.27L595.31 225.27L595.52 225.27L595.72 225.27L595.93 225.27L596.13 225.27L596.34 225.27L596.54 225.27L596.75 225.27L596.95 225.27L597.15 225.27L597.36 225.27L597.56 225.27L597.77 225.28L597.97 225.28L598.18 225.28L598.38 225.28L598.58 225.28L598.79 225.28L598.99 225.28L599.2 225.29L599.4 225.29L599.61 225.29L599.81 225.3L600.02 225.3L600.22 225.31L600.42 225.31L600.63 225.32L600.83 225.33L601.04 225.34L601.24 225.35L601.45 225.36L601.65 225.38L601.86 225.39L602.06 225.42L602.26 225.44L602.47 225.47L602.67 225.5L602.88 225.54L603.08 225.59L603.29 225.64L603.49 225.7L603.69 225.78L603.9 225.86L604.1 225.96L604.31 226.08L604.51 226.22L604.72 226.37L604.92 226.56L605.13 226.77L605.33 227.02L605.53 227.31L605.74 227.65L605.94 228.04L606.15 228.49L606.35 229.01L606.56 229.62L606.76 230.31L606.97 231.11L607.17 232.02L607.37 233.06L607.58 234.25L607.78 235.59L607.99 237.1L608.19 238.8L608.4 240.69L608.6 242.78L608.8 245.07L609.01 247.57L609.21 250.27L609.42 253.15L609.62 256.21L609.83 259.4L610.03 262.71L610.24 266.09L610.44 269.51L610.64 272.91L610.85 276.28L611.05 279.55L611.26 282.7L611.46 285.7L611.67 288.53L611.87 291.16L612.08 293.6L612.28 295.83L612.48 297.85L612.69 299.68L612.89 301.31L613.1 302.77L613.3 304.06L613.51 305.19L613.71 306.19L613.91 307.07L614.12 307.83L614.32 308.49L614.53 309.07L614.73 309.57L614.94 310L615.14 310.37L615.35 310.69L615.55 310.97L615.75 311.21L615.96 311.41L616.16 311.59L616.37 311.74L616.57 311.87L616.78 311.98L616.98 312.07L617.19 312.15L617.39 312.22L617.59 312.28L617.8 312.33L618 312.38L618.21 312.41L618.41 312.45L618.62 312.47L618.82 312.5L619.02 312.52L619.23 312.53L619.43 312.55L619.64 312.56L619.84 312.57L620.05 312.58L620.25 312.59L620.46 312.6L620.66 312.6L620.86 312.61L621.07 312.61L621.27 312.62L621.48 312.62L621.68 312.62L621.89 312.62L622.09 312.62L622.3 312.63L622.5 312.63L622.7 312.63L622.91 312.63L623.11 312.63L623.32 312.63L623.52 312.63L623.73 312.63L623.93 312.63L624.13 312.63L624.34 312.63L624.54 312.63L624.75 312.63L624.95 312.63L625.16 312.64L625.36 312.64L625.57 312.64L625.77 312.64L625.97 312.64L626.18 312.64L626.38 312.64L626.59 312.64L626.79 312.64L627 312.64L627.2 312.64L627.41 312.64L627.61 312.64L627.81 312.64L628.02 312.64L628.22 312.64L628.43 312.64L628.63 312.64L628.84 312.64L629.04 312.64L629.24 312.64L629.45 312.64L629.65 312.64L629.86 312.64L630.06 312.64L630.27 312.64L630.47 312.64L630.68 312.64L630.88 312.64L631.08 312.64L631.29 312.64L631.49 312.64L631.7 312.64L631.9 312.64L632.11 312.64L632.31 312.64L632.52 312.64L632.72 312.64L632.92 312.64L633.13 312.64" stroke="#EE8630" stroke-width="1.6" fill="none"/>
<path d="M484.73 235.45L484.94 235.45L485.14 235.45L485.35 235.45L485.55 235.45L485.76 235.45L485.96 235.45L486.16 235.45L486.37 235.45L486.57 235.45L486.78 235.45L486.98 235.45L487.19 235.45L487.39 235.45L487.6 235.45L487.8 235.45L488 235.45L488.21 235.45L488.41 235.45L488.62 235.45L488.82 235.45L489.03 235.45L489.23 235.45L489.44 235.45L489.64 235.45L489.84 235.45L490.05 235.45L490.25 235.45L490.46 235.45L490.66 235.45L490.87 235.45L491.07 235.45L491.27 235.45L491.48 235.45L491.68 235.45L491.89 235.45L492.09 235.45L492.3 235.45L492.5 235.45L492.71 235.45L492.91 235.45L493.11 235.45L493.32 235.45L493.52 235.45L493.73 235.45L493.93 235.45L494.14 235.45L494.34 235.45L494.55 235.45L494.75 235.45L494.95 235.45L495.16 235.45L495.36 235.45L495.57 235.45L495.77 235.45L495.98 235.45L496.18 235.45L496.38 235.45L496.59 235.45L496.79 235.45L497 235.45L497.2 235.45L497.41 235.45L497.61 235.45L497.82 235.45L498.02 235.45L498.22 235.45L498.43 235.45L498.63 235.45L498.84 235.45L499.04 235.45L499.25 235.45L499.45 235.45L499.66 235.45L499.86 235.45L500.06 235.45L500.27 235.45L500.47 235.45L500.68 235.45L500.88 235.45L501.09 235.45L501.29 235.45L501.49 235.45L501.7 235.45L501.9 235.45L502.11 235.45L502.31 235.45L502.52 235.45L502.72 235.45L502.93 235.45L503.13 235.45L503.33 235.45L503.54 235.45L503.74 235.45L503.95 235.45L504.15 235.45L504.36 235.45L504.56 235.45L504.77 235.45L504.97 235.45L505.17 235.45L505.38 235.45L505.58 235.45L505.79 235.45L505.99 235.45L506.2 235.45L506.4 235.45L506.6 235.45L506.81 235.45L507.01 235.45L507.22 235.45L507.42 235.45L507.63 235.45L507.83 235.45L508.04 235.45L508.24 235.45L508.44 235.45L508.65 235.45L508.85 235.45L509.06 235.45L509.26 235.45L509.47 235.45L509.67 235.45L509.88 235.45L510.08 235.45L510.28 235.45L510.49 235.45L510.69 235.45L510.9 235.45L511.1 235.45L511.31 235.45L511.51 235.45L511.71 235.45L511.92 235.45L512.12 235.45L512.33 235.45L512.53 235.45L512.74 235.45L512.94 235.45L513.15 235.45L513.35 235.45L513.55 235.45L513.76 235.45L513.96 235.45L514.17 235.45L514.37 235.45L514.58 235.45L514.78 235.45L514.99 235.45L515.19 235.45L515.39 235.45L515.6 235.45L515.8 235.45L516.01 235.45L516.21 235.45L516.42 235.45L516.62 235.45L516.82 235.45L517.03 235.45L517.23 235.45L517.44 235.45L517.64 235.45L517.85 235.45L518.05 235.45L518.26 235.45L518.46 235.45L518.66 235.45L518.87 235.45L519.07 235.45L519.28 235.45L519.48 235.45L519.69 235.45L519.89 235.45L520.1 235.45L520.3 235.45L520.5 235.45L520.71 235.45L520.91 235.45L521.12 235.45L521.32 235.45L521.53 235.45L521.73 235.45L521.93 235.45L522.14 235.45L522.34 235.45L522.55 235.45L522.75 235.45L522.96 235.45L523.16 235.45L523.37 235.45L523.57 235.45L523.77 235.45L523.98 235.45L524.18 235.45L524.39 235.45L524.59 235.45L524.8 235.45L525 235.45L525.21 235.45L525.41 235.45L525.61 235.45L525.82 235.45L526.02 235.45L526.23 235.45L526.43 235.45L526.64 235.45L526.84 235.45L527.04 235.45L527.25 235.45L527.45 235.45L527.66 235.45L527.86 235.45L528.07 235.45L528.27 235.45L528.48 235.45L528.68 235.45L528.88 235.45L529.09 235.45L529.29 235.45L529.5 235.45L529.7 235.45L529.91 235.45L530.11 235.45L530.32 235.45L530.52 235.45L530.72 235.45L530.93 235.45L531.13 235.45L531.34 235.45L531.54 235.45L531.75 235.45L531.95 235.45L532.15 235.45L532.36 235.45L532.56 235.45L532.77 235.45L532.97 235.45L533.18 235.45L533.38 235.45L533.59 235.45L533.79 235.45L533.99 235.45L534.2 235.45L534.4 235.45L534.61 235.45L534.81 235.45L535.02 235.45L535.22 235.45L535.43 235.45L535.63 235.45L535.83 235.45L536.04 235.45L536.24 235.45L536.45 235.45L536.65 235.45L536.86 235.45L537.06 235.45L537.26 235.45L537.47 235.45L537.67 235.45L537.88 235.45L538.08 235.45L538.29 235.45L538.49 235.45L538.7 235.45L538.9 235.45L539.1 235.45L539.31 235.45L539.51 235.45L539.72 235.45L539.92 235.45L540.13 235.45L540.33 235.45L540.54 235.45L540.74 235.45L540.94 235.45L541.15 235.45L541.35 235.45L541.56 235.45L541.76 235.45L541.97 235.45L542.17 235.45L542.37 235.45L542.58 235.45L542.78 235.45L542.99 235.45L543.19 235.45L543.4 235.45L543.6 235.45L543.81 235.45L544.01 235.45L544.21 235.45L544.42 235.45L544.62 235.45L544.83 235.45L545.03 235.45L545.24 235.45L545.44 235.45L545.65 235.45L545.85 235.45L546.05 235.45L546.26 235.45L546.46 235.45L546.67 235.45L546.87 235.45L547.08 235.45L547.28 235.45L547.48 235.45L547.69 235.45L547.89 235.45L548.1 235.45L548.3 235.45L548.51 235.45L548.71 235.45L548.92 235.45L549.12 235.45L549.32 235.45L549.53 235.45L549.73 235.45L549.94 235.45L550.14 235.45L550.35 235.45L550.55 235.45L550.76 235.45L550.96 235.45L551.16 235.45L551.37 235.45L551.57 235.45L551.78 235.45L551.98 235.45L552.19 235.45L552.39 235.45L552.59 235.45L552.8 235.45L553 235.45L553.21 235.45L553.41 235.45L553.62 235.45L553.82 235.45L554.03 235.45L554.23 235.45L554.43 235.45L554.64 235.45L554.84 235.45L555.05 235.45L555.25 235.45L555.46 235.45L555.66 235.45L555.87 235.45L556.07 235.45L556.27 235.45L556.48 235.45L556.68 235.45L556.89 235.45L557.09 235.45L557.3 235.45L557.5 235.45L557.7 235.45L557.91 235.45L558.11 235.45L558.32 235.45L558.52 235.45L558.73 235.45L558.93 235.45L559.14 235.45L559.34 235.45L559.54 235.45L559.75 235.45L559.95 235.45L560.16 235.45L560.36 235.45L560.57 235.45L560.77 235.45L560.98 235.45L561.18 235.45L561.38 235.45L561.59 235.45L561.79 235.45L562 235.45L562.2 235.45L562.41 235.45L562.61 235.45L562.81 235.45L563.02 235.45L563.22 235.45L563.43 235.45L563.63 235.45L563.84 235.45L564.04 235.45L564.25 235.45L564.45 235.45L564.65 235.45L564.86 235.45L565.06 235.45L565.27 235.45L565.47 235.45L565.68 235.45L565.88 235.45L566.09 235.45L566.29 235.45L566.49 235.45L566.7 235.45L566.9 235.45L567.11 235.45L567.31 235.45L567.52 235.45L567.72 235.45L567.92 235.45L568.13 235.45L568.33 235.45L568.54 235.45L568.74 235.45L568.95 235.45L569.15 235.45L569.36 235.45L569.56 235.45L569.76 235.45L569.97 235.45L570.17 235.45L570.38 235.45L570.58 235.45L570.79 235.45L570.99 235.45L571.2 235.45L571.4 235.45L571.6 235.45L571.81 235.45L572.01 235.45L572.22 235.45L572.42 235.45L572.63 235.45L572.83 235.45L573.03 235.45L573.24 235.45L573.44 235.45L573.65 235.45L573.85 235.45L574.06 235.45L574.26 235.45L574.47 235.45L574.67 235.45L574.87 235.45L575.08 235.45L575.28 235.45L575.49 235.45L575.69 235.45L575.9 235.45L576.1 235.45L576.31 235.45L576.51 235.45L576.71 235.45L576.92 235.45L577.12 235.45L577.33 235.45L577.53 235.45L577.74 235.45L577.94 235.45L578.14 235.45L578.35 235.45L578.55 235.45L578.76 235.45L578.96 235.45L579.17 235.45L579.37 235.45L579.58 235.45L579.78 235.45L579.98 235.45L580.19 235.45L580.39 235.45L580.6 235.45L580.8 235.45L581.01 235.45L581.21 235.45L581.42 235.45L581.62 235.45L581.82 235.45L582.03 235.45L582.23 235.45L582.44 235.45L582.64 235.45L582.85 235.45L583.05 235.45L583.25 235.45L583.46 235.45L583.66 235.45L583.87 235.45L584.07 235.45L584.28 235.45L584.48 235.45L584.69 235.45L584.89 235.45L585.09 235.45L585.3 235.45L585.5 235.45L585.71 235.45L585.91 235.45L586.12 235.45L586.32 235.45L586.53 235.45L586.73 235.45L586.93 235.45L587.14 235.45L587.34 235.45L587.55 235.45L587.75 235.45L587.96 235.45L588.16 235.45L588.36 235.45L588.57 235.45L588.77 235.45L588.98 235.45L589.18 235.45L589.39 235.45L589.59 235.45L589.8 235.45L590 235.45L590.2 235.45L590.41 235.45L590.61 235.45L590.82 235.45L591.02 235.45L591.23 235.45L591.43 235.45L591.64 235.45L591.84 235.45L592.04 235.45L592.25 235.45L592.45 235.45L592.66 235.45L592.86 235.45L593.07 235.45L593.27 235.45L593.47 235.45L593.68 235.45L593.88 235.45L594.09 235.45L594.29 235.45L594.5 235.45L594.7 235.45L594.91 235.45L595.11 235.45L595.31 235.45L595.52 235.45L595.72 235.45L595.93 235.45L596.13 235.45L596.34 235.45L596.54 235.45L596.75 235.45L596.95 235.45L597.15 235.45L597.36 235.45L597.56 235.45L597.77 235.45L597.97 235.45L598.18 235.45L598.38 235.45L598.58 235.45L598.79 235.46L598.99 235.46L599.2 235.46L599.4 235.46L599.61 235.47L599.81 235.47L600.02 235.47L600.22 235.48L600.42 235.48L600.63 235.49L600.83 235.5L601.04 235.5L601.24 235.51L601.45 235.53L601.65 235.54L601.86 235.55L602.06 235.57L602.26 235.59L602.47 235.62L602.67 235.65L602.88 235.68L603.08 235.72L603.29 235.77L603.49 235.82L603.69 235.89L603.9 235.96L604.1 236.05L604.31 236.15L604.51 236.26L604.72 236.4L604.92 236.56L605.13 236.74L605.33 236.96L605.53 237.2L605.74 237.49L605.94 237.82L606.15 238.2L606.35 238.64L606.56 239.15L606.76 239.72L606.97 240.38L607.17 241.12L607.37 241.96L607.58 242.91L607.78 243.97L607.99 245.14L608.19 246.44L608.4 247.86L608.6 249.4L608.8 251.06L609.01 252.82L609.21 254.68L609.42 256.62L609.62 258.61L609.83 260.64L610.03 262.68L610.24 264.7L610.44 266.69L610.64 268.61L610.85 270.46L611.05 272.21L611.26 273.85L611.46 275.37L611.67 276.77L611.87 278.05L612.08 279.21L612.28 280.25L612.48 281.18L612.69 282.01L612.89 282.74L613.1 283.38L613.3 283.95L613.51 284.44L613.71 284.87L613.91 285.24L614.12 285.57L614.32 285.85L614.53 286.09L614.73 286.3L614.94 286.48L615.14 286.63L615.35 286.77L615.55 286.88L615.75 286.98L615.96 287.06L616.16 287.14L616.37 287.2L616.57 287.25L616.78 287.3L616.98 287.34L617.19 287.37L617.39 287.4L617.59 287.42L617.8 287.44L618 287.46L618.21 287.48L618.41 287.49L618.62 287.5L618.82 287.51L619.02 287.52L619.23 287.53L619.43 287.53L619.64 287.54L619.84 287.54L620.05 287.55L620.25 287.55L620.46 287.55L620.66 287.55L620.86 287.56L621.07 287.56L621.27 287.56L621.48 287.56L621.68 287.56L621.89 287.56L622.09 287.56L622.3 287.56L622.5 287.56L622.7 287.57L622.91 287.57L623.11 287.57L623.32 287.57L623.52 287.57L623.73 287.57L623.93 287.57L624.13 287.57L624.34 287.57L624.54 287.57L624.75 287.57L624.95 287.57L625.16 287.57L625.36 287.57L625.57 287.57L625.77 287.57L625.97 287.57L626.18 287.57L626.38 287.57L626.59 287.57L626.79 287.57L627 287.57L627.2 287.57L627.41 287.57L627.61 287.57L627.81 287.57L628.02 287.57L628.22 287.57L628.43 287.57L628.63 287.57L628.84 287.57L629.04 287.57L629.24 287.57L629.45 287.57L629.65 287.57L629.86 287.57L630.06 287.57L630.27 287.57L630.47 287.57L630.68 287.57L630.88 287.57L631.08 287.57L631.29 287.57L631.49 287.57L631.7 287.57L631.9 287.57L632.11 287.57L632.31 287.57L632.52 287.57L632.72 287.57L632.92 287.57L633.13 287.57" stroke="#EE8630" stroke-width="1.6" fill="none"/>
<path d="M484.73 235.07L484.94 235.07L485.14 235.07L485.35 235.07L485.55 235.07L485.76 235.07L485.96 235.07L486.16 235.07L486.37 235.07L486.57 235.07L486.78 235.07L486.98 235.07L487.19 235.07L487.39 235.07L487.6 235.07L487.8 235.07L488 235.07L488.21 235.07L488.41 235.07L488.62 235.07L488.82 235.07L489.03 235.07L489.23 235.07L489.44 235.07L489.64 235.07L489.84 235.07L490.05 235.07L490.25 235.07L490.46 235.07L490.66 235.07L490.87 235.07L491.07 235.07L491.27 235.07L491.48 235.07L491.68 235.07L491.89 235.07L492.09 235.07L492.3 235.07L492.5 235.07L492.71 235.07L492.91 235.07L493.11 235.07L493.32 235.07L493.52 235.07L493.73 235.07L493.93 235.07L494.14 235.07L494.34 235.07L494.55 235.07L494.75 235.07L494.95 235.07L495.16 235.07L495.36 235.07L495.57 235.07L495.77 235.07L495.98 235.07L496.18 235.07L496.38 235.07L496.59 235.07L496.79 235.07L497 235.07L497.2 235.07L497.41 235.07L497.61 235.07L497.82 235.07L498.02 235.07L498.22 235.07L498.43 235.07L498.63 235.07L498.84 235.07L499.04 235.07L499.25 235.07L499.45 235.07L499.66 235.07L499.86 235.07L500.06 235.07L500.27 235.07L500.47 235.07L500.68 235.07L500.88 235.07L501.09 235.07L501.29 235.07L501.49 235.07L501.7 235.07L501.9 235.07L502.11 235.07L502.31 235.07L502.52 235.07L502.72 235.07L502.93 235.07L503.13 235.07L503.33 235.07L503.54 235.07L503.74 235.07L503.95 235.07L504.15 235.07L504.36 235.07L504.56 235.07L504.77 235.07L504.97 235.07L505.17 235.07L505.38 235.07L505.58 235.07L505.79 235.07L505.99 235.07L506.2 235.07L506.4 235.07L506.6 235.07L506.81 235.07L507.01 235.07L507.22 235.07L507.42 235.07L507.63 235.07L507.83 235.07L508.04 235.07L508.24 235.07L508.44 235.07L508.65 235.07L508.85 235.07L509.06 235.07L509.26 235.07L509.47 235.07L509.67 235.07L509.88 235.07L510.08 235.07L510.28 235.07L510.49 235.07L510.69 235.07L510.9 235.07L511.1 235.07L511.31 235.07L511.51 235.07L511.71 235.07L511.92 235.07L512.12 235.07L512.33 235.07L512.53 235.07L512.74 235.07L512.94 235.07L513.15 235.07L513.35 235.07L513.55 235.07L513.76 235.07L513.96 235.07L514.17 235.07L514.37 235.07L514.58 235.07L514.78 235.07L514.99 235.07L515.19 235.07L515.39 235.07L515.6 235.07L515.8 235.07L516.01 235.07L516.21 235.07L516.42 235.07L516.62 235.07L516.82 235.07L517.03 235.07L517.23 235.07L517.44 235.07L517.64 235.07L517.85 235.07L518.05 235.07L518.26 235.07L518.46 235.07L518.66 235.07L518.87 235.07L519.07 235.07L519.28 235.07L519.48 235.07L519.69 235.07L519.89 235.07L520.1 235.07L520.3 235.07L520.5 235.07L520.71 235.07L520.91 235.07L521.12 235.07L521.32 235.07L521.53 235.07L521.73 235.07L521.93 235.07L522.14 235.07L522.34 235.07L522.55 235.07L522.75 235.07L522.96 235.07L523.16 235.07L523.37 235.07L523.57 235.07L523.77 235.07L523.98 235.07L524.18 235.07L524.39 235.07L524.59 235.07L524.8 235.07L525 235.07L525.21 235.07L525.41 235.07L525.61 235.07L525.82 235.07L526.02 235.07L526.23 235.07L526.43 235.07L526.64 235.07L526.84 235.07L527.04 235.07L527.25 235.07L527.45 235.07L527.66 235.07L527.86 235.07L528.07 235.07L528.27 235.07L528.48 235.07L528.68 235.07L528.88 235.07L529.09 235.07L529.29 235.07L529.5 235.07L529.7 235.07L529.91 235.07L530.11 235.07L530.32 235.07L530.52 235.07L530.72 235.07L530.93 235.07L531.13 235.07L531.34 235.07L531.54 235.07L531.75 235.07L531.95 235.07L532.15 235.07L532.36 235.07L532.56 235.07L532.77 235.07L532.97 235.07L533.18 235.07L533.38 235.07L533.59 235.07L533.79 235.07L533.99 235.07L534.2 235.07L534.4 235.07L534.61 235.07L534.81 235.07L535.02 235.07L535.22 235.07L535.43 235.07L535.63 235.07L535.83 235.07L536.04 235.07L536.24 235.07L536.45 235.07L536.65 235.07L536.86 235.07L537.06 235.07L537.26 235.07L537.47 235.07L537.67 235.07L537.88 235.07L538.08 235.07L538.29 235.07L538.49 235.07L538.7 235.07L538.9 235.07L539.1 235.07L539.31 235.07L539.51 235.07L539.72 235.07L539.92 235.07L540.13 235.07L540.33 235.07L540.54 235.07L540.74 235.07L540.94 235.07L541.15 235.07L541.35 235.07L541.56 235.07L541.76 235.07L541.97 235.07L542.17 235.07L542.37 235.07L542.58 235.07L542.78 235.07L542.99 235.07L543.19 235.07L543.4 235.07L543.6 235.07L543.81 235.07L544.01 235.07L544.21 235.07L544.42 235.07L544.62 235.07L544.83 235.07L545.03 235.07L545.24 235.07L545.44 235.07L545.65 235.07L545.85 235.07L546.05 235.07L546.26 235.07L546.46 235.07L546.67 235.07L546.87 235.07L547.08 235.07L547.28 235.07L547.48 235.07L547.69 235.07L547.89 235.07L548.1 235.07L548.3 235.07L548.51 235.07L548.71 235.07L548.92 235.07L549.12 235.07L549.32 235.07L549.53 235.07L549.73 235.07L549.94 235.07L550.14 235.07L550.35 235.07L550.55 235.07L550.76 235.07L550.96 235.07L551.16 235.07L551.37 235.07L551.57 235.07L551.78 235.07L551.98 235.07L552.19 235.07L552.39 235.07L552.59 235.07L552.8 235.07L553 235.07L553.21 235.07L553.41 235.07L553.62 235.07L553.82 235.07L554.03 235.07L554.23 235.07L554.43 235.07L554.64 235.07L554.84 235.07L555.05 235.07L555.25 235.07L555.46 235.07L555.66 235.07L555.87 235.07L556.07 235.07L556.27 235.07L556.48 235.07L556.68 235.07L556.89 235.07L557.09 235.07L557.3 235.07L557.5 235.07L557.7 235.07L557.91 235.07L558.11 235.07L558.32 235.07L558.52 235.07L558.73 235.07L558.93 235.07L559.14 235.07L559.34 235.07L559.54 235.07L559.75 235.07L559.95 235.07L560.16 235.07L560.36 235.07L560.57 235.07L560.77 235.07L560.98 235.07L561.18 235.07L561.38 235.07L561.59 235.07L561.79 235.07L562 235.07L562.2 235.07L562.41 235.07L562.61 235.07L562.81 235.07L563.02 235.07L563.22 235.07L563.43 235.07L563.63 235.07L563.84 235.07L564.04 235.07L564.25 235.07L564.45 235.07L564.65 235.07L564.86 235.07L565.06 235.07L565.27 235.07L565.47 235.07L565.68 235.07L565.88 235.07L566.09 235.07L566.29 235.07L566.49 235.07L566.7 235.07L566.9 235.07L567.11 235.07L567.31 235.07L567.52 235.07L567.72 235.07L567.92 235.07L568.13 235.07L568.33 235.07L568.54 235.07L568.74 235.07L568.95 235.07L569.15 235.07L569.36 235.07L569.56 235.07L569.76 235.07L569.97 235.07L570.17 235.07L570.38 235.07L570.58 235.07L570.79 235.07L570.99 235.07L571.2 235.07L571.4 235.07L571.6 235.07L571.81 235.07L572.01 235.07L572.22 235.07L572.42 235.07L572.63 235.07L572.83 235.07L573.03 235.07L573.24 235.07L573.44 235.07L573.65 235.07L573.85 235.07L574.06 235.07L574.26 235.07L574.47 235.07L574.67 235.07L574.87 235.07L575.08 235.07L575.28 235.07L575.49 235.07L575.69 235.07L575.9 235.07L576.1 235.07L576.31 235.07L576.51 235.07L576.71 235.07L576.92 235.07L577.12 235.07L577.33 235.07L577.53 235.07L577.74 235.07L577.94 235.07L578.14 235.07L578.35 235.07L578.55 235.07L578.76 235.07L578.96 235.07L579.17 235.07L579.37 235.07L579.58 235.07L579.78 235.07L579.98 235.07L580.19 235.07L580.39 235.07L580.6 235.07L580.8 235.07L581.01 235.07L581.21 235.07L581.42 235.07L581.62 235.07L581.82 235.07L582.03 235.07L582.23 235.07L582.44 235.07L582.64 235.07L582.85 235.07L583.05 235.07L583.25 235.07L583.46 235.07L583.66 235.07L583.87 235.07L584.07 235.07L584.28 235.07L584.48 235.07L584.69 235.07L584.89 235.07L585.09 235.07L585.3 235.07L585.5 235.07L585.71 235.07L585.91 235.07L586.12 235.07L586.32 235.07L586.53 235.07L586.73 235.07L586.93 235.07L587.14 235.07L587.34 235.07L587.55 235.07L587.75 235.07L587.96 235.07L588.16 235.07L588.36 235.07L588.57 235.07L588.77 235.07L588.98 235.07L589.18 235.07L589.39 235.07L589.59 235.07L589.8 235.07L590 235.07L590.2 235.07L590.41 235.07L590.61 235.07L590.82 235.07L591.02 235.07L591.23 235.08L591.43 235.08L591.64 235.08L591.84 235.08L592.04 235.08L592.25 235.08L592.45 235.08L592.66 235.08L592.86 235.08L593.07 235.08L593.27 235.08L593.47 235.08L593.68 235.08L593.88 235.08L594.09 235.08L594.29 235.08L594.5 235.08L594.7 235.08L594.91 235.08L595.11 235.08L595.31 235.09L595.52 235.09L595.72 235.09L595.93 235.09L596.13 235.09L596.34 235.09L596.54 235.1L596.75 235.1L596.95 235.1L597.15 235.11L597.36 235.11L597.56 235.11L597.77 235.12L597.97 235.12L598.18 235.13L598.38 235.14L598.58 235.14L598.79 235.15L598.99 235.16L599.2 235.17L599.4 235.18L599.61 235.2L599.81 235.21L600.02 235.23L600.22 235.25L600.42 235.27L600.63 235.29L600.83 235.31L601.04 235.34L601.24 235.37L601.45 235.41L601.65 235.45L601.86 235.49L602.06 235.54L602.26 235.59L602.47 235.65L602.67 235.72L602.88 235.8L603.08 235.88L603.29 235.97L603.49 236.08L603.69 236.19L603.9 236.32L604.1 236.47L604.31 236.63L604.51 236.81L604.72 237L604.92 237.23L605.13 237.47L605.33 237.75L605.53 238.05L605.74 238.39L605.94 238.76L606.15 239.18L606.35 239.64L606.56 240.15L606.76 240.72L606.97 241.34L607.17 242.03L607.37 242.79L607.58 243.62L607.78 244.54L607.99 245.55L608.19 246.65L608.4 247.86L608.6 249.17L608.8 250.6L609.01 252.15L609.21 253.83L609.42 255.63L609.62 257.57L609.83 259.65L610.03 261.87L610.24 264.22L610.44 266.7L610.64 269.32L610.85 272.05L611.05 274.9L611.26 277.86L611.46 280.9L611.67 284.01L611.87 287.19L612.08 290.4L612.28 293.63L612.48 296.86L612.69 300.07L612.89 303.24L613.1 306.35L613.3 309.39L613.51 312.34L613.71 315.19L613.91 317.93L614.12 320.54L614.32 323.02L614.53 325.37L614.73 327.58L614.94 329.65L615.14 331.59L615.35 333.39L615.55 335.07L615.75 336.61L615.96 338.04L616.16 339.35L616.37 340.55L616.57 341.65L616.78 342.66L616.98 343.57L617.19 344.41L617.39 345.16L617.59 345.85L617.8 346.47L618 347.04L618.21 347.55L618.41 348.01L618.62 348.42L618.82 348.79L619.02 349.13L619.23 349.44L619.43 349.71L619.64 349.95L619.84 350.17L620.05 350.37L620.25 350.55L620.46 350.71L620.66 350.86L620.86 350.98L621.07 351.1L621.27 351.2L621.48 351.3L621.68 351.38L621.89 351.46L622.09 351.52L622.3 351.58L622.5 351.64L622.7 351.68L622.91 351.73L623.11 351.77L623.32 351.8L623.52 351.83L623.73 351.86L623.93 351.89L624.13 351.91L624.34 351.93L624.54 351.95L624.75 351.96L624.95 351.98L625.16 351.99L625.36 352L625.57 352.01L625.77 352.02L625.97 352.03L626.18 352.04L626.38 352.04L626.59 352.05L626.79 352.05L627 352.06L627.2 352.06L627.41 352.07L627.61 352.07L627.81 352.07L628.02 352.08L628.22 352.08L628.43 352.08L628.63 352.08L628.84 352.08L629.04 352.09L629.24 352.09L629.45 352.09L629.65 352.09L629.86 352.09L630.06 352.09L630.27 352.09L630.47 352.09L630.68 352.09L630.88 352.09L631.08 352.1L631.29 352.1L631.49 352.1L631.7 352.1L631.9 352.1L632.11 352.1L632.31 352.1L632.52 352.1L632.72 352.1L632.92 352.1L633.13 352.1" stroke="#EE8630" stroke-width="1.6" fill="none"/>
<path d="M484.73 246.45L484.94 246.51L485.14 246.58L485.35 246.65L485.55 246.71L485.76 246.78L485.96 246.85L486.16 246.92L486.37 246.98L486.57 247.05L486.78 247.12L486.98 247.19L487.19 247.26L487.39 247.32L487.6 247.39L487.8 247.46L488 247.53L488.21 247.6L488.41 247.67L488.62 247.74L488.82 247.81L489.03 247.88L489.23 247.95L489.44 248.02L489.64 248.09L489.84 248.16L490.05 248.23L490.25 248.3L490.46 248.37L490.66 248.44L490.87 248.51L491.07 248.58L491.27 248.65L491.48 248.72L491.68 248.8L491.89 248.87L492.09 248.94L492.3 249.01L492.5 249.08L492.71 249.16L492.91 249.23L493.11 249.3L493.32 249.38L493.52 249.45L493.73 249.52L493.93 249.59L494.14 249.67L494.34 249.74L494.55 249.82L494.75 249.89L494.95 249.96L495.16 250.04L495.36 250.11L495.57 250.19L495.77 250.26L495.98 250.34L496.18 250.41L496.38 250.49L496.59 250.56L496.79 250.64L497 250.71L497.2 250.79L497.41 250.87L497.61 250.94L497.82 251.02L498.02 251.1L498.22 251.17L498.43 251.25L498.63 251.33L498.84 251.4L499.04 251.48L499.25 251.56L499.45 251.64L499.66 251.72L499.86 251.79L500.06 251.87L500.27 251.95L500.47 252.03L500.68 252.11L500.88 252.19L501.09 252.27L501.29 252.34L501.49 252.42L501.7 252.5L501.9 252.58L502.11 252.66L502.31 252.74L502.52 252.82L502.72 252.9L502.93 252.98L503.13 253.07L503.33 253.15L503.54 253.23L503.74 253.31L503.95 253.39L504.15 253.47L504.36 253.55L504.56 253.64L504.77 253.72L504.97 253.8L505.17 253.88L505.38 253.96L505.58 254.05L505.79 254.13L505.99 254.21L506.2 254.3L506.4 254.38L506.6 254.46L506.81 254.55L507.01 254.63L507.22 254.72L507.42 254.8L507.63 254.88L507.83 254.97L508.04 255.05L508.24 255.14L508.44 255.22L508.65 255.31L508.85 255.4L509.06 255.48L509.26 255.57L509.47 255.65L509.67 255.74L509.88 255.83L510.08 255.91L510.28 256L510.49 256.09L510.69 256.17L510.9 256.26L511.1 256.35L511.31 256.44L511.51 256.52L511.71 256.61L511.92 256.7L512.12 256.79L512.33 256.88L512.53 256.96L512.74 257.05L512.94 257.14L513.15 257.23L513.35 257.32L513.55 257.41L513.76 257.5L513.96 257.59L514.17 257.68L514.37 257.77L514.58 257.86L514.78 257.95L514.99 258.04L515.19 258.13L515.39 258.22L515.6 258.32L515.8 258.41L516.01 258.5L516.21 258.59L516.42 258.68L516.62 258.78L516.82 258.87L517.03 258.96L517.23 259.05L517.44 259.15L517.64 259.24L517.85 259.33L518.05 259.43L518.26 259.52L518.46 259.61L518.66 259.71L518.87 259.8L519.07 259.9L519.28 259.99L519.48 260.09L519.69 260.18L519.89 260.28L520.1 260.37L520.3 260.47L520.5 260.56L520.71 260.66L520.91 260.75L521.12 260.85L521.32 260.95L521.53 261.04L521.73 261.14L521.93 261.24L522.14 261.33L522.34 261.43L522.55 261.53L522.75 261.63L522.96 261.73L523.16 261.82L523.37 261.92L523.57 262.02L523.77 262.12L523.98 262.22L524.18 262.32L524.39 262.42L524.59 262.51L524.8 262.61L525 262.71L525.21 262.81L525.41 262.91L525.61 263.01L525.82 263.12L526.02 263.22L526.23 263.32L526.43 263.42L526.64 263.52L526.84 263.62L527.04 263.72L527.25 263.82L527.45 263.93L527.66 264.03L527.86 264.13L528.07 264.23L528.27 264.34L528.48 264.44L528.68 264.54L528.88 264.64L529.09 264.75L529.29 264.85L529.5 264.96L529.7 265.06L529.91 265.16L530.11 265.27L530.32 265.37L530.52 265.48L530.72 265.58L530.93 265.69L531.13 265.79L531.34 265.9L531.54 266L531.75 266.11L531.95 266.22L532.15 266.32L532.36 266.43L532.56 266.54L532.77 266.64L532.97 266.75L533.18 266.86L533.38 266.96L533.59 267.07L533.79 267.18L533.99 267.29L534.2 267.4L534.4 267.5L534.61 267.61L534.81 267.72L535.02 267.83L535.22 267.94L535.43 268.05L535.63 268.16L535.83 268.27L536.04 268.38L536.24 268.49L536.45 268.6L536.65 268.71L536.86 268.82L537.06 268.93L537.26 269.04L537.47 269.15L537.67 269.26L537.88 269.38L538.08 269.49L538.29 269.6L538.49 269.71L538.7 269.82L538.9 269.94L539.1 270.05L539.31 270.16L539.51 270.27L539.72 270.39L539.92 270.5L540.13 270.62L540.33 270.73L540.54 270.84L540.74 270.96L540.94 271.07L541.15 271.19L541.35 271.3L541.56 271.42L541.76 271.53L541.97 271.65L542.17 271.76L542.37 271.88L542.58 271.99L542.78 272.11L542.99 272.23L543.19 272.34L543.4 272.46L543.6 272.58L543.81 272.69L544.01 272.81L544.21 272.93L544.42 273.05L544.62 273.16L544.83 273.28L545.03 273.4L545.24 273.52L545.44 273.64L545.65 273.76L545.85 273.88L546.05 273.99L546.26 274.11L546.46 274.23L546.67 274.35L546.87 274.47L547.08 274.59L547.28 274.71L547.48 274.83L547.69 274.96L547.89 275.08L548.1 275.2L548.3 275.32L548.51 275.44L548.71 275.56L548.92 275.68L549.12 275.81L549.32 275.93L549.53 276.05L549.73 276.17L549.94 276.3L550.14 276.42L550.35 276.54L550.55 276.67L550.76 276.79L550.96 276.91L551.16 277.04L551.37 277.16L551.57 277.29L551.78 277.41L551.98 277.53L552.19 277.66L552.39 277.78L552.59 277.91L552.8 278.03L553 278.16L553.21 278.29L553.41 278.41L553.62 278.54L553.82 278.66L554.03 278.79L554.23 278.92L554.43 279.05L554.64 279.17L554.84 279.3L555.05 279.43L555.25 279.55L555.46 279.68L555.66 279.81L555.87 279.94L556.07 280.07L556.27 280.2L556.48 280.33L556.68 280.45L556.89 280.58L557.09 280.71L557.3 280.84L557.5 280.97L557.7 281.1L557.91 281.23L558.11 281.36L558.32 281.49L558.52 281.62L558.73 281.75L558.93 281.89L559.14 282.02L559.34 282.15L559.54 282.28L559.75 282.41L559.95 282.54L560.16 282.68L560.36 282.81L560.57 282.94L560.77 283.07L560.98 283.21L561.18 283.34L561.38 283.47L561.59 283.61L561.79 283.74L562 283.87L562.2 284.01L562.41 284.14L562.61 284.28L562.81 284.41L563.02 284.55L563.22 284.68L563.43 284.82L563.63 284.95L563.84 285.09L564.04 285.22L564.25 285.36L564.45 285.49L564.65 285.63L564.86 285.77L565.06 285.9L565.27 286.04L565.47 286.18L565.68 286.31L565.88 286.45L566.09 286.59L566.29 286.73L566.49 286.86L566.7 287L566.9 287.14L567.11 287.28L567.31 287.42L567.52 287.55L567.72 287.69L567.92 287.83L568.13 287.97L568.33 288.11L568.54 288.25L568.74 288.39L568.95 288.53L569.15 288.67L569.36 288.81L569.56 288.95L569.76 289.09L569.97 289.23L570.17 289.37L570.38 289.51L570.58 289.66L570.79 289.8L570.99 289.94L571.2 290.08L571.4 290.22L571.6 290.36L571.81 290.51L572.01 290.65L572.22 290.79L572.42 290.94L572.63 291.08L572.83 291.22L573.03 291.36L573.24 291.51L573.44 291.65L573.65 291.8L573.85 291.94L574.06 292.08L574.26 292.23L574.47 292.37L574.67 292.52L574.87 292.66L575.08 292.81L575.28 292.95L575.49 293.1L575.69 293.24L575.9 293.39L576.1 293.54L576.31 293.68L576.51 293.83L576.71 293.97L576.92 294.12L577.12 294.27L577.33 294.41L577.53 294.56L577.74 294.71L577.94 294.86L578.14 295L578.35 295.15L578.55 295.3L578.76 295.45L578.96 295.6L579.17 295.74L579.37 295.89L579.58 296.04L579.78 296.19L579.98 296.34L580.19 296.49L580.39 296.64L580.6 296.79L580.8 296.94L581.01 297.09L581.21 297.24L581.42 297.39L581.62 297.54L581.82 297.69L582.03 297.84L582.23 297.99L582.44 298.14L582.64 298.29L582.85 298.44L583.05 298.59L583.25 298.74L583.46 298.9L583.66 299.05L583.87 299.2L584.07 299.35L584.28 299.5L584.48 299.66L584.69 299.81L584.89 299.96L585.09 300.12L585.3 300.27L585.5 300.42L585.71 300.58L585.91 300.73L586.12 300.88L586.32 301.04L586.53 301.19L586.73 301.34L586.93 301.5L587.14 301.65L587.34 301.81L587.55 301.96L587.75 302.12L587.96 302.27L588.16 302.43L588.36 302.58L588.57 302.74L588.77 302.89L588.98 303.05L589.18 303.2L589.39 303.36L589.59 303.52L589.8 303.67L590 303.83L590.2 303.99L590.41 304.14L590.61 304.3L590.82 304.46L591.02 304.61L591.23 304.77L591.43 304.93L591.64 305.09L591.84 305.24L592.04 305.4L592.25 305.56L592.45 305.72L592.66 305.88L592.86 306.03L593.07 306.19L593.27 306.35L593.47 306.51L593.68 306.67L593.88 306.83L594.09 306.99L594.29 307.15L594.5 307.3L594.7 307.46L594.91 307.62L595.11 307.78L595.31 307.94L595.52 308.1L595.72 308.26L595.93 308.42L596.13 308.58L596.34 308.75L596.54 308.91L596.75 309.07L596.95 309.23L597.15 309.39L597.36 309.55L597.56 309.71L597.77 309.87L597.97 310.03L598.18 310.2L598.38 310.36L598.58 310.52L598.79 310.68L598.99 310.84L599.2 311.01L599.4 311.17L599.61 311.33L599.81 311.49L600.02 311.66L600.22 311.82L600.42 311.98L600.63 312.14L600.83 312.31L601.04 312.47L601.24 312.63L601.45 312.8L601.65 312.96L601.86 313.13L602.06 313.29L602.26 313.45L602.47 313.62L602.67 313.78L602.88 313.95L603.08 314.11L603.29 314.28L603.49 314.44L603.69 314.6L603.9 314.77L604.1 314.93L604.31 315.1L604.51 315.26L604.72 315.43L604.92 315.6L605.13 315.76L605.33 315.93L605.53 316.09L605.74 316.26L605.94 316.42L606.15 316.59L606.35 316.76L606.56 316.92L606.76 317.09L606.97 317.25L607.17 317.42L607.37 317.59L607.58 317.75L607.78 317.92L607.99 318.09L608.19 318.26L608.4 318.42L608.6 318.59L608.8 318.76L609.01 318.92L609.21 319.09L609.42 319.26L609.62 319.43L609.83 319.59L610.03 319.76L610.24 319.93L610.44 320.1L610.64 320.27L610.85 320.43L611.05 320.6L611.26 320.77L611.46 320.94L611.67 321.11L611.87 321.28L612.08 321.44L612.28 321.61L612.48 321.78L612.69 321.95L612.89 322.12L613.1 322.29L613.3 322.46L613.51 322.63L613.71 322.8L613.91 322.97L614.12 323.14L614.32 323.3L614.53 323.47L614.73 323.64L614.94 323.81L615.14 323.98L615.35 324.15L615.55 324.32L615.75 324.49L615.96 324.66L616.16 324.83L616.37 325L616.57 325.17L616.78 325.34L616.98 325.52L617.19 325.69L617.39 325.86L617.59 326.03L617.8 326.2L618 326.37L618.21 326.54L618.41 326.71L618.62 326.88L618.82 327.05L619.02 327.22L619.23 327.39L619.43 327.57L619.64 327.74L619.84 327.91L620.05 328.08L620.25 328.25L620.46 328.42L620.66 328.59L620.86 328.77L621.07 328.94L621.27 329.11L621.48 329.28L621.68 329.45L621.89 329.62L622.09 329.8L622.3 329.97L622.5 330.14L622.7 330.31L622.91 330.48L623.11 330.66L623.32 330.83L623.52 331L623.73 331.17L623.93 331.35L624.13 331.52L624.34 331.69L624.54 331.86L624.75 332.04L624.95 332.21L625.16 332.38L625.36 332.55L625.57 332.73L625.77 332.9L625.97 333.07L626.18 333.24L626.38 333.42L626.59 333.59L626.79 333.76L627 333.94L627.2 334.11L627.41 334.28L627.61 334.46L627.81 334.63L628.02 334.8L628.22 334.97L628.43 335.15L628.63 335.32L628.84 335.49L629.04 335.67L629.24 335.84L629.45 336.01L629.65 336.19L629.86 336.36L630.06 336.53L630.27 336.71L630.47 336.88L630.68 337.05L630.88 337.23L631.08 337.4L631.29 337.57L631.49 337.75L631.7 337.92L631.9 338.1L632.11 338.27L632.31 338.44L632.52 338.62L632.72 338.79L632.92 338.96L633.13 339.14" stroke="#7A2FA6" stroke-width="1.6" fill="none"/>
<path d="M484.73 250.28L484.94 250.35L485.14 250.41L485.35 250.47L485.55 250.53L485.76 250.59L485.96 250.66L486.16 250.72L486.37 250.78L486.57 250.85L486.78 250.91L486.98 250.97L487.19 251.03L487.39 251.1L487.6 251.16L487.8 251.23L488 251.29L488.21 251.35L488.41 251.42L488.62 251.48L488.82 251.55L489.03 251.61L489.23 251.68L489.44 251.74L489.64 251.81L489.84 251.87L490.05 251.94L490.25 252L490.46 252.07L490.66 252.13L490.87 252.2L491.07 252.26L491.27 252.33L491.48 252.4L491.68 252.46L491.89 252.53L492.09 252.6L492.3 252.66L492.5 252.73L492.71 252.8L492.91 252.86L493.11 252.93L493.32 253L493.52 253.07L493.73 253.14L493.93 253.2L494.14 253.27L494.34 253.34L494.55 253.41L494.75 253.48L494.95 253.55L495.16 253.62L495.36 253.68L495.57 253.75L495.77 253.82L495.98 253.89L496.18 253.96L496.38 254.03L496.59 254.1L496.79 254.17L497 254.24L497.2 254.31L497.41 254.38L497.61 254.46L497.82 254.53L498.02 254.6L498.22 254.67L498.43 254.74L498.63 254.81L498.84 254.88L499.04 254.96L499.25 255.03L499.45 255.1L499.66 255.17L499.86 255.24L500.06 255.32L500.27 255.39L500.47 255.46L500.68 255.54L500.88 255.61L501.09 255.68L501.29 255.76L501.49 255.83L501.7 255.9L501.9 255.98L502.11 256.05L502.31 256.13L502.52 256.2L502.72 256.28L502.93 256.35L503.13 256.43L503.33 256.5L503.54 256.58L503.74 256.65L503.95 256.73L504.15 256.8L504.36 256.88L504.56 256.96L504.77 257.03L504.97 257.11L505.17 257.19L505.38 257.26L505.58 257.34L505.79 257.42L505.99 257.49L506.2 257.57L506.4 257.65L506.6 257.73L506.81 257.81L507.01 257.88L507.22 257.96L507.42 258.04L507.63 258.12L507.83 258.2L508.04 258.28L508.24 258.36L508.44 258.44L508.65 258.52L508.85 258.6L509.06 258.67L509.26 258.76L509.47 258.84L509.67 258.92L509.88 259L510.08 259.08L510.28 259.16L510.49 259.24L510.69 259.32L510.9 259.4L511.1 259.48L511.31 259.56L511.51 259.65L511.71 259.73L511.92 259.81L512.12 259.89L512.33 259.98L512.53 260.06L512.74 260.14L512.94 260.22L513.15 260.31L513.35 260.39L513.55 260.47L513.76 260.56L513.96 260.64L514.17 260.73L514.37 260.81L514.58 260.9L514.78 260.98L514.99 261.07L515.19 261.15L515.39 261.24L515.6 261.32L515.8 261.41L516.01 261.49L516.21 261.58L516.42 261.66L516.62 261.75L516.82 261.84L517.03 261.92L517.23 262.01L517.44 262.1L517.64 262.18L517.85 262.27L518.05 262.36L518.26 262.45L518.46 262.53L518.66 262.62L518.87 262.71L519.07 262.8L519.28 262.89L519.48 262.98L519.69 263.07L519.89 263.15L520.1 263.24L520.3 263.33L520.5 263.42L520.71 263.51L520.91 263.6L521.12 263.69L521.32 263.78L521.53 263.87L521.73 263.96L521.93 264.06L522.14 264.15L522.34 264.24L522.55 264.33L522.75 264.42L522.96 264.51L523.16 264.6L523.37 264.7L523.57 264.79L523.77 264.88L523.98 264.97L524.18 265.07L524.39 265.16L524.59 265.25L524.8 265.35L525 265.44L525.21 265.54L525.41 265.63L525.61 265.72L525.82 265.82L526.02 265.91L526.23 266.01L526.43 266.1L526.64 266.2L526.84 266.29L527.04 266.39L527.25 266.48L527.45 266.58L527.66 266.68L527.86 266.77L528.07 266.87L528.27 266.97L528.48 267.06L528.68 267.16L528.88 267.26L529.09 267.35L529.29 267.45L529.5 267.55L529.7 267.65L529.91 267.75L530.11 267.85L530.32 267.94L530.52 268.04L530.72 268.14L530.93 268.24L531.13 268.34L531.34 268.44L531.54 268.54L531.75 268.64L531.95 268.74L532.15 268.84L532.36 268.94L532.56 269.04L532.77 269.14L532.97 269.24L533.18 269.34L533.38 269.45L533.59 269.55L533.79 269.65L533.99 269.75L534.2 269.85L534.4 269.96L534.61 270.06L534.81 270.16L535.02 270.27L535.22 270.37L535.43 270.47L535.63 270.58L535.83 270.68L536.04 270.78L536.24 270.89L536.45 270.99L536.65 271.1L536.86 271.2L537.06 271.31L537.26 271.41L537.47 271.52L537.67 271.62L537.88 271.73L538.08 271.84L538.29 271.94L538.49 272.05L538.7 272.16L538.9 272.26L539.1 272.37L539.31 272.48L539.51 272.58L539.72 272.69L539.92 272.8L540.13 272.91L540.33 273.02L540.54 273.12L540.74 273.23L540.94 273.34L541.15 273.45L541.35 273.56L541.56 273.67L541.76 273.78L541.97 273.89L542.17 274L542.37 274.11L542.58 274.22L542.78 274.33L542.99 274.44L543.19 274.55L543.4 274.66L543.6 274.78L543.81 274.89L544.01 275L544.21 275.11L544.42 275.22L544.62 275.34L544.83 275.45L545.03 275.56L545.24 275.68L545.44 275.79L545.65 275.9L545.85 276.02L546.05 276.13L546.26 276.24L546.46 276.36L546.67 276.47L546.87 276.59L547.08 276.7L547.28 276.82L547.48 276.93L547.69 277.05L547.89 277.17L548.1 277.28L548.3 277.4L548.51 277.51L548.71 277.63L548.92 277.75L549.12 277.87L549.32 277.98L549.53 278.1L549.73 278.22L549.94 278.34L550.14 278.45L550.35 278.57L550.55 278.69L550.76 278.81L550.96 278.93L551.16 279.05L551.37 279.17L551.57 279.29L551.78 279.41L551.98 279.53L552.19 279.65L552.39 279.77L552.59 279.89L552.8 280.01L553 280.13L553.21 280.25L553.41 280.37L553.62 280.49L553.82 280.62L554.03 280.74L554.23 280.86L554.43 280.98L554.64 281.11L554.84 281.23L555.05 281.35L555.25 281.48L555.46 281.6L555.66 281.72L555.87 281.85L556.07 281.97L556.27 282.1L556.48 282.22L556.68 282.35L556.89 282.47L557.09 282.6L557.3 282.72L557.5 282.85L557.7 282.97L557.91 283.1L558.11 283.23L558.32 283.35L558.52 283.48L558.73 283.61L558.93 283.73L559.14 283.86L559.34 283.99L559.54 284.12L559.75 284.25L559.95 284.37L560.16 284.5L560.36 284.63L560.57 284.76L560.77 284.89L560.98 285.02L561.18 285.15L561.38 285.28L561.59 285.41L561.79 285.54L562 285.67L562.2 285.8L562.41 285.93L562.61 286.06L562.81 286.19L563.02 286.32L563.22 286.46L563.43 286.59L563.63 286.72L563.84 286.85L564.04 286.98L564.25 287.12L564.45 287.25L564.65 287.38L564.86 287.52L565.06 287.65L565.27 287.78L565.47 287.92L565.68 288.05L565.88 288.19L566.09 288.32L566.29 288.46L566.49 288.59L566.7 288.73L566.9 288.86L567.11 289L567.31 289.14L567.52 289.27L567.72 289.41L567.92 289.55L568.13 289.68L568.33 289.82L568.54 289.96L568.74 290.09L568.95 290.23L569.15 290.37L569.36 290.51L569.56 290.65L569.76 290.79L569.97 290.92L570.17 291.06L570.38 291.2L570.58 291.34L570.79 291.48L570.99 291.62L571.2 291.76L571.4 291.9L571.6 292.04L571.81 292.18L572.01 292.32L572.22 292.47L572.42 292.61L572.63 292.75L572.83 292.89L573.03 293.03L573.24 293.18L573.44 293.32L573.65 293.46L573.85 293.6L574.06 293.75L574.26 293.89L574.47 294.03L574.67 294.18L574.87 294.32L575.08 294.47L575.28 294.61L575.49 294.76L575.69 294.9L575.9 295.05L576.1 295.19L576.31 295.34L576.51 295.48L576.71 295.63L576.92 295.77L577.12 295.92L577.33 296.07L577.53 296.21L577.74 296.36L577.94 296.51L578.14 296.66L578.35 296.8L578.55 296.95L578.76 297.1L578.96 297.25L579.17 297.4L579.37 297.55L579.58 297.69L579.78 297.84L579.98 297.99L580.19 298.14L580.39 298.29L580.6 298.44L580.8 298.59L581.01 298.74L581.21 298.89L581.42 299.05L581.62 299.2L581.82 299.35L582.03 299.5L582.23 299.65L582.44 299.8L582.64 299.96L582.85 300.11L583.05 300.26L583.25 300.41L583.46 300.57L583.66 300.72L583.87 300.87L584.07 301.03L584.28 301.18L584.48 301.34L584.69 301.49L584.89 301.64L585.09 301.8L585.3 301.95L585.5 302.11L585.71 302.26L585.91 302.42L586.12 302.58L586.32 302.73L586.53 302.89L586.73 303.04L586.93 303.2L587.14 303.36L587.34 303.52L587.55 303.67L587.75 303.83L587.96 303.99L588.16 304.15L588.36 304.3L588.57 304.46L588.77 304.62L588.98 304.78L589.18 304.94L589.39 305.1L589.59 305.26L589.8 305.42L590 305.58L590.2 305.74L590.41 305.9L590.61 306.06L590.82 306.22L591.02 306.38L591.23 306.54L591.43 306.7L591.64 306.86L591.84 307.02L592.04 307.19L592.25 307.35L592.45 307.51L592.66 307.67L592.86 307.84L593.07 308L593.27 308.16L593.47 308.33L593.68 308.49L593.88 308.65L594.09 308.82L594.29 308.98L594.5 309.15L594.7 309.31L594.91 309.48L595.11 309.64L595.31 309.81L595.52 309.97L595.72 310.14L595.93 310.3L596.13 310.47L596.34 310.63L596.54 310.8L596.75 310.97L596.95 311.13L597.15 311.3L597.36 311.47L597.56 311.64L597.77 311.8L597.97 311.97L598.18 312.14L598.38 312.31L598.58 312.48L598.79 312.64L598.99 312.81L599.2 312.98L599.4 313.15L599.61 313.32L599.81 313.49L600.02 313.66L600.22 313.83L600.42 314L600.63 314.17L600.83 314.34L601.04 314.51L601.24 314.68L601.45 314.86L601.65 315.03L601.86 315.2L602.06 315.37L602.26 315.54L602.47 315.71L602.67 315.89L602.88 316.06L603.08 316.23L603.29 316.41L603.49 316.58L603.69 316.75L603.9 316.93L604.1 317.1L604.31 317.27L604.51 317.45L604.72 317.62L604.92 317.8L605.13 317.97L605.33 318.15L605.53 318.32L605.74 318.5L605.94 318.67L606.15 318.85L606.35 319.02L606.56 319.2L606.76 319.38L606.97 319.55L607.17 319.73L607.37 319.9L607.58 320.08L607.78 320.26L607.99 320.44L608.19 320.61L608.4 320.79L608.6 320.97L608.8 321.15L609.01 321.33L609.21 321.5L609.42 321.68L609.62 321.86L609.83 322.04L610.03 322.22L610.24 322.4L610.44 322.58L610.64 322.76L610.85 322.94L611.05 323.12L611.26 323.3L611.46 323.48L611.67 323.66L611.87 323.84L612.08 324.02L612.28 324.2L612.48 324.38L612.69 324.57L612.89 324.75L613.1 324.93L613.3 325.11L613.51 325.29L613.71 325.48L613.91 325.66L614.12 325.84L614.32 326.03L614.53 326.21L614.73 326.39L614.94 326.58L615.14 326.76L615.35 326.94L615.55 327.13L615.75 327.31L615.96 327.5L616.16 327.68L616.37 327.86L616.57 328.05L616.78 328.23L616.98 328.42L617.19 328.61L617.39 328.79L617.59 328.98L617.8 329.16L618 329.35L618.21 329.53L618.41 329.72L618.62 329.91L618.82 330.09L619.02 330.28L619.23 330.47L619.43 330.66L619.64 330.84L619.84 331.03L620.05 331.22L620.25 331.41L620.46 331.59L620.66 331.78L620.86 331.97L621.07 332.16L621.27 332.35L621.48 332.54L621.68 332.73L621.89 332.91L622.09 333.1L622.3 333.29L622.5 333.48L622.7 333.67L622.91 333.86L623.11 334.05L623.32 334.24L623.52 334.43L623.73 334.62L623.93 334.82L624.13 335.01L624.34 335.2L624.54 335.39L624.75 335.58L624.95 335.77L625.16 335.96L625.36 336.15L625.57 336.35L625.77 336.54L625.97 336.73L626.18 336.92L626.38 337.12L626.59 337.31L626.79 337.5L627 337.69L627.2 337.89L627.41 338.08L627.61 338.27L627.81 338.47L628.02 338.66L628.22 338.86L628.43 339.05L628.63 339.24L628.84 339.44L629.04 339.63L629.24 339.83L629.45 340.02L629.65 340.22L629.86 340.41L630.06 340.61L630.27 340.8L630.47 341L630.68 341.19L630.88 341.39L631.08 341.58L631.29 341.78L631.49 341.98L631.7 342.17L631.9 342.37L632.11 342.57L632.31 342.76L632.52 342.96L632.72 343.16L632.92 343.35L633.13 343.55" stroke="#7A2FA6" stroke-width="1.6" fill="none"/>
<path d="M484.73 233.83L484.94 233.83L485.14 233.83L485.35 233.83L485.55 233.83L485.76 233.83L485.96 233.83L486.16 233.83L486.37 233.83L486.57 233.83L486.78 233.83L486.98 233.83L487.19 233.83L487.39 233.83L487.6 233.83L487.8 233.83L488 233.83L488.21 233.83L488.41 233.83L488.62 233.83L488.82 233.83L489.03 233.83L489.23 233.83L489.44 233.83L489.64 233.83L489.84 233.83L490.05 233.83L490.25 233.83L490.46 233.83L490.66 233.83L490.87 233.83L491.07 233.83L491.27 233.83L491.48 233.83L491.68 233.83L491.89 233.83L492.09 233.83L492.3 233.83L492.5 233.83L492.71 233.83L492.91 233.83L493.11 233.83L493.32 233.83L493.52 233.83L493.73 233.83L493.93 233.83L494.14 233.83L494.34 233.83L494.55 233.83L494.75 233.83L494.95 233.83L495.16 233.83L495.36 233.83L495.57 233.83L495.77 233.83L495.98 233.83L496.18 233.83L496.38 233.83L496.59 233.83L496.79 233.83L497 233.83L497.2 233.83L497.41 233.83L497.61 233.83L497.82 233.83L498.02 233.83L498.22 233.83L498.43 233.83L498.63 233.83L498.84 233.83L499.04 233.83L499.25 233.83L499.45 233.83L499.66 233.83L499.86 233.83L500.06 233.83L500.27 233.83L500.47 233.83L500.68 233.83L500.88 233.83L501.09 233.83L501.29 233.83L501.49 233.83L501.7 233.83L501.9 233.83L502.11 233.83L502.31 233.83L502.52 233.83L502.72 233.83L502.93 233.83L503.13 233.83L503.33 233.83L503.54 233.83L503.74 233.83L503.95 233.83L504.15 233.83L504.36 233.83L504.56 233.83L504.77 233.83L504.97 233.83L505.17 233.83L505.38 233.83L505.58 233.83L505.79 233.83L505.99 233.83L506.2 233.83L506.4 233.83L506.6 233.83L506.81 233.83L507.01 233.83L507.22 233.83L507.42 233.83L507.63 233.83L507.83 233.83L508.04 233.83L508.24 233.83L508.44 233.83L508.65 233.83L508.85 233.83L509.06 233.83L509.26 233.83L509.47 233.83L509.67 233.83L509.88 233.83L510.08 233.83L510.28 233.83L510.49 233.83L510.69 233.83L510.9 233.83L511.1 233.83L511.31 233.83L511.51 233.83L511.71 233.83L511.92 233.83L512.12 233.83L512.33 233.83L512.53 233.83L512.74 233.83L512.94 233.83L513.15 233.83L513.35 233.83L513.55 233.83L513.76 233.83L513.96 233.83L514.17 233.83L514.37 233.83L514.58 233.83L514.78 233.83L514.99 233.83L515.19 233.83L515.39 233.83L515.6 233.83L515.8 233.83L516.01 233.83L516.21 233.83L516.42 233.83L516.62 233.83L516.82 233.83L517.03 233.83L517.23 233.83L517.44 233.83L517.64 233.83L517.85 233.83L518.05 233.83L518.26 233.83L518.46 233.83L518.66 233.83L518.87 233.83L519.07 233.83L519.28 233.83L519.48 233.83L519.69 233.83L519.89 233.83L520.1 233.83L520.3 233.83L520.5 233.83L520.71 233.83L520.91 233.83L521.12 233.83L521.32 233.83L521.53 233.83L521.73 233.83L521.93 233.83L522.14 233.83L522.34 233.83L522.55 233.83L522.75 233.83L522.96 233.83L523.16 233.83L523.37 233.83L523.57 233.83L523.77 233.83L523.98 233.83L524.18 233.83L524.39 233.83L524.59 233.83L524.8 233.83L525 233.83L525.21 233.83L525.41 233.83L525.61 233.83L525.82 233.83L526.02 233.83L526.23 233.83L526.43 233.83L526.64 233.83L526.84 233.83L527.04 233.83L527.25 233.83L527.45 233.83L527.66 233.83L527.86 233.83L528.07 233.83L528.27 233.83L528.48 233.83L528.68 233.83L528.88 233.83L529.09 233.83L529.29 233.83L529.5 233.83L529.7 233.83L529.91 233.83L530.11 233.83L530.32 233.83L530.52 233.83L530.72 233.83L530.93 233.83L531.13 233.83L531.34 233.83L531.54 233.83L531.75 233.83L531.95 233.83L532.15 233.83L532.36 233.83L532.56 233.83L532.77 233.83L532.97 233.83L533.18 233.83L533.38 233.83L533.59 233.83L533.79 233.83L533.99 233.83L534.2 233.83L534.4 233.83L534.61 233.83L534.81 233.83L535.02 233.83L535.22 233.83L535.43 233.83L535.63 233.83L535.83 233.83L536.04 233.83L536.24 233.83L536.45 233.83L536.65 233.83L536.86 233.83L537.06 233.83L537.26 233.83L537.47 233.83L537.67 233.83L537.88 233.83L538.08 233.83L538.29 233.83L538.49 233.83L538.7 233.83L538.9 233.83L539.1 233.83L539.31 233.83L539.51 233.83L539.72 233.83L539.92 233.83L540.13 233.83L540.33 233.83L540.54 233.83L540.74 233.83L540.94 233.83L541.15 233.83L541.35 233.83L541.56 233.83L541.76 233.83L541.97 233.83L542.17 233.83L542.37 233.83L542.58 233.83L542.78 233.83L542.99 233.83L543.19 233.83L543.4 233.83L543.6 233.83L543.81 233.83L544.01 233.83L544.21 233.83L544.42 233.83L544.62 233.83L544.83 233.83L545.03 233.83L545.24 233.83L545.44 233.83L545.65 233.83L545.85 233.83L546.05 233.83L546.26 233.83L546.46 233.83L546.67 233.83L546.87 233.83L547.08 233.83L547.28 233.83L547.48 233.83L547.69 233.83L547.89 233.83L548.1 233.83L548.3 233.83L548.51 233.83L548.71 233.83L548.92 233.83L549.12 233.83L549.32 233.83L549.53 233.83L549.73 233.83L549.94 233.83L550.14 233.83L550.35 233.83L550.55 233.83L550.76 233.83L550.96 233.83L551.16 233.83L551.37 233.83L551.57 233.83L551.78 233.83L551.98 233.83L552.19 233.83L552.39 233.83L552.59 233.83L552.8 233.83L553 233.83L553.21 233.83L553.41 233.83L553.62 233.83L553.82 233.83L554.03 233.83L554.23 233.83L554.43 233.83L554.64 233.83L554.84 233.83L555.05 233.83L555.25 233.83L555.46 233.83L555.66 233.83L555.87 233.83L556.07 233.83L556.27 233.83L556.48 233.83L556.68 233.83L556.89 233.83L557.09 233.83L557.3 233.83L557.5 233.83L557.7 233.83L557.91 233.83L558.11 233.83L558.32 233.83L558.52 233.83L558.73 233.83L558.93 233.83L559.14 233.83L559.34 233.83L559.54 233.83L559.75 233.83L559.95 233.83L560.16 233.83L560.36 233.83L560.57 233.83L560.77 233.83L560.98 233.83L561.18 233.83L561.38 233.83L561.59 233.83L561.79 233.83L562 233.83L562.2 233.83L562.41 233.83L562.61 233.83L562.81 233.83L563.02 233.83L563.22 233.83L563.43 233.83L563.63 233.83L563.84 233.83L564.04 233.83L564.25 233.83L564.45 233.83L564.65 233.83L564.86 233.83L565.06 233.83L565.27 233.83L565.47 233.83L565.68 233.83L565.88 233.83L566.09 233.83L566.29 233.83L566.49 233.83L566.7 233.83L566.9 233.83L567.11 233.83L567.31 233.83L567.52 233.83L567.72 233.83L567.92 233.83L568.13 233.83L568.33 233.83L568.54 233.83L568.74 233.83L568.95 233.83L569.15 233.83L569.36 233.83L569.56 233.83L569.76 233.83L569.97 233.83L570.17 233.83L570.38 233.83L570.58 233.83L570.79 233.83L570.99 233.83L571.2 233.83L571.4 233.83L571.6 233.83L571.81 233.83L572.01 233.83L572.22 233.83L572.42 233.83L572.63 233.83L572.83 233.83L573.03 233.83L573.24 233.83L573.44 233.83L573.65 233.83L573.85 233.83L574.06 233.83L574.26 233.83L574.47 233.83L574.67 233.83L574.87 233.83L575.08 233.83L575.28 233.83L575.49 233.83L575.69 233.83L575.9 233.83L576.1 233.83L576.31 233.84L576.51 233.84L576.71 233.84L576.92 233.84L577.12 233.84L577.33 233.84L577.53 233.84L577.74 233.84L577.94 233.84L578.14 233.85L578.35 233.85L578.55 233.85L578.76 233.86L578.96 233.86L579.17 233.87L579.37 233.88L579.58 233.89L579.78 233.9L579.98 233.91L580.19 233.92L580.39 233.94L580.6 233.96L580.8 233.99L581.01 234.02L581.21 234.06L581.42 234.11L581.62 234.16L581.82 234.23L582.03 234.31L582.23 234.41L582.44 234.52L582.64 234.66L582.85 234.83L583.05 235.02L583.25 235.26L583.46 235.54L583.66 235.88L583.87 236.29L584.07 236.77L584.28 237.34L584.48 238.02L584.69 238.82L584.89 239.77L585.09 240.88L585.3 242.18L585.5 243.69L585.71 245.44L585.91 247.46L586.12 249.75L586.32 252.34L586.53 255.24L586.73 258.45L586.93 261.96L587.14 265.74L587.34 269.75L587.55 273.95L587.75 278.27L587.96 282.65L588.16 287L588.36 291.26L588.57 295.35L588.77 299.24L588.98 302.86L589.18 306.19L589.39 309.22L589.59 311.94L589.8 314.36L590 316.48L590.2 318.34L590.41 319.95L590.61 321.33L590.82 322.52L591.02 323.53L591.23 324.39L591.43 325.12L591.64 325.73L591.84 326.25L592.04 326.68L592.25 327.05L592.45 327.35L592.66 327.61L592.86 327.82L593.07 328L593.27 328.15L593.47 328.27L593.68 328.38L593.88 328.46L594.09 328.54L594.29 328.6L594.5 328.65L594.7 328.69L594.91 328.72L595.11 328.75L595.31 328.77L595.52 328.79L595.72 328.81L595.93 328.83L596.13 328.84L596.34 328.85L596.54 328.85L596.75 328.86L596.95 328.87L597.15 328.87L597.36 328.87L597.56 328.88L597.77 328.88L597.97 328.88L598.18 328.88L598.38 328.89L598.58 328.89L598.79 328.89L598.99 328.89L599.2 328.89L599.4 328.89L599.61 328.89L599.81 328.89L600.02 328.89L600.22 328.89L600.42 328.89L600.63 328.89L600.83 328.89L601.04 328.89L601.24 328.89L601.45 328.89L601.65 328.89L601.86 328.89L602.06 328.89L602.26 328.89L602.47 328.89L602.67 328.89L602.88 328.89L603.08 328.89L603.29 328.89L603.49 328.89L603.69 328.89L603.9 328.89L604.1 328.89L604.31 328.89L604.51 328.89L604.72 328.89L604.92 328.89L605.13 328.89L605.33 328.89L605.53 328.89L605.74 328.89L605.94 328.89L606.15 328.89L606.35 328.89L606.56 328.89L606.76 328.89L606.97 328.89L607.17 328.89L607.37 328.89L607.58 328.89L607.78 328.89L607.99 328.89L608.19 328.89L608.4 328.89L608.6 328.89L608.8 328.89L609.01 328.89L609.21 328.89L609.42 328.89L609.62 328.89L609.83 328.89L610.03 328.89L610.24 328.89L610.44 328.89L610.64 328.89L610.85 328.89L611.05 328.89L611.26 328.89L611.46 328.89L611.67 328.89L611.87 328.89L612.08 328.89L612.28 328.89L612.48 328.89L612.69 328.89L612.89 328.89L613.1 328.89L613.3 328.89L613.51 328.89L613.71 328.89L613.91 328.89L614.12 328.89L614.32 328.89L614.53 328.89L614.73 328.89L614.94 328.89L615.14 328.89L615.35 328.89L615.55 328.89L615.75 328.89L615.96 328.89L616.16 328.89L616.37 328.89L616.57 328.89L616.78 328.89L616.98 328.89L617.19 328.89L617.39 328.89L617.59 328.89L617.8 328.89L618 328.89L618.21 328.89L618.41 328.89L618.62 328.89L618.82 328.89L619.02 328.89L619.23 328.89L619.43 328.89L619.64 328.89L619.84 328.89L620.05 328.89L620.25 328.89L620.46 328.89L620.66 328.89L620.86 328.89L621.07 328.89L621.27 328.89L621.48 328.89L621.68 328.89L621.89 328.89L622.09 328.89L622.3 328.89L622.5 328.89L622.7 328.89L622.91 328.89L623.11 328.89L623.32 328.89L623.52 328.89L623.73 328.89L623.93 328.89L624.13 328.89L624.34 328.89L624.54 328.89L624.75 328.89L624.95 328.89L625.16 328.89L625.36 328.89L625.57 328.89L625.77 328.89L625.97 328.89L626.18 328.89L626.38 328.89L626.59 328.89L626.79 328.89L627 328.89L627.2 328.89L627.41 328.89L627.61 328.89L627.81 328.89L628.02 328.89L628.22 328.89L628.43 328.89L628.63 328.89L628.84 328.89L629.04 328.89L629.24 328.89L629.45 328.89L629.65 328.89L629.86 328.89L630.06 328.89L630.27 328.89L630.47 328.89L630.68 328.89L630.88 328.89L631.08 328.89L631.29 328.89L631.49 328.89L631.7 328.89L631.9 328.89L632.11 328.89L632.31 328.89L632.52 328.89L632.72 328.89L632.92 328.89L633.13 328.89" stroke="#7A2FA6" stroke-width="1.6" fill="none"/>
<path d="M510.3 234.19L513.49 228.39L507.11 228.39Z" fill="#EE8630"/>
<path d="M534.68 244.99L537.87 239.19L531.49 239.19Z" fill="#EE8630"/>
<path d="M607.82 282.96L611.01 277.16L604.63 277.16Z" fill="#EE8630"/>
<path d="M484.73 219.29L487.61 222.17L484.73 225.05L481.85 222.17Z" fill="#EE8630"/>
<path d="M534.68 224.87L537.56 227.75L534.68 230.63L531.8 227.75Z" fill="#EE8630"/>
<path d="M583.44 224.87L586.32 227.75L583.44 230.63L580.56 227.75Z" fill="#EE8630"/>
<circle cx="484.73" cy="234.7" r="2.9" fill="#EE8630"/>
<circle cx="510.3" cy="237.93" r="2.9" fill="#EE8630"/>
<circle cx="534.68" cy="257.16" r="2.9" fill="#EE8630"/>
<circle cx="583.44" cy="225.64" r="2.9" fill="#EE8630"/>
<circle cx="632.83" cy="288.31" r="2.9" fill="#EE8630"/>
<path d="M583.44 213.33L584.15 215.36L586.3 215.41L584.58 216.71L585.21 218.76L583.44 217.53L581.68 218.76L582.3 216.71L580.59 215.41L582.74 215.36Z" fill="#EE8630"/>
<path d="M607.82 233.19L608.53 235.22L610.68 235.26L608.96 236.56L609.59 238.62L607.82 237.39L606.06 238.62L606.68 236.56L604.97 235.26L607.12 235.22Z" fill="#EE8630"/>
<path d="M632.83 309.64L633.54 311.67L635.69 311.71L633.98 313.01L634.6 315.06L632.83 313.84L631.07 315.06L631.69 313.01L629.98 311.71L632.13 311.67Z" fill="#EE8630"/>
<rect x="556.16" y="217.65" width="5.8" height="5.8" fill="#EE8630"/>
<circle cx="484.73" cy="249.59" r="2.9" fill="#7A2FA6"/>
<circle cx="510.3" cy="262.25" r="2.9" fill="#7A2FA6"/>
<circle cx="534.68" cy="269.7" r="2.9" fill="#7A2FA6"/>
<circle cx="559.06" cy="283.22" r="2.9" fill="#7A2FA6"/>
<circle cx="583.44" cy="310.4" r="2.9" fill="#7A2FA6"/>
<circle cx="607.82" cy="300.1" r="2.9" fill="#7A2FA6"/>
<circle cx="632.83" cy="345.27" r="2.9" fill="#7A2FA6"/>
<rect x="481.83" y="228.33" width="5.8" height="5.8" fill="#7A2FA6"/>
<rect x="507.4" y="217.53" width="5.8" height="5.8" fill="#7A2FA6"/>
<rect x="531.78" y="246.2" width="5.8" height="5.8" fill="#7A2FA6"/>
<rect x="580.54" y="233.29" width="5.8" height="5.8" fill="#7A2FA6"/>
<rect x="604.92" y="336.79" width="5.8" height="5.8" fill="#7A2FA6"/>
<rect x="629.93" y="315.57" width="5.8" height="5.8" fill="#7A2FA6"/>
<path d="M510.3 241.05L513.49 246.85L507.11 246.85Z" fill="#7A2FA6"/>
<path d="M534.68 275.92L537.87 281.72L531.49 281.72Z" fill="#7A2FA6"/>
<path d="M583.44 297.88L586.63 303.68L580.25 303.68Z" fill="#7A2FA6"/>
<path d="M607.82 305.33L611.01 311.13L604.63 311.13Z" fill="#7A2FA6"/>
<path d="M632.83 346.28L636.02 352.08L629.64 352.08Z" fill="#7A2FA6"/>
<line x1="465.7" y1="288" x2="480.9" y2="288" stroke="#7A2FA6" stroke-width="1.5"/>
<circle cx="472.7" cy="288" r="2.4" fill="#7A2FA6"/>
<text x="488.4" y="291.1" font-size="8.5" fill="#222">SU-DIPG-17</text>
<line x1="465.7" y1="297.78" x2="480.9" y2="297.78" stroke="#7A2FA6" stroke-width="1.5"/>
<rect x="470.3" y="295.38" width="4.8" height="4.8" fill="#7A2FA6"/>
<text x="488.4" y="300.88" font-size="8.5" fill="#222">SU-DIPG-19</text>
<line x1="465.7" y1="307.56" x2="480.9" y2="307.56" stroke="#7A2FA6" stroke-width="1.5"/>
<path d="M472.7 304.8L475.34 309.6L470.06 309.6Z" fill="#7A2FA6"/>
<text x="488.4" y="310.66" font-size="8.5" fill="#222">SU-DIPG-33</text>
<line x1="465.7" y1="317.34" x2="480.9" y2="317.34" stroke="#EE8630" stroke-width="1.5"/>
<path d="M472.7 320.1L475.34 315.3L470.06 315.3Z" fill="#EE8630"/>
<text x="488.4" y="320.44" font-size="8.5" fill="#222">DIPG-CNMC</text>
<line x1="465.7" y1="327.12" x2="480.9" y2="327.12" stroke="#EE8630" stroke-width="1.5"/>
<path d="M472.7 324.24L475.58 327.12L472.7 330L469.82 327.12Z" fill="#EE8630"/>
<text x="488.4" y="330.22" font-size="8.5" fill="#222">SU-DIPG-24</text>
<line x1="465.7" y1="336.9" x2="480.9" y2="336.9" stroke="#EE8630" stroke-width="1.5"/>
<circle cx="472.7" cy="336.9" r="2.4" fill="#EE8630"/>
<text x="488.4" y="340" font-size="8.5" fill="#222">SU-DIPG-25</text>
<line x1="465.7" y1="346.68" x2="480.9" y2="346.68" stroke="#EE8630" stroke-width="1.5"/>
<path d="M472.7 344.18L473.29 345.87L475.08 345.91L473.65 346.99L474.17 348.7L472.7 347.68L471.23 348.7L471.75 346.99L470.32 345.91L472.11 345.87Z" fill="#EE8630"/>
<text x="488.4" y="349.78" font-size="8.5" fill="#222">DRIz</text>
<text transform="translate(103.3 534.9) rotate(-90)" font-size="11.5" fill="#222">7316-195-S</text>
<text transform="translate(114.48 534.9) rotate(-90)" font-size="11.5" fill="#222">7316-3058-S</text>
<text transform="translate(125.65 534.9) rotate(-90)" font-size="11.5" fill="#222">7316-6349-S</text>
<text transform="translate(136.83 534.9) rotate(-90)" font-size="11.5" fill="#222">P001401</text>
<text transform="translate(148 534.9) rotate(-90)" font-size="11.5" font-weight="bold" fill="#E8781E">SU-DIPG-25</text>
<text transform="translate(159.18 534.9) rotate(-90)" font-size="11.5" fill="#222">SU-DIPG-6</text>
<text transform="translate(170.35 534.9) rotate(-90)" font-size="11.5" fill="#222">P005401</text>
<text transform="translate(181.53 534.9) rotate(-90)" font-size="11.5" fill="#222">7316-388-A</text>
<text transform="translate(192.7 534.9) rotate(-90)" font-size="11.5" fill="#222">BT245</text>
<text transform="translate(203.88 534.9) rotate(-90)" font-size="11.5" fill="#222">DUB-D003-2D</text>
<text transform="translate(215.05 534.9) rotate(-90)" font-size="11.5" fill="#222">HGG080318</text>
<text transform="translate(226.23 534.9) rotate(-90)" font-size="11.5" fill="#222">JHH-DIPG-1</text>
<text transform="translate(237.4 534.9) rotate(-90)" font-size="11.5" fill="#222">OPBG-DIPG-004-2D</text>
<text transform="translate(248.58 534.9) rotate(-90)" font-size="11.5" fill="#222">PB19SH058</text>
<text transform="translate(259.75 534.9) rotate(-90)" font-size="11.5" fill="#222">PBT29FHTC</text>
<text transform="translate(270.92 534.9) rotate(-90)" font-size="11.5" fill="#222">PPMP058-140222</text>
<text transform="translate(282.1 534.9) rotate(-90)" font-size="11.5" fill="#222">RA055</text>
<text transform="translate(293.27 534.9) rotate(-90)" font-size="11.5" fill="#222">SF8628</text>
<text transform="translate(304.45 534.9) rotate(-90)" font-size="11.5" fill="#222">SU-DIPG-13</text>
<text transform="translate(315.62 534.9) rotate(-90)" font-size="11.5" fill="#222">SU-DIPG-13PStar</text>
<text transform="translate(326.8 534.9) rotate(-90)" font-size="11.5" font-weight="bold" fill="#7B2A93">SU-DIPG-17</text>
<text transform="translate(337.98 534.9) rotate(-90)" font-size="11.5" fill="#222">SU-DIPG-27</text>
<text transform="translate(349.15 534.9) rotate(-90)" font-size="11.5" fill="#222">SUPSCG1</text>
<text transform="translate(360.33 534.9) rotate(-90)" font-size="11.5" fill="#222">VUMC-11</text>
<text transform="translate(371.5 534.9) rotate(-90)" font-size="11.5" fill="#222">VUMC-8</text>
<text transform="translate(382.67 534.9) rotate(-90)" font-size="11.5" fill="#222">VUMC-A</text>
<text transform="translate(393.85 534.9) rotate(-90)" font-size="11.5" fill="#222">DUB-D003-2D</text>
<text transform="translate(405.02 534.9) rotate(-90)" font-size="11.5" fill="#222">ICR-B184-2D</text>
<text transform="translate(416.2 534.9) rotate(-90)" font-size="11.5" fill="#222">ICR-B301-2D</text>
<text transform="translate(427.38 534.9) rotate(-90)" font-size="11.5" fill="#222">OPBG-DIPG-004-2D</text>
<text transform="translate(438.55 534.9) rotate(-90)" font-size="11.5" fill="#222">P003302</text>
<text transform="translate(449.73 534.9) rotate(-90)" font-size="11.5" font-weight="bold" fill="#7B2A93">SU-DIPG-33</text>
<text transform="translate(460.9 534.9) rotate(-90)" font-size="11.5" fill="#222">SU-DIPG-4</text>
<text transform="translate(472.08 534.9) rotate(-90)" font-size="11.5" fill="#222">UON-JUMP4</text>
<text transform="translate(483.25 534.9) rotate(-90)" font-size="11.5" fill="#222">7316-1763-S1</text>
<text transform="translate(494.42 534.9) rotate(-90)" font-size="11.5" fill="#222">PBT22FHTC</text>
<text transform="translate(505.6 534.9) rotate(-90)" font-size="11.5" font-weight="bold" fill="#E8781E">SU-DIPG-24</text>
<text transform="translate(516.77 534.9) rotate(-90)" font-size="11.5" fill="#222">SU-DIPG-29</text>
<text transform="translate(527.95 534.9) rotate(-90)" font-size="11.5" fill="#222">SU-DIPG-36</text>
<text transform="translate(539.12 534.9) rotate(-90)" font-size="11.5" fill="#222">SU-DIPG-38</text>
<text transform="translate(550.3 534.9) rotate(-90)" font-size="11.5" fill="#222">7316-3058-A-1</text>
<text transform="translate(561.48 534.9) rotate(-90)" font-size="11.5" fill="#222">JHH-DIPG-2J</text>
<text transform="translate(572.65 534.9) rotate(-90)" font-size="11.5" fill="#222">P005306</text>
<text transform="translate(583.83 534.9) rotate(-90)" font-size="11.5" fill="#222">SF7761</text>
<text transform="translate(595 534.9) rotate(-90)" font-size="11.5" fill="#222">SU-DIPG-21</text>
<text transform="translate(606.18 534.9) rotate(-90)" font-size="11.5" font-weight="bold" fill="#7B2A93">SU-DIPG-19</text>
<text transform="translate(617.35 534.9) rotate(-90)" font-size="11.5" fill="#222">P002306</text>
<text transform="translate(628.52 534.9) rotate(-90)" font-size="11.5" fill="#222">SU-DIPG-35</text>
<text transform="translate(639.7 534.9) rotate(-90)" font-size="11.5" fill="#222">7316-1769-S</text>
<text transform="translate(650.88 534.9) rotate(-90)" font-size="11.5" fill="#222">7316-6475-S1</text>
<text transform="translate(662.05 534.9) rotate(-90)" font-size="11.5" fill="#222">HSJD-DIPG-007</text>
<text x="94" y="546.15" font-size="10.5" font-weight="bold" font-style="italic" text-anchor="end">H3F3A-K27M</text>
<text x="94" y="556.83" font-size="10.5" font-weight="bold" font-style="italic" text-anchor="end">HIST1H3B/C-K27M</text>
<text x="94" y="567.51" font-size="10.5" font-weight="bold" font-style="italic" text-anchor="end">Gender</text>
<text x="94" y="578.19" font-size="10.5" font-weight="bold" font-style="italic" text-anchor="end">TP53 SNP</text>
<text x="94" y="588.87" font-size="10.5" font-weight="bold" font-style="italic" text-anchor="end">TP53 CNV</text>
<text x="94" y="599.55" font-size="10.5" font-weight="bold" font-style="italic" text-anchor="end">ATM SNP</text>
<text x="94" y="610.23" font-size="10.5" font-weight="bold" font-style="italic" text-anchor="end">ATM CNV</text>
<text x="94" y="620.91" font-size="10.5" font-weight="bold" font-style="italic" text-anchor="end">PPM1D SNP</text>
<text x="94" y="631.59" font-size="10.5" font-weight="bold" font-style="italic" text-anchor="end">PPM1D CNV</text>
<text x="94" y="642.27" font-size="10.5" font-weight="bold" font-style="italic" text-anchor="end">ARID1A SNP</text>
<text x="94" y="652.95" font-size="10.5" font-weight="bold" font-style="italic" text-anchor="end">ARID1A CNV</text>
<text x="668.5" y="545.85" font-size="7.7" fill="#222">75%</text>
<text x="668.5" y="556.53" font-size="7.7" fill="#222">25%</text>
<text x="668.5" y="577.89" font-size="7.7" fill="#222">75%</text>
<text x="668.5" y="588.57" font-size="7.7" fill="#222">34%</text>
<text x="668.5" y="599.25" font-size="7.7" fill="#222">20%</text>
<text x="668.5" y="609.93" font-size="7.7" fill="#222">14%</text>
<text x="668.5" y="620.61" font-size="7.7" fill="#222">11%</text>
<text x="668.5" y="631.29" font-size="7.7" fill="#222">27%</text>
<text x="668.5" y="641.97" font-size="7.7" fill="#222">39%</text>
<text x="668.5" y="652.65" font-size="7.7" fill="#222">23%</text>
<rect x="96.4" y="538.1" width="10.1" height="9.7" fill="#4BC158"/>
<rect x="107.58" y="538.1" width="10.1" height="9.7" fill="#4BC158"/>
<rect x="118.75" y="538.1" width="10.1" height="9.7" fill="#4BC158"/>
<rect x="129.93" y="538.1" width="10.1" height="9.7" fill="#4BC158"/>
<rect x="141.1" y="538.1" width="10.1" height="9.7" fill="#4BC158"/>
<rect x="152.28" y="538.1" width="10.1" height="9.7" fill="#4BC158"/>
<rect x="174.62" y="538.1" width="10.1" height="9.7" fill="#4BC158"/>
<rect x="185.8" y="538.1" width="10.1" height="9.7" fill="#4BC158"/>
<rect x="196.98" y="538.1" width="10.1" height="9.7" fill="#4BC158"/>
<rect x="208.15" y="538.1" width="10.1" height="9.7" fill="#4BC158"/>
<rect x="219.33" y="538.1" width="10.1" height="9.7" fill="#4BC158"/>
<rect x="230.5" y="538.1" width="10.1" height="9.7" fill="#4BC158"/>
<rect x="241.68" y="538.1" width="10.1" height="9.7" fill="#4BC158"/>
<rect x="252.85" y="538.1" width="10.1" height="9.7" fill="#4BC158"/>
<rect x="264.02" y="538.1" width="10.1" height="9.7" fill="#4BC158"/>
<rect x="275.2" y="538.1" width="10.1" height="9.7" fill="#4BC158"/>
<rect x="286.38" y="538.1" width="10.1" height="9.7" fill="#4BC158"/>
<rect x="297.55" y="538.1" width="10.1" height="9.7" fill="#4BC158"/>
<rect x="308.73" y="538.1" width="10.1" height="9.7" fill="#4BC158"/>
<rect x="319.9" y="538.1" width="10.1" height="9.7" fill="#4BC158"/>
<rect x="331.08" y="538.1" width="10.1" height="9.7" fill="#4BC158"/>
<rect x="342.25" y="538.1" width="10.1" height="9.7" fill="#4BC158"/>
<rect x="353.43" y="538.1" width="10.1" height="9.7" fill="#4BC158"/>
<rect x="364.6" y="538.1" width="10.1" height="9.7" fill="#4BC158"/>
<rect x="375.77" y="538.1" width="10.1" height="9.7" fill="#4BC158"/>
<rect x="476.35" y="538.1" width="10.1" height="9.7" fill="#4BC158"/>
<rect x="487.52" y="538.1" width="10.1" height="9.7" fill="#4BC158"/>
<rect x="498.7" y="538.1" width="10.1" height="9.7" fill="#4BC158"/>
<rect x="509.88" y="538.1" width="10.1" height="9.7" fill="#4BC158"/>
<rect x="543.4" y="538.1" width="10.1" height="9.7" fill="#4BC158"/>
<rect x="554.58" y="538.1" width="10.1" height="9.7" fill="#4BC158"/>
<rect x="565.75" y="538.1" width="10.1" height="9.7" fill="#4BC158"/>
<rect x="576.93" y="538.1" width="10.1" height="9.7" fill="#4BC158"/>
<rect x="599.28" y="538.1" width="10.1" height="9.7" fill="#4BC158"/>
<rect x="610.45" y="538.1" width="10.1" height="9.7" fill="#4BC158"/>
<rect x="621.62" y="538.1" width="10.1" height="9.7" fill="#4BC158"/>
<rect x="632.8" y="538.1" width="10.1" height="9.7" fill="#4BC158"/>
<rect x="643.98" y="538.1" width="10.1" height="9.7" fill="#4BC158"/>
<rect x="655.15" y="538.1" width="10.1" height="9.7" fill="#4BC158"/>
<rect x="163.45" y="548.78" width="10.1" height="9.7" fill="#4BC158"/>
<rect x="386.95" y="548.78" width="10.1" height="9.7" fill="#4BC158"/>
<rect x="398.12" y="548.78" width="10.1" height="9.7" fill="#4BC158"/>
<rect x="409.3" y="548.78" width="10.1" height="9.7" fill="#4BC158"/>
<rect x="420.48" y="548.78" width="10.1" height="9.7" fill="#4BC158"/>
<rect x="431.65" y="548.78" width="10.1" height="9.7" fill="#4BC158"/>
<rect x="442.83" y="548.78" width="10.1" height="9.7" fill="#4BC158"/>
<rect x="454" y="548.78" width="10.1" height="9.7" fill="#4BC158"/>
<rect x="465.18" y="548.78" width="10.1" height="9.7" fill="#4BC158"/>
<rect x="521.05" y="548.78" width="10.1" height="9.7" fill="#4BC158"/>
<rect x="532.23" y="548.78" width="10.1" height="9.7" fill="#4BC158"/>
<rect x="588.1" y="548.78" width="10.1" height="9.7" fill="#4BC158"/>
<rect x="96.4" y="570.14" width="10.1" height="9.7" fill="#C4262B"/>
<rect x="107.58" y="570.14" width="10.1" height="9.7" fill="#C4262B"/>
<rect x="118.75" y="570.14" width="10.1" height="9.7" fill="#C4262B"/>
<rect x="129.93" y="570.14" width="10.1" height="9.7" fill="#C4262B"/>
<rect x="141.1" y="570.14" width="10.1" height="9.7" fill="#C4262B"/>
<rect x="152.28" y="570.14" width="10.1" height="9.7" fill="#C4262B"/>
<rect x="163.45" y="570.14" width="10.1" height="9.7" fill="#C4262B"/>
<rect x="174.62" y="570.14" width="10.1" height="9.7" fill="#4BC158"/>
<rect x="185.8" y="570.14" width="10.1" height="9.7" fill="#4BC158"/>
<rect x="196.98" y="570.14" width="10.1" height="9.7" fill="#4BC158"/>
<rect x="208.15" y="570.14" width="10.1" height="9.7" fill="#4BC158"/>
<rect x="219.33" y="570.14" width="10.1" height="9.7" fill="#4BC158"/>
<rect x="230.5" y="570.14" width="10.1" height="9.7" fill="#4BC158"/>
<rect x="241.68" y="570.14" width="10.1" height="9.7" fill="#4BC158"/>
<rect x="252.85" y="570.14" width="10.1" height="9.7" fill="#4BC158"/>
<rect x="264.02" y="570.14" width="10.1" height="9.7" fill="#4BC158"/>
<rect x="275.2" y="570.14" width="10.1" height="9.7" fill="#4BC158"/>
<rect x="286.38" y="570.14" width="10.1" height="9.7" fill="#4BC158"/>
<rect x="297.55" y="570.14" width="10.1" height="9.7" fill="#4BC158"/>
<rect x="308.73" y="570.14" width="10.1" height="9.7" fill="#4BC158"/>
<rect x="319.9" y="570.14" width="10.1" height="9.7" fill="#4BC158"/>
<rect x="331.08" y="570.14" width="10.1" height="9.7" fill="#4BC158"/>
<rect x="342.25" y="570.14" width="10.1" height="9.7" fill="#4BC158"/>
<rect x="353.43" y="570.14" width="10.1" height="9.7" fill="#4BC158"/>
<rect x="364.6" y="570.14" width="10.1" height="9.7" fill="#4BC158"/>
<rect x="375.77" y="570.14" width="10.1" height="9.7" fill="#4BC158"/>
<rect x="386.95" y="570.14" width="10.1" height="9.7" fill="#4BC158"/>
<rect x="398.12" y="570.14" width="10.1" height="9.7" fill="#4BC158"/>
<rect x="409.3" y="570.14" width="10.1" height="9.7" fill="#4BC158"/>
<rect x="420.48" y="570.14" width="10.1" height="9.7" fill="#4BC158"/>
<rect x="431.65" y="570.14" width="10.1" height="9.7" fill="#4BC158"/>
<rect x="442.83" y="570.14" width="10.1" height="9.7" fill="#4BC158"/>
<rect x="454" y="570.14" width="10.1" height="9.7" fill="#4BC158"/>
<rect x="465.18" y="570.14" width="10.1" height="9.7" fill="#4BC158"/>
<rect x="476.35" y="570.14" width="10.1" height="9.7" fill="#7536A2"/>
<rect x="487.52" y="570.14" width="10.1" height="9.7" fill="#7536A2"/>
<rect x="498.7" y="570.14" width="10.1" height="9.7" fill="#7536A2"/>
<rect x="509.88" y="570.14" width="10.1" height="9.7" fill="#7536A2"/>
<rect x="521.05" y="570.14" width="10.1" height="9.7" fill="#4582C4"/>
<rect x="532.23" y="570.14" width="10.1" height="9.7" fill="#E5312F"/>
<rect x="107.58" y="580.82" width="10.1" height="9.7" fill="#2E3370"/>
<rect x="129.93" y="580.82" width="10.1" height="9.7" fill="#2E3370"/>
<rect x="174.62" y="580.82" width="10.1" height="9.7" fill="#2E3370"/>
<rect x="208.15" y="580.82" width="10.1" height="9.7" fill="#2E3370"/>
<rect x="275.2" y="580.82" width="10.1" height="9.7" fill="#2E3370"/>
<rect x="286.38" y="580.82" width="10.1" height="9.7" fill="#2E3370"/>
<rect x="353.43" y="580.82" width="10.1" height="9.7" fill="#2E3370"/>
<rect x="364.6" y="580.82" width="10.1" height="9.7" fill="#2E3370"/>
<rect x="375.77" y="580.82" width="10.1" height="9.7" fill="#7E381E"/>
<rect x="398.12" y="580.82" width="10.1" height="9.7" fill="#2E3370"/>
<rect x="420.48" y="580.82" width="10.1" height="9.7" fill="#2E3370"/>
<rect x="431.65" y="580.82" width="10.1" height="9.7" fill="#2E3370"/>
<rect x="454" y="580.82" width="10.1" height="9.7" fill="#2E3370"/>
<rect x="465.18" y="580.82" width="10.1" height="9.7" fill="#2E3370"/>
<rect x="498.7" y="580.82" width="10.1" height="9.7" fill="#2E3370"/>
<rect x="521.05" y="580.82" width="10.1" height="9.7" fill="#2E3370"/>
<rect x="543.4" y="580.82" width="10.1" height="9.7" fill="#2E3370"/>
<rect x="107.58" y="591.5" width="10.1" height="9.7" fill="#C4262B"/>
<rect x="118.75" y="591.5" width="10.1" height="9.7" fill="#4BC158"/>
<rect x="152.28" y="591.5" width="10.1" height="9.7" fill="#4582C4"/>
<rect x="185.8" y="591.5" width="10.1" height="9.7" fill="#4BC158"/>
<rect x="275.2" y="591.5" width="10.1" height="9.7" fill="#C4262B"/>
<rect x="353.43" y="591.5" width="10.1" height="9.7" fill="#4BC158"/>
<rect x="543.4" y="591.5" width="10.1" height="9.7" fill="#C4262B"/>
<rect x="554.58" y="591.5" width="10.1" height="9.7" fill="#C4262B"/>
<rect x="565.75" y="591.5" width="10.1" height="9.7" fill="#C4262B"/>
<rect x="576.93" y="591.5" width="10.1" height="9.7" fill="#C4262B"/>
<rect x="588.1" y="591.5" width="10.1" height="9.7" fill="#C4262B"/>
<rect x="599.28" y="591.5" width="10.1" height="9.7" fill="#E8B83A"/>
<rect x="208.15" y="602.18" width="10.1" height="9.7" fill="#7E381E"/>
<rect x="241.68" y="602.18" width="10.1" height="9.7" fill="#7E381E"/>
<rect x="319.9" y="602.18" width="10.1" height="9.7" fill="#7E381E"/>
<rect x="364.6" y="602.18" width="10.1" height="9.7" fill="#7E381E"/>
<rect x="543.4" y="602.18" width="10.1" height="9.7" fill="#7E381E"/>
<rect x="599.28" y="602.18" width="10.1" height="9.7" fill="#2E3370"/>
<rect x="107.58" y="612.86" width="10.1" height="9.7" fill="#E5312F"/>
<rect x="286.38" y="612.86" width="10.1" height="9.7" fill="#4BC158"/>
<rect x="543.4" y="612.86" width="10.1" height="9.7" fill="#C4262B"/>
<rect x="576.93" y="612.86" width="10.1" height="9.7" fill="#7536A2"/>
<rect x="610.45" y="612.86" width="10.1" height="9.7" fill="#7536A2"/>
<rect x="621.62" y="612.86" width="10.1" height="9.7" fill="#E5312F"/>
<rect x="118.75" y="623.54" width="10.1" height="9.7" fill="#7E381E"/>
<rect x="129.93" y="623.54" width="10.1" height="9.7" fill="#7E381E"/>
<rect x="152.28" y="623.54" width="10.1" height="9.7" fill="#7E381E"/>
<rect x="163.45" y="623.54" width="10.1" height="9.7" fill="#2E3370"/>
<rect x="185.8" y="623.54" width="10.1" height="9.7" fill="#2E3370"/>
<rect x="208.15" y="623.54" width="10.1" height="9.7" fill="#7E381E"/>
<rect x="286.38" y="623.54" width="10.1" height="9.7" fill="#7E381E"/>
<rect x="342.25" y="623.54" width="10.1" height="9.7" fill="#2E3370"/>
<rect x="353.43" y="623.54" width="10.1" height="9.7" fill="#7E381E"/>
<rect x="364.6" y="623.54" width="10.1" height="9.7" fill="#2E3370"/>
<rect x="386.95" y="623.54" width="10.1" height="9.7" fill="#2E3370"/>
<rect x="398.12" y="623.54" width="10.1" height="9.7" fill="#7E381E"/>
<rect x="409.3" y="623.54" width="10.1" height="9.7" fill="#2E3370"/>
<rect x="509.88" y="623.54" width="10.1" height="9.7" fill="#7E381E"/>
<rect x="532.23" y="623.54" width="10.1" height="9.7" fill="#2E3370"/>
<rect x="621.62" y="623.54" width="10.1" height="9.7" fill="#7E381E"/>
<rect x="141.1" y="634.22" width="10.1" height="9.7" fill="#4BC158"/>
<rect x="163.45" y="634.22" width="10.1" height="9.7" fill="#C4262B"/>
<rect x="297.55" y="634.22" width="10.1" height="9.7" fill="#4BC158"/>
<rect x="331.08" y="634.22" width="10.1" height="9.7" fill="#C4262B"/>
<rect x="353.43" y="634.22" width="10.1" height="9.7" fill="#C4262B"/>
<rect x="364.6" y="634.22" width="10.1" height="9.7" fill="#4BC158"/>
<rect x="398.12" y="634.22" width="10.1" height="9.7" fill="#4582C4"/>
<rect x="409.3" y="634.22" width="10.1" height="9.7" fill="#4BC158"/>
<rect x="442.83" y="634.22" width="10.1" height="9.7" fill="#4BC158"/>
<rect x="454" y="634.22" width="10.1" height="9.7" fill="#C4262B"/>
<rect x="476.35" y="634.22" width="10.1" height="9.7" fill="#C4262B"/>
<rect x="498.7" y="634.22" width="10.1" height="9.7" fill="#4BC158"/>
<rect x="509.88" y="634.22" width="10.1" height="9.7" fill="#4BC158"/>
<rect x="521.05" y="634.22" width="10.1" height="9.7" fill="#C4262B"/>
<rect x="543.4" y="634.22" width="10.1" height="9.7" fill="#C4262B"/>
<rect x="576.93" y="634.22" width="10.1" height="9.7" fill="#E8B83A"/>
<rect x="588.1" y="634.22" width="10.1" height="9.7" fill="#C4262B"/>
<rect x="599.28" y="634.22" width="10.1" height="9.7" fill="#4BC158"/>
<rect x="610.45" y="634.22" width="10.1" height="9.7" fill="#C4262B"/>
<rect x="96.4" y="644.9" width="10.1" height="9.7" fill="#2E3370"/>
<rect x="129.93" y="644.9" width="10.1" height="9.7" fill="#2E3370"/>
<rect x="252.85" y="644.9" width="10.1" height="9.7" fill="#2E3370"/>
<rect x="386.95" y="644.9" width="10.1" height="9.7" fill="#2E3370"/>
<rect x="409.3" y="644.9" width="10.1" height="9.7" fill="#2E3370"/>
<rect x="487.52" y="644.9" width="10.1" height="9.7" fill="#2E3370"/>
<rect x="521.05" y="644.9" width="10.1" height="9.7" fill="#2E3370"/>
<rect x="532.23" y="644.9" width="10.1" height="9.7" fill="#2E3370"/>
<rect x="565.75" y="644.9" width="10.1" height="9.7" fill="#2E3370"/>
<rect x="576.93" y="644.9" width="10.1" height="9.7" fill="#2E3370"/>
<rect x="610.45" y="644.9" width="10.1" height="9.7" fill="#2E3370"/>
<rect x="632.8" y="644.9" width="10.1" height="9.7" fill="#2E3370"/>
<text x="101.45" y="567" font-size="7.6" text-anchor="middle" fill="#222">M</text>
<text x="112.62" y="567" font-size="7.6" text-anchor="middle" fill="#222">M</text>
<text x="123.8" y="567" font-size="7.6" text-anchor="middle" fill="#222">F</text>
<text x="134.98" y="567" font-size="7.6" text-anchor="middle" fill="#222">M</text>
<text x="146.15" y="567" font-size="7.6" text-anchor="middle" fill="#222">F</text>
<text x="157.33" y="567" font-size="7.6" text-anchor="middle" fill="#222">F</text>
<text x="168.5" y="567" font-size="7.6" text-anchor="middle" fill="#222">F</text>
<text x="179.68" y="567" font-size="7.6" text-anchor="middle" fill="#222">F</text>
<text x="190.85" y="567" font-size="7.6" text-anchor="middle" fill="#222">M</text>
<text x="202.03" y="567" font-size="7.6" text-anchor="middle" fill="#222">M</text>
<text x="213.2" y="567" font-size="7.6" text-anchor="middle" fill="#222">M</text>
<text x="224.38" y="567" font-size="7.6" text-anchor="middle" fill="#222">M</text>
<text x="235.55" y="567" font-size="7.6" text-anchor="middle" fill="#222">M</text>
<text x="246.73" y="567" font-size="7.6" text-anchor="middle" fill="#222">M</text>
<text x="257.9" y="567" font-size="7.6" text-anchor="middle" fill="#222">F</text>
<text x="269.07" y="567" font-size="7.6" text-anchor="middle" fill="#222">M</text>
<text x="280.25" y="567" font-size="7.6" text-anchor="middle" fill="#222">F</text>
<text x="291.43" y="567" font-size="7.6" text-anchor="middle" fill="#222">F</text>
<text x="302.6" y="567" font-size="7.6" text-anchor="middle" fill="#222">F</text>
<text x="313.78" y="567" font-size="7.6" text-anchor="middle" fill="#222">F</text>
<text x="324.95" y="567" font-size="7.6" text-anchor="middle" fill="#222">M</text>
<text x="336.13" y="567" font-size="7.6" text-anchor="middle" fill="#222">M</text>
<text x="347.3" y="567" font-size="7.6" text-anchor="middle" fill="#222">M</text>
<text x="358.48" y="567" font-size="7.6" text-anchor="middle" fill="#222">M</text>
<text x="369.65" y="567" font-size="7.6" text-anchor="middle" fill="#222">M</text>
<text x="380.82" y="567" font-size="7.6" text-anchor="middle" fill="#222">F</text>
<text x="392" y="567" font-size="7.6" text-anchor="middle" fill="#222">M</text>
<text x="403.18" y="567" font-size="7.6" text-anchor="middle" fill="#222">F</text>
<text x="414.35" y="567" font-size="7.6" text-anchor="middle" fill="#222">F</text>
<text x="425.53" y="567" font-size="7.6" text-anchor="middle" fill="#222">M</text>
<text x="436.7" y="567" font-size="7.6" text-anchor="middle" fill="#222">F</text>
<text x="447.88" y="567" font-size="7.6" text-anchor="middle" fill="#222">M</text>
<text x="459.05" y="567" font-size="7.6" text-anchor="middle" fill="#222">F</text>
<text x="470.23" y="567" font-size="7.6" text-anchor="middle" fill="#222">F</text>
<text x="481.4" y="567" font-size="7.6" text-anchor="middle" fill="#222">F</text>
<text x="492.57" y="567" font-size="7.6" text-anchor="middle" fill="#222">F</text>
<text x="503.75" y="567" font-size="7.6" text-anchor="middle" fill="#222">F</text>
<text x="514.92" y="567" font-size="7.6" text-anchor="middle" fill="#222">F</text>
<text x="526.1" y="567" font-size="7.6" text-anchor="middle" fill="#222">F</text>
<text x="537.27" y="567" font-size="7.6" text-anchor="middle" fill="#222">F</text>
<text x="548.45" y="567" font-size="7.6" text-anchor="middle" fill="#222">M</text>
<text x="559.62" y="567" font-size="7.6" text-anchor="middle" fill="#222">M</text>
<text x="570.8" y="567" font-size="7.6" text-anchor="middle" fill="#222">M</text>
<text x="581.98" y="567" font-size="7.6" text-anchor="middle" fill="#222">F</text>
<text x="593.15" y="567" font-size="7.6" text-anchor="middle" fill="#222">M</text>
<text x="604.33" y="567" font-size="7.6" text-anchor="middle" fill="#222">M</text>
<text x="615.5" y="567" font-size="7.6" text-anchor="middle" fill="#222">M</text>
<text x="626.67" y="567" font-size="7.6" text-anchor="middle" fill="#222">F</text>
<text x="637.85" y="567" font-size="7.6" text-anchor="middle" fill="#222">M</text>
<text x="649.02" y="567" font-size="7.6" text-anchor="middle" fill="#222">F</text>
<text x="660.2" y="567" font-size="7.6" text-anchor="middle" fill="#222">M</text>
<rect x="96.1" y="665.5" width="9.6" height="9.4" fill="#4BC158"/>
<text x="109.3" y="673" font-size="7.6" font-weight="bold" fill="#111">Missense Mutation</text>
<rect x="96.1" y="676" width="9.6" height="9.4" fill="#7536A2"/>
<text x="109.3" y="683.5" font-size="7.6" font-weight="bold" fill="#111">Nonsense Mutation</text>
<rect x="219.3" y="665.5" width="9.6" height="9.4" fill="#C4262B"/>
<text x="232.2" y="673" font-size="7.6" font-weight="bold" fill="#111">Multiple SNP alterations</text>
<rect x="219.3" y="676" width="9.6" height="9.4" fill="#4582C4"/>
<text x="232.2" y="683.5" font-size="7.6" font-weight="bold" fill="#111">Splice Site</text>
<rect x="353.6" y="665.5" width="9.6" height="9.4" fill="#E8B83A"/>
<text x="366.8" y="673" font-size="7.6" font-weight="bold" fill="#111">aaDel</text>
<rect x="353.6" y="676" width="9.6" height="9.4" fill="#E5312F"/>
<text x="366.8" y="683.5" font-size="7.6" font-weight="bold" fill="#111">Frameshift</text>
<rect x="476.4" y="665.5" width="9.6" height="9.4" fill="#2E3370"/>
<text x="488.9" y="673" font-size="7.6" font-weight="bold" fill="#111">Deletion</text>
<rect x="476.4" y="676" width="9.6" height="9.4" fill="#7E381E"/>
<text x="488.9" y="683.5" font-size="7.6" font-weight="bold" fill="#111">Amplification</text>
<text x="600.4" y="673" font-size="7.6" fill="#222">M</text>
<text x="600.4" y="683.5" font-size="7.6" fill="#222">F</text>
<text x="611.8" y="673" font-size="7.6" font-weight="bold" fill="#111">Male</text>
<text x="611.8" y="683.5" font-size="7.6" font-weight="bold" fill="#111">Female</text>
</svg>
</body></html>
